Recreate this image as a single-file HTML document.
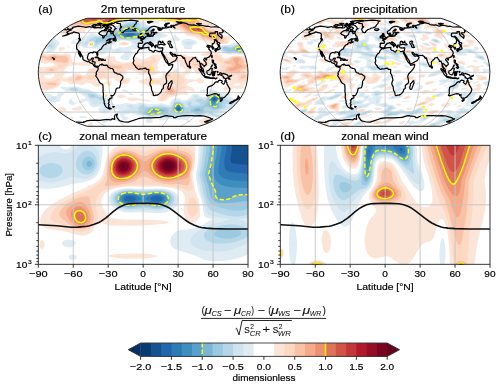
<!DOCTYPE html>
<html><head><meta charset="utf-8"><style>
html,body{margin:0;padding:0;background:#fff;width:500px;height:387px;overflow:hidden}
svg{display:block;will-change:transform}
text{font-family:"Liberation Sans",sans-serif;fill:#000;stroke:#000;stroke-width:0.18px}
.fm text{stroke-width:0.05px;fill:#111}
</style></head><body>
<svg width="500" height="387" viewBox="0 0 500 387">
<rect width="500" height="387" fill="#fff"/>
<clipPath id="cc"><rect x="38.3" y="145.3" width="209.70" height="119.00"/></clipPath>
<g clip-path="url(#cc)">
<path fill="#e0ecf3" d="M37 144 60.6 144 60.4 145 60.5 146 60.9 147 61.7 148 63 148.9 64 149.3 66 149.5 68 149.2 70 148 70.8 147 71.2 146 71.3 145 71.1 144 101.6 144 102.3 146 102.6 148 102.6 153 101.1 165 100.5 168 99.5 171 98.5 173 97.2 175 96 176.3 94.1 178 90.7 180 86 181.6 82 182.5 72 183.9 60 187.2 54 188.3 50 188.7 45 188.7 41 188.4 37 187.7 37 144 M198.4 144 249 144 249 254 246 255.4 242 256.9 237 258.4 232 259.6 227 260.4 222 260.9 217 261.1 212 261 208 260.6 205 260 203 259.4 201 258.6 196.2 256 193.7 255 180.5 251 175.2 249 173.6 248 172.4 247 171.6 246 170.6 244 170.3 243 170.1 241 170.4 239 170.7 238 172.5 235 174.4 233 176 231.8 178 230.8 180.9 230 190 229.2 193 228.6 196 227.6 203.8 224 212.5 219 206.9 218 205 216.7 204.1 215 203.4 212 201.5 200 198.3 191 197.6 186 196.4 181 195.7 174 196.8 169 197.8 162 198.8 150 198.4 144 M121.8 189 125 188.6 129 188.3 133 188.4 143 189 157 188.4 163 188.8 168 189.6 171 190.5 173 191.3 175 192.4 176.8 194 178.1 196 178.7 198 178.8 200 178.5 202 177.8 204 177 205.5 175.9 207 174 208.8 172 210.1 169 211.5 164 212.7 160 213.1 157 213.2 143 212.2 130 212.6 127 212.4 123 211.7 120 210.8 117 209.6 115 208.5 112.9 207 111 205.3 110 204 109 202 108.5 200 108.7 198 109.4 196 110.8 194 111.8 193 113.2 192 116 190.6 119 189.6 121.8 189 M65.6 240 67 239.7 69 239.6 71 239.9 73 240.5 74 241 75.2 242 75.7 243 75.7 244 75.2 245 74.1 246 72 246.9 70 247.3 68 247.3 65 246.6 63.7 246 62.6 245 62 244 61.9 243 62.4 242 63.4 241 65.6 240 M70.2 255 72 254.5 73 254.4 75 254.9 76.4 256 76.9 257 76.7 258 75.8 259 74 259.7 72 259.7 70 259.1 68.9 258 68.6 257 69 256 70.2 255"/>
<path fill="#cfe4ef" d="M81.6 145 84 144.5 87 144.3 90 144.8 92 145.5 94 146.6 96 148.3 97.2 150 98.2 152 99 155 99.3 158 99.3 162 98.8 166 98 168.7 96.9 171 95 173.7 93 175.5 91 176.8 89 177.7 87 178.3 84 178.7 80 178.5 73 177.1 70 177.3 68 177.9 62.9 180 59 181.3 55 182.1 52 182.4 48 182.4 44 181.8 40 180.5 37 179 37 158.7 40 156.6 44 154.6 47 153.5 51 152.5 54 152.1 56 152.1 63 153.3 65 153.4 67 153.2 69 152.7 72 151.2 76 147.8 78 146.4 80 145.5 81.6 145 M200.5 144 249 144 249 218 238.4 219 242 220.3 249 224.2 249 242.3 245 244.4 240 246.6 232 249.5 225.4 251 219 251.7 213 251.6 206 250.8 202.3 250 199 249 195 247.1 192.4 245 191.7 244 190.7 242 190.6 241 190.8 239 191.2 238 192.5 236 194.4 234 196.8 232 199.5 230 202.7 228 207 226 211 224.6 231.4 219 220.5 218 212 216.1 210 215.4 208 214.1 207 213.1 206 211.3 205 208.1 203.4 200 200.4 191 199.7 186 198.2 180 197.5 174 198.4 170 199.3 165 200.9 150 200.5 144 M121.3 190 125 189.4 130 189.1 143 189.9 154 189.3 158 189.2 162 189.5 165 190 168 190.7 170 191.4 172 192.4 174.1 194 174.9 195 175.9 197 176.3 199 176.1 201 175.4 203 174.8 204 174 205 172 206.8 170 208 168 209 166 209.6 163 210.3 160 210.7 156 210.8 143 209.7 130 210.5 127 210.3 124 209.8 122 209.3 119 208.3 117 207.3 115 206 113.8 205 112.1 203 111.5 202 110.9 200 110.9 199 111.2 197 112.3 195 113.1 194 114.3 193 116 191.9 118 191 121.3 190"/>
<path fill="#b3d6e8" d="M203.1 144 249 144 249 214.3 243 215.8 239 216.4 235 216.5 230 216.1 225 215 213 211.3 211 210.3 210 209.6 208.6 208 208 207 207 204.7 203.1 192 202.1 186 200.5 180 199.5 174 200.5 170 201.5 165 203.4 150 203.1 144 M87 151 89 151.1 91 151.7 93 153 94 154 95 155.4 96.2 158 96.7 160 96.9 163 96.8 165 96.2 167 95.3 169 93.9 171 92 172.7 90 173.8 88 174.4 86 174.6 84 174.3 82 173.6 80 172.3 78.7 171 77.3 169 76.4 167 76.1 165 76.1 163 76.4 161 77 159 78 157 79.4 155 81 153.4 83 152.1 85 151.3 87 151 M50 163 54 163.2 57 163.9 59.2 165 60.6 166 61.6 167 62.6 169 62.7 171 61.8 173 60 175 58.5 176 56 177.1 53 177.9 50 178 47 177.7 44.6 177 42 175.6 40.4 174 39.4 172 39.3 170 40 168 40.8 167 43 165.1 45 164.1 47 163.5 50 163 M127.3 190 132 190 143 190.9 146 190.8 154 190.1 158 190 162 190.3 165 190.9 168 191.9 170 192.8 171.6 194 172.6 195 173.3 196 174 198 174.1 199 173.9 201 173 202.8 172.1 204 169.7 206 166 207.8 162 208.8 159 209.1 156 209.1 146 208.1 143 207.9 131 208.9 127 208.8 124 208.3 121 207.4 119 206.6 117 205.4 115.3 204 114 202.4 113.3 201 112.9 199 113 198 113.7 196 114.4 195 115.3 194 117 192.7 119 191.7 121.1 191 124 190.4 127.3 190 M224.2 225 229 224.4 234 224.4 238 225 241.4 226 245.5 228 248 230 249 231.6 249 234.4 248 236 246.9 237 244 238.8 241 240.1 237 241.4 233 242.4 229 243.1 225 243.5 221 243.7 218 243.6 215 243.2 212 242.6 209 241.6 207 240.5 205.2 239 204.5 238 204 237 203.8 236 204.1 234 205.3 232 207.6 230 211 228.3 214.7 227 219 226 224.2 225"/>
<path fill="#9bc9e0" d="M206.1 144 249 144 249 208.3 243 210 240 210.5 236 210.8 233 210.5 230 209.9 217 206.6 214 205.6 212 204.6 211.3 204 209.6 202 208 198.9 207 196 205.8 191 205 186 203.2 180 202 174 204.1 165 206.4 150 206.1 144 M86.6 157 88 156.6 89 156.6 91 157.2 92 157.9 93.1 159 94 160.5 94.5 162 94.6 164 94.5 165 93.7 167 93 168.1 92 169.1 91 169.8 89 170.4 87 170.4 85.9 170 84.3 169 83.5 168 82.9 167 82.3 165 82.2 163 82.4 162 83.1 160 83.8 159 84.8 158 86.6 157 M125.3 191 129 190.7 132 190.8 143 191.9 146 191.8 156 190.8 160 190.9 163 191.4 165.4 192 167.8 193 169.4 194 170.5 195 171.8 197 172.1 198 172.1 200 171.3 202 170.6 203 168.3 205 165 206.6 161 207.5 158 207.8 155 207.7 146 206.6 143 206.5 131 207.6 128 207.6 125 207.2 121 206 119.1 205 117.6 204 115.7 202 115.2 201 114.7 199 115.1 197 115.6 196 117.4 194 118.8 193 121 192 125.3 191 M221.7 229 225 228.4 229 228.1 232 228.2 235 228.6 237 229.2 239 230.1 240.2 231 240.9 232 241.1 233 240.8 234 240 235 238 236.3 236.3 237 234 237.7 230 238.4 225 238.5 221 238.1 218 237.3 215.5 236 214.6 235 214.2 234 214.4 233 215.1 232 216.4 231 218 230.2 221.7 229"/>
<path fill="#7bb6d6" d="M209.5 144 249 144 249 201.1 242 201.6 230 203 226 203.2 223 203.1 219 202.7 216 201.9 214 201 211.8 199 211.2 198 210.5 196 208.4 186 206.5 180 205.1 174 207.2 165 209.8 150 209.5 144 M88.3 161 89 160.8 90.1 161 91 161.6 91.8 163 91.9 164 91.7 165 91 166.1 90 166.7 89 166.8 88 166.6 87.2 166 86.5 165 86.3 164 86.5 163 87 161.9 88.3 161 M124.6 192 128 191.6 131 191.6 143 192.9 146 192.8 155 191.7 158 191.6 161.6 192 165.1 193 167.1 194 168.4 195 169.3 196 169.9 197 170.2 198 170.2 200 169.3 202 168.4 203 167 204.1 164 205.5 160 206.4 155 206.5 146 205.2 143 205 140 205.3 132 206.4 129 206.5 126 206.2 122 205 119 203.3 117.7 202 117 201 116.5 199 116.8 197 117.4 196 118.2 195 119.4 194 121 193.1 124.6 192"/>
<path fill="#59a1ca" d="M213.2 144 249 144 249 194.6 241 194.7 237 195.3 234 196.4 231.1 198 228.7 199 225 199.8 222 199.8 219 199.2 217 198.2 216 197 215.7 196 215.9 193 215.4 191 211 181.5 208.6 174 210.8 165 213.4 150 213.2 144 M124.4 193 128 192.4 131 192.4 135 192.9 140 193.9 143 194.2 146 194 154 192.6 157 192.5 160 192.7 162 193 164 193.7 166.3 195 167.4 196 168.1 197 168.4 198 168.6 199 168.4 200 168 201 167.2 202 166.1 203 164.4 204 163 204.6 160 205.3 157 205.5 154 205.3 146 203.8 143 203.6 140 203.9 132 205.3 129 205.4 127 205.2 124 204.5 121 203.1 119.6 202 118.8 201 118.4 200 118.2 199 118.2 198 118.6 197 119.2 196 120.2 195 121.7 194 124.4 193"/>
<path fill="#3f8ec0" d="M217.2 144 249 144 249 188.1 233 187.4 226 186.4 223 185.6 220 184.2 218 182.8 216 180.5 214.6 178 212.9 174 217.3 150 217.2 144 M124.6 194 128 193.4 132 193.5 135.2 194 141 195.5 143 195.8 146 195.5 151.7 194 154 193.6 157 193.4 159 193.5 161.6 194 164 195 165.4 196 166.2 197 166.6 198 166.7 199 166.5 200 166 201 165.1 202 164 202.7 162 203.6 159 204.3 157 204.4 154 204.2 151 203.6 146 202.2 143 201.9 140 202.3 133 204 130 204.3 128 204.2 125 203.6 123 202.8 121 201.3 120.2 200 119.9 199 120 198 120.4 197 121 196.1 122.4 195 124.6 194"/>
<path fill="#307ab6" d="M221.4 144 249 144 249 181.3 235 180.4 231 180 228 179.5 225 178.6 223 177.7 221 176.3 218.8 174 218.5 171 218.6 168 219.8 159 221.6 150 221.4 144 M125.3 195 128 194.4 130 194.4 134.2 195 137 196 139 197 140.4 198 140.8 199 139.8 200 138.1 201 135.8 202 134 202.5 132 203 130 203.1 128 203 126 202.6 124.4 202 122.9 201 122.1 200 121.8 199 121.9 198 122.4 197 123.4 196 125.3 195 M152.6 195 155 194.6 158 194.5 160 194.8 162 195.4 163 196 164.1 197 164.7 198 164.8 199 164.5 200 163.8 201 163 201.6 161 202.6 159 203.1 156 203.2 154 202.9 150.6 202 148.4 201 146.7 200 145.8 199 146.2 198 147.6 197 149.6 196 152.6 195"/>
<path fill="#2267ac" d="M226.1 144 249 144 249 173.9 239 173.1 230 172 229 171.8 228 171.3 226 169.8 225 168.2 224.6 167 224.3 165 224.2 163 224.5 159 226.2 150 226.1 144 M126.9 196 130 195.7 132.3 196 134.7 197 135.8 198 136 199 135.3 200 133 201.2 130 201.7 127 201.4 125.9 201 125 200.4 124.6 200 124.1 199 124.2 198 124.9 197 126.9 196 M154.6 196 156 195.8 158 195.8 159.3 196 161 196.7 161.5 197 162.3 198 162.5 199 162 200 160.8 201 158 201.8 155 201.6 152.8 201 151.2 200 150.6 199 150.8 198 151.9 197 154.6 196"/>
<path fill="#175290" d="M231.8 144 249 144 249 165.1 238 164 232 163.2 231.8 163 231.1 162 230.7 161 230.2 159 231.9 150 231.8 144 M128.6 199 129 198.3 130 198.2 130.5 199 130 199.2 128.6 199 M156.2 199 157 198.5 157.8 199 157 199.2 156.2 199"/>
<path fill="#fbe5d8" d="M124.1 145 129 144.9 139 146 142 146.1 146 145.7 153.7 144 192.5 144 193 144.5 195.1 147 195.7 150 194.4 166 193.7 170 192.6 174 193 180 195 190.8 196.9 196 198.6 200 199.7 207 200.2 214 200 216.2 198.2 219 197 220.5 194.9 222 193 222.6 191 222.9 189 222.8 187 222.3 186.1 222 185.1 221 185.2 218 183.9 213 183.6 210 183.8 207 184.8 200 184.9 198 184.6 196 183.9 194 183.3 193 182 191.7 180 190.4 177 189.2 173 188.2 167 187.3 161 186.6 155 186.4 143 186.8 134 186.4 129 186.4 125 186.7 120 187.3 116 188.1 112 189.3 109 190.6 106.6 192 105.5 193 103.8 195 102.7 197 101.7 200 101.5 202 101.7 204 102.2 206 103.1 208 107.2 215 108 216.1 109.1 217 111.4 218 116.9 219 124 219.5 146 219.7 159 220.3 165.6 221 168.9 222 168.2 223 163 224.1 151 225.1 142 225.4 122 225.5 112 225.7 110 225.7 108 225.3 103 223.3 101 223.1 100 223.2 98 223.9 97 224.6 95.5 226 94.1 228 92 231.8 90.8 233 89 234.1 87 234.8 83 235.4 80 235.3 76 234.6 62 230.8 51 229.6 48 229.1 44.7 228 43 227 42 226.1 41.1 225 40.3 223 40.2 221 40.6 218 41.8 215 42.9 213 44.4 211 46.2 209 48.4 207 52 204.3 59.1 200 70 194.5 90 185.6 95 183 98.1 181 99.2 180 100.9 178 102.5 175 103.7 171 105.3 163 106 160 107.5 156 109.3 153 112 149.9 115 147.7 117 146.7 120 145.7 124.1 145 M41.6 240 42 239.9 43 240.3 43.6 241 44.1 242 44.5 244 44.4 246 44 247.3 43 248.6 42 249 41 248.6 40 247.3 39.4 245 39.6 243 40 241.6 41 240.2 41.6 240 M117.3 254 130 253.5 143 253.7 148 254 154 254.8 155 255 157.4 256 156.1 257 150.1 258 142 258.5 134 258.6 125 258.5 117.2 258 109.9 257 107.9 256 109.9 255 117.3 254"/>
<path fill="#fdd9c4" d="M160.8 147 165 146.5 169 146.4 179 147.6 186 147.8 188 148.4 190 149.5 191.6 151 193 152.7 194 154.3 194.2 156 193 167 192.4 170 191.3 174 191.6 180 192.9 186 193.2 187 193 189.2 192 190.2 191 190.8 190 191.1 189 191.1 187 190.5 181 188.1 177 187.1 162 185.4 153 184.7 138 184.7 133 184.9 123 185.7 114 187.2 108 188.8 104.7 190 103 190.8 101.2 192 100.1 193 98.7 195 97.6 197 96.5 200 96 202 95.9 204 96.2 207 97.7 214 97.9 218 97.7 220 96.5 222 92 226.8 90 228.8 88 230.1 85 231.3 82 231.8 79 231.7 76 231.1 72 229.6 64 225.3 61 224.2 56 222.8 54.1 222 52.5 221 51.6 220 51 218.8 50.7 217 51 215 51.8 213 53 211 54.6 209 56.7 207 59.1 205 65 201 72 197.2 77 194.9 86.8 191 90 189.5 99 183.5 102.1 181 103.5 179 104.6 176 106.7 164 108.2 159 109.2 157 110.5 155 112 153.3 114 151.5 116 150.3 119 149 122 148.3 125 148.1 130 148.5 134 149.4 141 151.3 143 151.6 145 151.5 148 150.9 156 148.2 160.8 147 M190.6 198 191 197.6 192 197.3 193 197.5 195 199.2 196 200.5 197 202.3 198 205.4 198.2 209 197.9 211 197.1 213 196 214.7 195 215.6 194 216.2 193 216.5 192 216.5 191 216.1 189.7 215 188.3 213 187.9 212 187.5 210 187.5 207 188 204 189 200.8 190 198.7 190.6 198"/>
<path fill="#f9c2a7" d="M164.7 149 168 148.8 172 149.1 185 151.6 187 152.3 188.1 153 190 154.6 191.1 156 192.7 159 192.5 163 191.5 169 190 174 190.3 178 190.2 181 189 184 188.1 185 187 185.4 186 185.4 184 185.1 181 184.3 179 184 169 184.2 166 183.9 162 183.3 159 182.6 156 181.6 147 177.2 145 176.7 144 176.7 143 176.8 141 177.5 133 181.8 131 182.5 128 183.3 123.9 184 108 185.9 106 185.9 105 185.4 104.7 185 106.3 182 106.8 180 107.4 169 108 165 108.7 162 110 159 112 156 114 154 116 152.6 118 151.6 121 150.7 124 150.3 127 150.4 129 150.7 132 151.4 135 152.5 142 155.7 144 156.1 145 156.1 146 155.9 148 155.2 154 152.1 158 150.4 161 149.6 164.7 149 M81.6 197 85 196.4 87 196.5 88.5 197 89.4 198 89.8 199 90.7 205 93.2 213 93.7 216 93.8 219 93.5 221 92.4 223 91 224.7 89 226.4 87 227.6 85 228.5 82 229.1 80 229.1 77 228.6 75 227.9 73 226.9 70.1 225 61.7 218 60.7 217 60 216 59.6 215 59.4 214 59.7 212 60.7 210 63.2 207 66 204.6 69.8 202 73.5 200 78 198.1 81.6 197"/>
<path fill="#f5aa89" d="M164.1 151 169 150.7 172 151 175 151.6 184 154.3 186 155.3 188.2 157 189.7 159 191 162 191.2 163 191.2 166 190.3 170 188.9 174 189.1 175 189 176.1 188 177.2 186.9 178 185 178.9 173 181.3 169 181.7 165 181.4 161 180.5 156 178.5 151.9 176 147 171.9 146 171.2 145 170.8 144 170.9 143 171.4 137.5 176 133 178.9 129 180.6 125 181.7 120 182.3 117 182.3 115 182 113 181.3 112 180.7 111 179.7 110 178.1 109.1 175 108.8 171 109 167 109.9 163 111.1 160 113 157.1 115 155.2 118 153.4 121 152.4 124 152 127 152.2 130 152.8 132 153.5 135.1 155 138.1 157 143 160.8 144 161.3 145 161.4 146 161 147 160.4 152.3 156 156 153.7 160 152 164.1 151 M79.2 202 81 202 82 202.2 83.7 203 85 204.1 87 206.8 89 210.3 90.1 213 90.7 216 90.9 218 90.7 220 90.1 222 89.4 223 88 224.4 86 225.7 84 226.5 82 226.9 79 226.8 77 226.3 75 225.4 72.9 224 70.8 222 68.6 219 67 216 66.3 214 66.3 212 66.5 211 67.4 209 69.1 207 71.5 205 74 203.6 77 202.4 79.2 202"/>
<path fill="#eb9172" d="M162.4 153 165 152.5 168 152.3 170 152.4 173 152.8 176 153.6 179.8 155 183 156.5 185.3 158 187 159.7 187.9 161 188.7 163 189.2 165 189.2 168 188.9 170 188.1 172 187 173.6 185 175.3 182 176.7 175 178.8 172 179.4 169 179.7 165 179.5 161 178.6 157.4 177 154.4 175 151.5 172 149.9 169 149.5 168 149.3 166 149.6 164 149.9 163 151.6 160 154.5 157 158 154.7 160 153.8 162.4 153 M120.8 154 124 153.5 127 153.7 130 154.5 133.1 156 135.9 158 138.5 161 139.6 163 140.2 165 140.2 166 140.2 167 139.6 169 138.7 171 136.3 174 134 176 131 177.8 128 179.1 125 179.9 121 180.3 118 180 116 179.5 114 178.6 113 177.8 111.7 176 110.9 174 110.5 172 110.3 169 110.5 166 111 163.8 112.1 161 113.3 159 115 157.1 117 155.6 119 154.6 120.8 154 M76 207 77 206.7 79 206.4 81 206.8 82 207.2 84 208.6 85 209.6 87 212.5 87.7 214 88.2 216 88.3 218 88.1 220 87.2 222 86.2 223 85 223.8 84 224.3 82 224.8 80 224.9 78 224.4 76 223.5 74.2 222 73.3 221 72.1 219 71.3 217 70.9 215 70.9 213 71.1 212 72 210.1 72.9 209 74.1 208 76 207"/>
<path fill="#de735c" d="M164.7 154 167 153.7 169 153.7 171 153.9 174 154.6 177 155.6 179 156.6 181.5 158 183 159.1 184 160 185.5 162 186 163 186.6 165 186.7 167 186.4 169 185.4 171 184.6 172 182.1 174 178 176 174 177.4 170 178.1 167 178.1 163 177.5 159.1 176 156.2 174 154.3 172 153.6 171 152.6 169 152.1 166 152.3 164 152.6 163 154.3 160 156 158.1 157.4 157 159 156 161 155 164.7 154 M123 155 125 155 128 155.4 131 156.6 133.2 158 135.2 160 136.6 162 137.3 164 137.5 165 137.5 167 136.6 170 135.5 172 133.7 174 131.1 176 128 177.5 125 178.3 122 178.6 119 178.4 117 177.8 115.4 177 114 175.8 113 174.4 112.3 173 111.8 171 111.6 169 111.8 166 112.3 164 113 162 114.2 160 116 158 117.3 157 119 156.1 121 155.3 123 155 M77.2 211 79 210.6 81 210.8 83 212 84 213 84.7 214 85.4 216 85.6 218 85.5 219 85.2 220 84.5 221 83.2 222 82 222.4 81 222.6 79 222.3 78 221.9 76.8 221 75.3 219 74.9 218 74.5 216 74.7 214 75.1 213 75.8 212 77.2 211"/>
<path fill="#d05548" d="M162.4 156 165 155.3 167 155 171 155.2 175 156.4 177 157.3 179 158.5 181 160 182 161 182.7 162 183.7 164 184.1 166 184 167 183.5 169 182.9 170 181.1 172 178.2 174 175 175.5 171 176.6 168 176.8 165 176.5 162 175.7 159 174.1 156.6 172 155.8 171 154.8 169 154.3 167 154.2 165 154.4 164 155.2 162 155.8 161 157.5 159 160 157.1 162.4 156 M120.1 157 122 156.5 125 156.3 127 156.6 129 157.2 131 158.3 133 160 134 161.2 135 163 135.3 164 135.6 166 135.3 168 134.6 170 133.3 172 132 173.4 130 174.9 128 175.9 126 176.6 123 177.1 121 177.1 119 176.7 117 175.9 115.7 175 114.8 174 113.7 172 113.1 170 113 168 113.3 165 113.9 163 115 161 116.8 159 118.1 158 120.1 157"/>
<path fill="#c2383a" d="M163.6 157 167 156.3 169 156.3 171 156.5 173 157 175 157.8 178 159.7 180.2 162 180.8 163 181.5 165 181.5 167 181.3 168 180.2 170 178.2 172 176 173.4 173 174.7 170 175.4 167 175.4 165 175.1 162 174.1 160 173 157.9 171 156.7 169 156.1 167 156.1 165 156.3 164 157.1 162 158.6 160 161 158.2 163.6 157 M121.2 158 123 157.6 125 157.6 127 158 129 158.8 130.8 160 132 161.2 133.1 163 133.7 165 133.8 166 133.5 168 132.8 170 132 171.2 131 172.3 129 173.9 127 174.9 125 175.5 123 175.7 121 175.6 119 175.1 118 174.6 117 174 116 172.9 115 171.2 114.6 170 114.3 168 114.4 166 115.3 163 116.6 161 117.6 160 119 159 121.2 158"/>
<path fill="#b3192c" d="M164.8 158 168 157.5 171 157.8 174.3 159 175.9 160 177.1 161 178.6 163 179.3 165 179.4 166 179 168 178.5 169 176.8 171 175 172.3 173 173.3 171 173.9 168 174.1 166 174 164 173.4 162 172.5 160 171 159 169.7 158.1 168 157.8 166 158.1 164 159 162 160.8 160 163 158.7 164.8 158 M122.9 159 124 158.9 126 159.2 128 159.9 129 160.5 130.6 162 131.3 163 131.7 164 132.1 166 131.8 168 131.5 169 130.2 171 129.1 172 127.7 173 126 173.7 123 174.3 121 174.1 120 173.8 118.4 173 117.3 172 116.1 170 115.8 169 115.7 167 116 165 116.3 164 117 162.7 118 161.5 120 159.9 121 159.5 122.9 159"/>
<path fill="#930e26" d="M166.4 159 169 158.9 172 159.5 174.7 161 176.5 163 177.3 165 177.3 167 176.3 169 175.5 170 174 171.1 172.3 172 171 172.4 169 172.8 167 172.7 165 172.3 163 171.4 161.3 170 160.5 169 160 168 159.5 166 159.8 164 160.3 163 161 162 163 160.3 165 159.3 166.4 159 M121.1 161 123 160.5 124 160.4 126 160.7 127 161.1 128.4 162 129.3 163 129.9 164 130.2 165 130.3 167 129.6 169 128 170.9 126 172.1 124 172.7 123 172.7 121 172.4 120 172 119 171.3 117.9 170 117.3 168 117.2 167 117.5 165 118 163.9 119 162.5 120 161.6 121.1 161"/>
<path fill="#760521" d="M164.9 161 167 160.4 169 160.3 171 160.7 173.3 162 174.3 163 174.9 164 175.3 165 175.3 166 175.2 167 174.7 168 174 169 172 170.4 170.5 171 169 171.3 167 171.2 166 171 164 170.1 163 169.3 162 168 161.6 167 161.5 165 161.8 164 162.4 163 163.3 162 164.9 161 M121 163 122 162.5 124 162.1 126 162.6 127 163.3 128 164.6 128.4 166 128.3 167 128 168 127 169.4 126 170.2 125 170.6 123 170.9 121 170.4 120 169.6 119.1 168 119 167 119.1 166 120 164 121 163"/>
<path fill="#67001f" d="M165.2 163 167 162.2 168 162.1 170 162.3 171 162.8 172.4 164 172.9 165 173 166 172.7 167 172 168.1 171 168.8 170 169.2 168 169.5 165.9 169 164.6 168 163.9 167 163.7 166 164 164.4 165.2 163 M123 165 124.3 165 125 165.6 125.2 166 125.2 167 124 168.1 122.9 168 121.9 167 122 166 123 165"/>
</g>
<path d="M73.25 145.3V264.3 M108.20 145.3V264.3 M143.15 145.3V264.3 M178.10 145.3V264.3 M213.05 145.3V264.3 M38.3 204.80H248.0" stroke="#c4c4c4" stroke-width="0.9" fill="none"/>
<g clip-path="url(#cc)" fill="none" stroke="#ffff00" stroke-width="1.45" stroke-linejoin="round">
<path d="M164.7 154 167 153.7 169 153.7 171 153.9 174 154.6 177 155.6 179 156.6 181.5 158 183 159.1 184 160 185.5 162 186 163 186.6 165 186.7 167 186.4 169 185.4 171 184.6 172 182.1 174 178 176 174 177.4 170 178.1 167 178.1 163 177.5 159.1 176 156.2 174 154.3 172 153.6 171 152.6 169 152.1 166 152.3 164 152.6 163 154.3 160 156 158.1 157.4 157 159 156 161 155 164.7 154 M123 155 125 155 128 155.4 131 156.6 133.2 158 135.2 160 136.6 162 137.3 164 137.5 165 137.5 167 136.6 170 135.5 172 133.7 174 131.1 176 128 177.5 125 178.3 122 178.6 119 178.4 117 177.8 115.4 177 114 175.8 113 174.4 112.3 173 111.8 171 111.6 169 111.8 166 112.3 164 113 162 114.2 160 116 158 117.3 157 119 156.1 121 155.3 123 155 M77.2 211 79 210.6 81 210.8 83 212 84 213 84.7 214 85.4 216 85.6 218 85.5 219 85.2 220 84.5 221 83.2 222 82 222.4 81 222.6 79 222.3 78 221.9 76.8 221 75.3 219 74.9 218 74.5 216 74.7 214 75.1 213 75.8 212 77.2 211"/>
<path d="M213.2 144 213.4 150 210.8 165 208.6 174 211 181.5 215.4 191 215.9 193 215.7 196 216 197 217 198.2 219 199.2 222 199.8 225 199.8 228.7 199 231.1 198 234 196.4 237 195.3 241 194.7 249 194.6 M125 192.9 122 193.9 120.2 195 119.2 196 118.6 197 118.2 198 118.2 199 118.4 200 118.8 201 119.6 202 120.8 203 122.6 204 124 204.5 127 205.2 129 205.4 132 205.3 140 203.9 143 203.6 146 203.8 154 205.3 157 205.5 160 205.3 163 204.6 164.4 204 166.1 203 167.2 202 168 201 168.4 200 168.6 199 168.4 198 168.1 197 167.4 196 166.3 195 164 193.7 162 193 160 192.7 157 192.5 154 192.6 146 194 143 194.2 140 193.9 132 192.5 128 192.4 125 192.9" stroke-dasharray="4.4 2.2"/>
</g>
<path d="M38.3 224.8 56.9 225.8 70.9 227.2 77.9 227.1 87.2 226.2 89.6 225.7 94.2 224.3 98.9 222.5 101.2 221.1 105.9 217.8 108.2 216 112.9 211.9 117.5 208.4 119.8 207 124.5 204.8 129.2 203.8 131.5 203.6 140.8 203.3 147.8 203.4 157.1 203.8 161.8 204.8 166.4 206.5 168.8 207.7 173.4 210.8 182.8 218.1 187.4 221.5 189.8 223 194.4 225.3 199.1 227 201.4 227.5 206.1 228.1 213.1 228.6 227 229 248 229" fill="none" stroke="#111" stroke-width="1.6" stroke-linejoin="round"/>
<rect x="38.3" y="145.3" width="209.70" height="119.00" fill="none" stroke="#222" stroke-width="0.9"/>
<path d="M38.30 264.3v3.4 M73.25 264.3v3.4 M108.20 264.3v3.4 M143.15 264.3v3.4 M178.10 264.3v3.4 M213.05 264.3v3.4 M248.00 264.3v3.4 M38.3 145.30h-3.4 M38.3 204.80h-3.4 M38.3 264.30h-3.4 M38.3 163.21h-2 M38.3 173.69h-2 M38.3 181.12h-2 M38.3 186.89h-2 M38.3 191.60h-2 M38.3 195.58h-2 M38.3 199.03h-2 M38.3 202.08h-2 M38.3 222.71h-2 M38.3 233.19h-2 M38.3 240.62h-2 M38.3 246.39h-2 M38.3 251.10h-2 M38.3 255.08h-2 M38.3 258.53h-2 M38.3 261.58h-2" stroke="#222" stroke-width="0.9" fill="none"/>
<text x="38.30" y="277.30" font-size="9.29" text-anchor="middle" textLength="18.68" lengthAdjust="spacingAndGlyphs">−90</text>
<text x="73.25" y="277.30" font-size="9.29" text-anchor="middle" textLength="18.68" lengthAdjust="spacingAndGlyphs">−60</text>
<text x="108.20" y="277.30" font-size="9.29" text-anchor="middle" textLength="18.68" lengthAdjust="spacingAndGlyphs">−30</text>
<text x="143.15" y="277.30" font-size="9.29" text-anchor="middle" textLength="5.63" lengthAdjust="spacingAndGlyphs">0</text>
<text x="178.10" y="277.30" font-size="9.29" text-anchor="middle" textLength="11.26" lengthAdjust="spacingAndGlyphs">30</text>
<text x="213.05" y="277.30" font-size="9.29" text-anchor="middle" textLength="11.26" lengthAdjust="spacingAndGlyphs">60</text>
<text x="248.00" y="277.30" font-size="9.29" text-anchor="middle" textLength="11.26" lengthAdjust="spacingAndGlyphs">90</text>
<text x="27.30" y="148.60" font-size="9.29" text-anchor="end" textLength="11.26" lengthAdjust="spacingAndGlyphs">10</text>
<text x="27.90" y="145.40" font-size="6.20" textLength="3.75" lengthAdjust="spacingAndGlyphs">1</text>
<text x="27.30" y="208.10" font-size="9.29" text-anchor="end" textLength="11.26" lengthAdjust="spacingAndGlyphs">10</text>
<text x="27.90" y="204.90" font-size="6.20" textLength="3.75" lengthAdjust="spacingAndGlyphs">2</text>
<text x="27.30" y="267.60" font-size="9.29" text-anchor="end" textLength="11.26" lengthAdjust="spacingAndGlyphs">10</text>
<text x="27.90" y="264.40" font-size="6.20" textLength="3.75" lengthAdjust="spacingAndGlyphs">3</text>
<text x="143.15" y="289.50" font-size="9.29" text-anchor="middle" textLength="57.19" lengthAdjust="spacingAndGlyphs">Latitude [°N]</text>
<clipPath id="cd"><rect x="280.3" y="145.3" width="209.70" height="119.00"/></clipPath>
<g clip-path="url(#cd)">
<path fill="#e0ecf3" d="M324.2 144 335.4 144 336.7 153 337.6 157 339.4 162 341.1 165 342.4 167 344 168.9 347 171.6 349 172.8 351 173.7 353 174.2 354 174.3 356 173.9 357 173.3 358 172.2 359 170.5 360 167.6 361.2 161 362.2 149 363.2 144 415.2 144 416.4 147 416.9 149 417.1 151 417.2 158 417.7 161 418.6 164 422.6 175 424.1 181 424.4 184 424.4 186 424.1 188 423.8 189 423 190.3 422.1 191 421 191.2 420 191.1 418 190.2 415 187.8 413 185.7 410 182 403.4 172 398.3 165 395.6 162 393.1 160 390 158.7 386 158.1 382 158.2 379 159 378 159.7 377 160.7 376 162.5 375.5 164 374.8 168 373.6 180 372.9 183 371.9 185 370 187.9 363.4 196 359 203 356.7 208 353 218.2 352 220.4 350.4 223 349 224.8 347 226.2 345 226.7 343 226.3 341 225.1 339 223.1 337 220.3 334 215.1 331.9 211 330 206.4 328.5 202 327.2 197 325.6 188 324.6 177 324.2 168 324 154 324.2 144 M291.5 223 292 222.2 293 222.1 294 223.5 294.5 225 295.1 227 295.9 231 296.6 238 296.9 247 296.5 255 295.5 262 295 264.1 294.2 266 291.7 266 291 264.4 289.8 259 289.1 252 288.8 243 289.2 234 290 227.6 290.9 224 291.5 223 M441.5 239 442 238.1 443 238.1 443.5 239 444 240 444.2 241 445.1 246 445.4 251 445.3 257 445 261 444 266 440.7 266 440.1 263 439.7 260 439.4 254 439.8 247 440.5 242 441 240 441.5 239"/>
<path fill="#cfe4ef" d="M363.9 144 413 144 414.3 147 414.7 149 414.9 152 414.8 158 415.3 162 416.5 166 419.1 173 420.1 177 420.5 181 420.1 183 419 184.2 418 184.3 417 184.1 416 183.5 414 181.9 411 178.5 407.1 173 404.7 170 397.6 162 396 160.5 394 158.9 391 157.5 387 156.7 382 156.7 379 157.2 377.6 158 376.5 159 375.8 160 374.9 162 374 166.1 372.9 177 372.4 180 371.5 183 370 185.9 369 187.2 367 189.2 365 190.8 360.1 194 357.8 196 355.8 198 352.7 202 349 208.2 347 210.6 346 211.3 345 211.7 344 211.9 343 211.7 342 211.3 340 209.9 338 207.7 336 204.8 333 199 331.8 196 330.5 192 329.1 185 328.5 178 328.7 170 329 167 329.7 164 330 163.1 331 161.4 332 161.1 333 161.5 335 163.4 340.8 170 343 172 346 174.2 349 175.8 352 176.9 354 177.2 355 177.2 357 176.5 358 175.7 359.1 174 360 171.9 361 168 361.9 161 362.7 150 363.1 147 363.9 144 M292.8 241 293 240.1 293.4 244 293 247.5 292.5 244 292.8 241"/>
<path fill="#b3d6e8" d="M364.5 144 411 144 412.4 147 413 150 413 153 412.7 159 412.7 162 413.1 166 414.1 171 414.1 173 414 173.2 413 173.4 412 172.8 407.6 169 403 165.5 396.3 159 395 158 393 156.9 390 155.8 386 155.3 381 155.3 379 155.6 378 156 377 156.5 375.6 158 375 159 374 161.5 373.1 166 372.1 175 371.5 179 370.6 182 370 183.3 368.9 185 367 187 365 188.2 360 189.6 358 190.5 356 191.9 349 197.8 347 199.1 345 200 344 200.2 342 199.9 340 198.8 338 196.8 336.2 194 334.8 191 333.9 188 333.3 184 333.4 180 334.1 177 335 175.5 336 174.7 337 174.5 338 174.5 340 175.1 348 178.7 353 180.5 355 180.8 356 180.8 357 180.5 358 179.9 359 178.7 360 176.8 361.3 172 362.5 163 363.3 150 363.7 147 364.5 144"/>
<path fill="#9bc9e0" d="M364.9 145 365.2 144 409.2 144 410.7 147 411.2 149 411.4 151 411 156.3 410.3 160 409.8 162 409 163.6 408 164.4 407 164.6 406 164.5 405 164.2 403 163.1 401 161.6 396 157.2 394 155.9 392 155 388 154.1 383 153.8 379 154 377 154.7 376 155.5 374.8 157 374 158.5 373.2 161 372.4 165 371 175.5 370.2 179 369.5 181 368.4 183 367 184.4 366 185 365 185.3 364 185.3 363 185 361.9 184 361.5 183 361.4 181 362.9 167 363.8 151 364.2 148 364.9 145 M342.2 182 344 182 347 182.8 349.4 184 350.7 185 351.4 186 351.7 187 351.5 188 350.9 189 350.1 190 348 191.5 346 192.3 344 192.3 343 192 341.5 191 340.6 190 339.7 188 339.3 186 339.4 185 339.6 184 340.3 183 341 182.4 342.2 182"/>
<path fill="#7bb6d6" d="M365.6 145 366 144 407.5 144 409.2 147 409.9 150 409.9 153 409.1 157 408 159.7 407 160.9 406 161.4 405 161.5 404 161.4 402 160.5 395 155.1 393 154 391 153.3 387 152.6 382 152.2 379 152.3 377 152.9 376 153.6 375 154.6 374 156.1 373.1 158 372 162 370.3 173 369.4 177 369 178.1 368 180.1 367 181.1 366 181.5 365 181.2 364.3 180 363.8 178 363.7 175 364.3 152 364.8 148 365.6 145"/>
<path fill="#59a1ca" d="M366.5 145 367 144 405.7 144 407.2 146 408.1 148 408.5 151 408.2 154 407.6 156 406.5 158 406 158.5 405.1 159 404 159.2 402 158.6 400 157.3 395 153.5 393 152.5 391 151.8 388 151.1 381 150.2 379 150.2 377 150.7 376 151.4 374.5 153 373.3 155 372.4 157 371.3 161 370 168.4 369 172.9 368 175.4 367 176.4 366 175.9 365.4 174 365 171.7 364.8 168 364.9 152 365.5 148 366.5 145"/>
<path fill="#3f8ec0" d="M367.7 145 368.6 144 372.7 144 374.2 145 375.1 146 375.6 147 375.4 148 373 152.9 371.3 157 370.4 160 369 166.4 368 169.3 367 169.7 366.4 168 366 165.4 365.6 153 366.1 149 367 146.1 367.7 145 M383.6 145 386.2 144 403.5 144 405.5 146 406.6 148 407.1 151 406.6 154 406 155.3 405 156.4 404 156.9 403 156.9 402 156.7 400 155.5 396 152.4 393 150.6 390 149.5 384.6 148 382.7 147 382.5 146 383.6 145"/>
<path fill="#307ab6" d="M395.5 145 398 144.5 400 144.5 402 145.1 403 145.7 404 146.6 404.9 148 405.2 149 405.4 151 405 152.8 404 154.2 403 154.6 402 154.5 401 154.1 399 152.8 394.8 149 393.9 148 393.4 147 393.7 146 395.5 145 M368.8 146 370 145.5 371 145.7 371.4 146 372.2 147 372.5 148 372.6 149 372.2 151 370 157.1 369 159.7 368 161.2 367 159 366.6 155 366.6 152 367.1 149 368 146.8 368.8 146"/>
<path fill="#2267ac" d="M399.2 148 400 147.6 401 147.6 402 148.2 402.5 149 402.7 150 402.3 151 402 151.2 401 151.1 400 150.3 399.1 149 399.2 148 M368.8 150 369 149.6 369.7 150 369.9 151 369 153.3 368.5 152 368.8 150"/>
<path fill="#fbe5d8" d="M292.9 144 316.5 144 317.8 160 318.5 176 318.8 192 318.3 204 317.2 213 316.3 217 315.4 220 314 223 313 224.5 311.5 226 310 226.8 309 226.9 308 226.8 307 226.3 306 225.6 304 223.1 303 221.3 302 219 300 212.7 297.8 204 295.8 195 294.7 189 293.8 183 292.8 171 292.4 157 292.9 144 M340.5 144 362 144 361.2 148 360 158.4 359.3 162 358 165.6 357 167.2 356 168.1 355 168.6 354 168.8 353 168.8 351 168.2 349 167 348 166.2 346.9 165 345.4 163 343.8 160 342.4 156 341.4 151 340.5 144 M420.5 144 491 144 491 156.7 487.6 165 485.8 173 484.6 181 485.6 189 486 196 485.9 203 485.3 209 483.6 218 480.2 230 478 239.9 476 251.8 474.2 266 449.9 266 449.6 255 448.9 245 448.1 237 447 230 445.6 225 444 221.2 443 219.8 442 219.1 441 218.9 440 219.5 439 220.8 438.4 222 437.3 225 434 236.2 433 238.5 432 240 431 240.9 430 241.4 425 242.7 423 243.8 422 244.7 420.8 246 419 248.5 414.6 256 412 259.9 409.1 263 407 264.4 406 264.8 404 265.1 403 265 401 264.5 398 262.9 391 257.7 388 256.4 386 256.2 384 256.4 377 258.2 375 258.3 373 258 371 257.1 369.6 256 368 254.2 366.8 252 366 250 365.2 247 364.7 242 364.9 236 366 229.4 367.3 225 369 221 371 217.9 375.5 213 376.1 212 376.4 211 376.3 210 375.2 208 372 204.1 370 201 369 198.3 368.9 196 369.3 194 370.2 192 374.1 186 375.7 183 376.3 181 376.6 179 377 171 377.4 168 377.9 166 378.4 165 379 164 380 163 381 162.4 383 161.7 385 161.5 387 161.6 389 161.9 391 162.7 392.8 164 393.9 165 395.4 167 397.2 170 401.6 180 403.3 183 408.8 191 414 199.6 416 202 418 203.9 420 205.4 422 206.4 424 207 426 207.2 428 206.8 429 206.3 430 205.6 431.2 204 432.2 201 432.4 198 432.2 194 431.4 188 429.6 180 423.7 161 423 157.6 422.1 149 420.5 144 M325 230 326 229.9 327 230.3 328 231.2 329 232.8 330.2 236 330.9 240 330.9 245 330.1 249 329 251.4 328 252.5 327 252.9 326 252.8 325 252.1 323.6 250 322.8 248 322.3 246 321.7 242 321.7 238 322.3 234 323 232 323.7 231 325 230 M279 249 279 248.5 280 248 281 248 282 248.6 282.4 249 283.4 251 283.6 253 283.4 255 282.4 257 282 257.5 281 258 280 258 279 257.5 279 249 M313.4 261 315 260.6 318 260.5 320 260.7 323 261.4 324.2 262 325.5 263 326 264 326.1 265 325.8 266 308.5 266 308.3 265 308.5 264 309.2 263 311 261.8 313.4 261"/>
<path fill="#fdd9c4" d="M297.4 144 313.4 144 314.8 155 315.6 166 315.9 178 315.5 189 314.6 197 314 200.3 313 203.9 312 206.3 311 208 310 209 309 209.5 308 209.6 307 209.3 306 208.5 304.8 207 303.2 204 301 197.8 299.8 193 298.8 188 297.4 177 296.7 166 296.6 155 297.4 144 M342.1 144 361.4 144 360.4 149 359 159 358 162.3 357 164.1 356 165.2 355 165.8 354 166.1 352 165.9 350.1 165 349 164.1 347 161.8 345.4 159 344 155 342.9 150 342.1 144 M423.4 144 488.3 144 488.1 145 479.3 165 473.6 181 473.6 193 473 205 471.7 218 470 230 468.9 244 467.3 260 467.3 261 468 264 467.9 266 453.6 266 453.5 265 453.5 261 450.5 237 449.6 230 448.2 224 446.9 219 445 213.6 440.5 204 436.8 194 433.3 181 426.9 160 424.9 149 423.4 144 M384.3 164 387 163.9 389 164.4 391 165.5 393 167.6 394 169.1 395.3 172 397.6 180 398.4 182 399.5 184 403.1 189 404.8 192 405.5 194 405.7 196 405.5 198 405.2 199 404.2 201 403 202.3 401 203.6 400 204 397 204.8 391 205.5 386 205.5 381 204.9 379 204.4 377 203.6 375 202.5 373.1 201 372.2 200 371.1 198 370.7 196 370.7 195 371.2 193 372.8 190 376.9 184 378.2 181 378.5 179 378.9 171 379.6 168 380 167 381 165.7 382 164.9 384.3 164 M279.9 249 281 249 282 249.7 282.7 251 282.9 252 282.9 254 282.7 255 282 256.3 281 257 280 257 279 256.3 279 249.7 279.9 249 M313 262 314 261.7 316 261.3 318 261.3 320 261.6 322 262.2 323.3 263 324.2 264 324.4 265 324.1 266 310.1 266 309.8 265 310.1 264 311 263 313 262"/>
<path fill="#f9c2a7" d="M301.9 144 309.5 144 311 150 312 156.5 312.6 163 312.9 170 312.9 177 312.5 183 311.9 187 310.9 191 310 193.2 309 194.5 308 195 307 194.9 306 194.1 305 192.6 304 190.5 303 187.5 302 183.4 300.8 176 300.1 167 300.1 159 300.6 151 301 148 301.9 144 M343.5 144 360.7 144 359.7 149 358.8 155 358 158.5 357 161 356 162.3 355 163.1 354 163.4 353 163.5 351 162.8 349 161.1 347.4 159 346 156 345.1 153 344.2 149 343.5 144 M426.3 144 482.7 144 482.6 145 474.4 165 468.7 181 468.6 188 468.2 195 467.1 209 466.1 217 465 224.1 463.7 230 463 235 462 240.1 461 243.2 460 244.8 459 245.1 458 244.3 457 242.6 456 240.1 455 236.7 453.5 230 452 225.3 444.9 200 441.4 193 438.3 185 434.4 173 432.2 165 430.4 160 427.9 149 426.3 144 M384.3 168 386 167.5 388 167.9 389.7 169 390.5 170 391.2 171 392 173.1 393.2 180 393.9 182 395.2 184 399.4 189 400.6 191 401.3 193 401.4 195 401.1 196 400.1 198 399.1 199 397.9 200 396 201 392 202.4 389 202.9 385 203 382 202.8 379 202.1 377 201.3 374.9 200 373.1 198 372.4 196 372.4 194 372.6 193 373.5 191 375 188.8 379.1 184 380.5 182 380.9 181 381.3 179 381.5 174 382 171 383 169.1 384.3 168 M279.5 250 280 249.6 281 249.6 282 250.6 282.5 252 282.5 254 282.2 255 281 256.4 280 256.4 279 255.4 279 250.6 279.5 250 M315.5 262 317 261.9 319 262 321 262.5 321.9 263 323 264 323.3 265 323 266 311.1 266 310.8 265 311.1 264 312 263.2 314 262.3 315.5 262 M457.4 262 458 261.5 460 261.1 463 261.3 465 262.4 465.6 263 466.2 264 466.4 265 466.1 266 455.7 266 455.4 265 455.6 264 456.2 263 457.4 262"/>
<path fill="#f5aa89" d="M344.7 144 360.1 144 357.5 156 357 157.4 356.2 159 355 160.2 354 160.7 353 160.7 352 160.5 351 160 350 159.1 348.4 157 347.4 155 346.3 152 345.4 148 344.7 144 M429.4 144 478.1 144 478 145 470.6 165 465 181 464.7 187 464.1 193 461.7 208 461 211.3 460 214.3 459 216.2 458 217 457 217 456 216.3 455 215 454 213.2 452 208 449.6 200 445.9 193 442.3 185 439.4 177 435.7 165 433.6 159 430.9 149 429.4 144 M305.8 159 306 158.6 307 159 308 162 308.3 165 308.5 169 308.2 172 308 173.4 307 174.9 306 173.8 305.1 170 304.9 168 305 162 305.8 159 M384.4 183 386 182.4 387 182.4 389 183.1 391 184.4 394 186.8 396 188.7 397 190 397.6 191 398.3 193 398.2 195 397.1 197 396.2 198 395 198.9 392.8 200 390 200.8 387 201.3 383 201.3 380 200.7 378 200 376 198.8 374.5 197 374 195.9 373.8 194 374.4 192 375.6 190 377 188.4 379 186.5 382 184.3 384.4 183 M279.3 251 280 250.2 281 250.2 281.7 251 282.1 252 282.1 254 281.7 255 281 255.8 280 255.8 279 254.4 279 251.6 279.3 251 M460.1 262 461 261.9 463 262.2 464.4 263 465.2 264 465.5 265 465.2 266 456.7 266 456.4 265 456.6 264 457 263.5 458 262.6 459 262.2 460.1 262 M313.4 263 316 262.3 319 262.5 321 263.2 322.1 264 322.5 265 322.1 266 312 266 311.6 265 312 264 313.4 263"/>
<path fill="#eb9172" d="M345.9 144 359.3 144 357 153.4 356 155.8 355 157.1 354 157.7 353 157.8 352 157.6 351.1 157 350 155.9 348.8 154 347.6 151 346.7 148 345.9 144 M432.6 144 474 144 473.8 145 467 165.3 461.3 181 460.6 187 459.4 192 458 194.9 457 195.9 456 196.3 455 196.3 454 195.8 452 194.1 449 189.8 446 184.1 443 176.6 437.4 160 432.8 145 432.6 144 M384 186 386 185.8 389 186.3 392 188 394 189.7 394.9 191 395.4 192 395.7 194 395.5 195 395 195.9 394.1 197 392 198.4 390 199.2 388 199.7 385 199.9 382 199.7 380 199.2 378 198.3 376.4 197 375.8 196 375.4 195 375.4 194 375.9 192 376.5 191 378 189.3 380 187.7 382 186.7 384 186 M279.8 251 280 250.8 281 250.8 281.7 252 281.9 253 281.7 254 281 255.2 280 255.2 279.3 254 279.1 253 279.3 252 279.8 251 M314.7 263 317 262.6 319 262.9 320 263.2 321.3 264 321.7 265 321.2 266 312.8 266 312.4 265 312.8 264 314.7 263 M458.5 263 460 262.4 461 262.4 463 262.8 464.6 264 464.8 265 464.5 266 457.4 266 457.1 265 457.4 264 458.5 263"/>
<path fill="#de735c" d="M347.1 144 358.5 144 357 149.4 356 152 355 153.7 354 154.5 353 154.7 352 154.4 351 153.7 350 152.4 348.4 149 347.1 144 M436.1 144 469.9 144 469.7 145 463.6 165 461 171.8 459 176.4 456 182.2 455 183.5 454 184 453 184 452 183.5 451 182.7 449 180 447 176.1 445 171.2 441 160 436.2 145 436.1 144 M383.6 188 386 187.8 388 188.2 390 189 391.4 190 392.4 191 393 192 393.3 193 393.3 194 392.9 195 392.2 196 391 197 389 197.9 387 198.4 385 198.6 383 198.5 381 198 379 197.1 378 196.2 377.2 195 377.1 194 377.2 193 378 191.4 380 189.5 382 188.5 383.6 188 M279.7 252 280 251.4 281 251.4 281.3 252 281.5 253 281.3 254 281 254.6 280 254.6 279.7 254 279.5 253 279.7 252 M459.6 263 461 262.7 463 263.2 464 264 464.3 265 463.9 266 458 266 457.6 265 458 264 459 263.2 459.6 263 M313.6 264 315 263.3 316 263.1 318 263.1 319 263.3 320.5 264 321 265 320.4 266 313.6 266 313.1 265 313.6 264"/>
<path fill="#d05548" d="M348.4 144 357.6 144 356 148.3 355 150.1 354 151 353 151.3 352 151 351 150.1 350.3 149 349 146.2 348.4 144 M440.1 144 465.4 144 465.3 145 459.3 165 457 169.1 455 171.4 454 171.9 453 172.1 452 171.8 451 171.1 450 170 448 166.7 447 164.6 445 159.1 440.2 145 440.1 144 M382.8 190 384 189.7 386 189.7 387.4 190 389 190.8 390.2 192 390.6 193 390.6 194 390.1 195 389 196 388 196.5 386 197 383 196.9 380.5 196 379.5 195 379.2 194 379.3 193 379.8 192 380.8 191 382.8 190 M279.9 253 280 252.3 281 252.3 281.1 253 281 253.7 280 253.7 279.9 253 M314.5 264 316 263.5 318 263.5 319.6 264 320.3 265 319.6 266 314.5 266 313.8 265 314.5 264 M458.5 264 460 263.2 462 263.2 463.4 264 463.9 265 463.4 266 458.6 266 458.1 265 458.5 264"/>
<path fill="#c2383a" d="M349.9 144 356.3 144 355 146.6 354 147.6 353 147.9 352 147.5 351 146.4 349.9 144 M445.6 144 459.7 144 459.6 145 458 148.9 456 153 455 154.4 454 155.3 453 155.6 452 155.4 451 154.6 450 153.3 447 147.8 445.7 145 445.6 144 M382.7 193 384 192.2 385 192.1 386 192.4 386.8 193 386.7 194 386 194.5 385 194.8 384 194.8 382.7 194 382.7 193 M315.6 264 317 263.8 318 263.9 319 264.4 319.5 265 318.4 266 315.6 266 314.5 265 315.6 264 M459.1 264 460 263.6 461 263.4 462 263.6 462.9 264 463.4 265 462.8 266 459.1 266 458.6 265 459.1 264"/>
<path fill="#b3192c" d="M352.5 144 354.1 144 353 144.3 352.5 144 M459.8 264 461 263.7 462 263.9 463 265 462.2 266 459.8 266 459 265 459.8 264 M315.5 265 316 264.6 317 264.4 318 264.6 318.5 265 318 265.4 317 265.6 316 265.4 315.5 265"/>
<path fill="#930e26" d="M459.6 265 460 264.5 461 264.1 462 264.5 462.4 265 462 265.5 461 265.9 460 265.5 459.6 265"/>
<path fill="#760521" d="M460.3 265 461 264.7 461.6 265 461 265.3 460.3 265"/>
</g>
<path d="M315.25 145.3V264.3 M350.20 145.3V264.3 M385.15 145.3V264.3 M420.10 145.3V264.3 M455.05 145.3V264.3 M280.3 204.80H490.0" stroke="#c4c4c4" stroke-width="0.9" fill="none"/>
<g clip-path="url(#cd)" fill="none" stroke="#ffff00" stroke-width="1.45" stroke-linejoin="round">
<path d="M358.5 144 357 149.4 356 152 355 153.7 354 154.5 353 154.7 352 154.4 351 153.7 349.8 152 349 150.5 348.1 148 347.1 144 M469.9 144 469.7 145 463.6 165 461 171.8 459 176.4 456 182.2 455 183.5 454 184 453 184 452 183.5 451 182.7 449 180 447 176.1 445 171.2 441 160 436.2 145 436.1 144 M383.6 188 386 187.8 388 188.2 390 189 391.4 190 392.4 191 393 192 393.3 193 393.3 194 392.9 195 392.2 196 391 197 389 197.9 387 198.4 385 198.6 383 198.5 381 198 379 197.1 378 196.2 377.2 195 377.1 194 377.2 193 378 191.4 380 189.5 382 188.5 383.6 188 M279.7 252 280 251.4 281 251.4 281.3 252 281.5 253 281.3 254 281 254.6 280 254.6 279.7 254 279.5 253 279.7 252 M313.6 266 313.1 265 313.6 264 315 263.3 317 263 319 263.3 320.5 264 321 265 320.4 266 M458 266 457.6 265 458 264 459 263.2 461 262.7 463 263.2 464 264 464.3 265 463.9 266"/>
<path d="M367 144 365.8 147 365 151 364.8 155 364.8 165 364.9 170 365.2 173 366 175.9 367 176.4 368 175.4 369 172.9 370 168.4 371.3 161 372.4 157 374 153.7 375 152.4 376 151.4 377 150.7 378 150.4 380 150.2 385 150.7 390 151.5 393 152.5 395 153.5 400 157.3 402 158.6 404 159.2 405 159 406 158.5 407.2 157 408 154.9 408.5 152 408.5 150 408.1 148 407.2 146 405.7 144" stroke-dasharray="4.4 2.2"/>
</g>
<path d="M280.3 224.8 298.9 225.8 312.9 227.2 319.9 227.1 329.2 226.2 331.6 225.7 336.2 224.3 340.9 222.5 343.2 221.1 347.9 217.8 350.2 216 354.9 211.9 359.5 208.4 361.9 207 366.5 204.8 371.2 203.8 373.5 203.6 382.8 203.3 389.8 203.4 399.1 203.8 403.8 204.8 408.5 206.5 410.8 207.7 415.4 210.8 424.8 218.1 429.4 221.5 431.8 223 436.4 225.3 441.1 227 443.4 227.5 448.1 228.1 455.1 228.6 469 229 490 229" fill="none" stroke="#111" stroke-width="1.6" stroke-linejoin="round"/>
<rect x="280.3" y="145.3" width="209.70" height="119.00" fill="none" stroke="#222" stroke-width="0.9"/>
<path d="M280.30 264.3v3.4 M315.25 264.3v3.4 M350.20 264.3v3.4 M385.15 264.3v3.4 M420.10 264.3v3.4 M455.05 264.3v3.4 M490.00 264.3v3.4 M280.3 145.30h-3.4 M280.3 204.80h-3.4 M280.3 264.30h-3.4 M280.3 163.21h-2 M280.3 173.69h-2 M280.3 181.12h-2 M280.3 186.89h-2 M280.3 191.60h-2 M280.3 195.58h-2 M280.3 199.03h-2 M280.3 202.08h-2 M280.3 222.71h-2 M280.3 233.19h-2 M280.3 240.62h-2 M280.3 246.39h-2 M280.3 251.10h-2 M280.3 255.08h-2 M280.3 258.53h-2 M280.3 261.58h-2" stroke="#222" stroke-width="0.9" fill="none"/>
<text x="280.30" y="277.30" font-size="9.29" text-anchor="middle" textLength="18.68" lengthAdjust="spacingAndGlyphs">−90</text>
<text x="315.25" y="277.30" font-size="9.29" text-anchor="middle" textLength="18.68" lengthAdjust="spacingAndGlyphs">−60</text>
<text x="350.20" y="277.30" font-size="9.29" text-anchor="middle" textLength="18.68" lengthAdjust="spacingAndGlyphs">−30</text>
<text x="385.15" y="277.30" font-size="9.29" text-anchor="middle" textLength="5.63" lengthAdjust="spacingAndGlyphs">0</text>
<text x="420.10" y="277.30" font-size="9.29" text-anchor="middle" textLength="11.26" lengthAdjust="spacingAndGlyphs">30</text>
<text x="455.05" y="277.30" font-size="9.29" text-anchor="middle" textLength="11.26" lengthAdjust="spacingAndGlyphs">60</text>
<text x="490.00" y="277.30" font-size="9.29" text-anchor="middle" textLength="11.26" lengthAdjust="spacingAndGlyphs">90</text>
<text x="269.30" y="148.60" font-size="9.29" text-anchor="end" textLength="11.26" lengthAdjust="spacingAndGlyphs">10</text>
<text x="269.90" y="145.40" font-size="6.20" textLength="3.75" lengthAdjust="spacingAndGlyphs">1</text>
<text x="269.30" y="208.10" font-size="9.29" text-anchor="end" textLength="11.26" lengthAdjust="spacingAndGlyphs">10</text>
<text x="269.90" y="204.90" font-size="6.20" textLength="3.75" lengthAdjust="spacingAndGlyphs">2</text>
<text x="269.30" y="267.60" font-size="9.29" text-anchor="end" textLength="11.26" lengthAdjust="spacingAndGlyphs">10</text>
<text x="269.90" y="264.40" font-size="6.20" textLength="3.75" lengthAdjust="spacingAndGlyphs">3</text>
<text x="385.15" y="289.50" font-size="9.29" text-anchor="middle" textLength="57.19" lengthAdjust="spacingAndGlyphs">Latitude [°N]</text>
<text x="12.30" y="204.80" font-size="9.29" text-anchor="middle" textLength="63.48" lengthAdjust="spacingAndGlyphs" transform="rotate(-90 12.3 204.80)">Pressure [hPa]</text>
<text x="38.30" y="13.30" font-size="10.82" textLength="14.35" lengthAdjust="spacingAndGlyphs">(a)</text>
<text x="143.15" y="13.30" font-size="10.82" text-anchor="middle" textLength="84.60" lengthAdjust="spacingAndGlyphs">2m temperature</text>
<text x="280.30" y="13.30" font-size="10.82" textLength="14.58" lengthAdjust="spacingAndGlyphs">(b)</text>
<text x="385.05" y="13.30" font-size="10.82" text-anchor="middle" textLength="64.89" lengthAdjust="spacingAndGlyphs">precipitation</text>
<text x="38.30" y="140.40" font-size="10.82" textLength="13.70" lengthAdjust="spacingAndGlyphs">(c)</text>
<text x="143.15" y="140.40" font-size="10.82" text-anchor="middle" textLength="127.91" lengthAdjust="spacingAndGlyphs">zonal mean temperature</text>
<text x="280.30" y="140.40" font-size="10.82" textLength="14.58" lengthAdjust="spacingAndGlyphs">(d)</text>
<text x="385.05" y="140.40" font-size="10.82" text-anchor="middle" textLength="87.52" lengthAdjust="spacingAndGlyphs">zonal mean wind</text>
<rect x="140.60" y="343.0" width="246.60" height="13.40" fill="#0a3b70"/>
<rect x="150.88" y="343.0" width="236.32" height="13.40" fill="#175290"/>
<rect x="161.15" y="343.0" width="226.05" height="13.40" fill="#2267ac"/>
<rect x="171.43" y="343.0" width="215.77" height="13.40" fill="#307ab6"/>
<rect x="181.70" y="343.0" width="205.50" height="13.40" fill="#3f8ec0"/>
<rect x="191.97" y="343.0" width="195.22" height="13.40" fill="#59a1ca"/>
<rect x="202.25" y="343.0" width="184.95" height="13.40" fill="#7bb6d6"/>
<rect x="212.52" y="343.0" width="174.68" height="13.40" fill="#9bc9e0"/>
<rect x="222.80" y="343.0" width="164.40" height="13.40" fill="#b3d6e8"/>
<rect x="233.07" y="343.0" width="154.12" height="13.40" fill="#cfe4ef"/>
<rect x="243.35" y="343.0" width="143.85" height="13.40" fill="#e0ecf3"/>
<rect x="253.62" y="343.0" width="133.57" height="13.40" fill="#ffffff"/>
<rect x="263.90" y="343.0" width="123.30" height="13.40" fill="#ffffff"/>
<rect x="274.18" y="343.0" width="113.02" height="13.40" fill="#fbe5d8"/>
<rect x="284.45" y="343.0" width="102.75" height="13.40" fill="#fdd9c4"/>
<rect x="294.73" y="343.0" width="92.47" height="13.40" fill="#f9c2a7"/>
<rect x="305.00" y="343.0" width="82.20" height="13.40" fill="#f5aa89"/>
<rect x="315.27" y="343.0" width="71.93" height="13.40" fill="#eb9172"/>
<rect x="325.55" y="343.0" width="61.65" height="13.40" fill="#de735c"/>
<rect x="335.82" y="343.0" width="51.38" height="13.40" fill="#d05548"/>
<rect x="346.10" y="343.0" width="41.10" height="13.40" fill="#c2383a"/>
<rect x="356.38" y="343.0" width="30.82" height="13.40" fill="#b3192c"/>
<rect x="366.65" y="343.0" width="20.55" height="13.40" fill="#930e26"/>
<rect x="376.93" y="343.0" width="10.27" height="13.40" fill="#760521"/>
<path d="M140.80 343.0L128.27 349.70L140.80 356.4Z" fill="#053061"/>
<path d="M387.00 343.0L399.53 349.70L387.00 356.4Z" fill="#67001f"/>
<path d="M202.25 343.0V356.4" stroke="#ffff00" stroke-width="1.45" stroke-dasharray="4.4 2.2"/>
<path d="M325.55 343.0V356.4" stroke="#ffff00" stroke-width="1.45"/>
<path d="M140.60 343.0L128.27 349.70L140.60 356.4H387.20L399.53 349.70L387.20 343.0Z" fill="none" stroke="#333" stroke-width="0.9"/>
<text x="140.60" y="369.60" font-size="9.29" text-anchor="middle" textLength="21.49" lengthAdjust="spacingAndGlyphs">−2.0</text>
<text x="171.42" y="369.60" font-size="9.29" text-anchor="middle" textLength="21.49" lengthAdjust="spacingAndGlyphs">−1.5</text>
<text x="202.25" y="369.60" font-size="9.29" text-anchor="middle" textLength="21.49" lengthAdjust="spacingAndGlyphs">−1.0</text>
<text x="233.07" y="369.60" font-size="9.29" text-anchor="middle" textLength="21.49" lengthAdjust="spacingAndGlyphs">−0.5</text>
<text x="263.90" y="369.60" font-size="9.29" text-anchor="middle" textLength="14.07" lengthAdjust="spacingAndGlyphs">0.0</text>
<text x="294.73" y="369.60" font-size="9.29" text-anchor="middle" textLength="14.07" lengthAdjust="spacingAndGlyphs">0.5</text>
<text x="325.55" y="369.60" font-size="9.29" text-anchor="middle" textLength="14.07" lengthAdjust="spacingAndGlyphs">1.0</text>
<text x="356.38" y="369.60" font-size="9.29" text-anchor="middle" textLength="14.07" lengthAdjust="spacingAndGlyphs">1.5</text>
<text x="387.20" y="369.60" font-size="9.29" text-anchor="middle" textLength="14.07" lengthAdjust="spacingAndGlyphs">2.0</text>
<path d="M140.60 356.4v3.4 M171.42 356.4v3.4 M202.25 356.4v3.4 M233.07 356.4v3.4 M263.90 356.4v3.4 M294.73 356.4v3.4 M325.55 356.4v3.4 M356.38 356.4v3.4 M387.20 356.4v3.4" stroke="#222" stroke-width="0.9"/>
<text x="263.90" y="380.80" font-size="9.29" text-anchor="middle" textLength="62.97" lengthAdjust="spacingAndGlyphs">dimensionless</text>
<g class="fm"><text x="201.40" y="314.10" font-size="10.60" textLength="3.40" lengthAdjust="spacingAndGlyphs">(</text>
<text x="204.40" y="313.90" font-size="10.60" font-style="italic" textLength="7.40" lengthAdjust="spacingAndGlyphs">μ</text>
<text x="211.40" y="316.00" font-size="7.40" font-style="italic" textLength="10.40" lengthAdjust="spacingAndGlyphs">CS</text>
<text x="223.80" y="313.80" font-size="10.60" textLength="7.40" lengthAdjust="spacingAndGlyphs">−</text>
<text x="234.10" y="313.90" font-size="10.60" font-style="italic" textLength="7.30" lengthAdjust="spacingAndGlyphs">μ</text>
<text x="241.00" y="316.00" font-size="7.40" font-style="italic" textLength="9.90" lengthAdjust="spacingAndGlyphs">CR</text>
<text x="251.20" y="314.10" font-size="10.60" textLength="2.80" lengthAdjust="spacingAndGlyphs">)</text>
<text x="257.60" y="313.80" font-size="10.60" textLength="7.30" lengthAdjust="spacingAndGlyphs">−</text>
<text x="268.20" y="314.10" font-size="10.60" textLength="3.20" lengthAdjust="spacingAndGlyphs">(</text>
<text x="271.10" y="313.90" font-size="10.60" font-style="italic" textLength="7.70" lengthAdjust="spacingAndGlyphs">μ</text>
<text x="277.90" y="316.00" font-size="7.40" font-style="italic" textLength="12.10" lengthAdjust="spacingAndGlyphs">WS</text>
<text x="293.10" y="313.80" font-size="10.60" textLength="7.80" lengthAdjust="spacingAndGlyphs">−</text>
<text x="302.60" y="313.90" font-size="10.60" font-style="italic" textLength="7.70" lengthAdjust="spacingAndGlyphs">μ</text>
<text x="309.80" y="316.00" font-size="7.40" font-style="italic" textLength="11.50" lengthAdjust="spacingAndGlyphs">WR</text>
<text x="322.50" y="314.10" font-size="10.60" textLength="3.40" lengthAdjust="spacingAndGlyphs">)</text>
<path d="M201 318.4H326.2" stroke="#1a1a1a" stroke-width="0.95"/>
<path d="M235.6 328.9L236.6 328.2L239.0 335.0L242.1 320.5H291.8" fill="none" stroke="#1a1a1a" stroke-width="0.95" stroke-linejoin="miter"/>
<text x="244.30" y="333.30" font-size="11.00" textLength="5.60" lengthAdjust="spacingAndGlyphs">s</text>
<text x="250.30" y="329.00" font-size="7.40" textLength="3.70" lengthAdjust="spacingAndGlyphs">2</text>
<text x="249.70" y="335.60" font-size="7.40" font-style="italic" textLength="10.90" lengthAdjust="spacingAndGlyphs">CR</text>
<text x="262.40" y="333.10" font-size="10.60" textLength="7.50" lengthAdjust="spacingAndGlyphs">+</text>
<text x="272.70" y="333.30" font-size="11.00" textLength="5.60" lengthAdjust="spacingAndGlyphs">s</text>
<text x="278.80" y="329.00" font-size="7.40" textLength="3.70" lengthAdjust="spacingAndGlyphs">2</text>
<text x="277.80" y="335.60" font-size="7.40" font-style="italic" textLength="13.00" lengthAdjust="spacingAndGlyphs">WR</text></g>
<clipPath id="clipa"><path d="M199 126.3 204.1 124.7 209.4 122.6 213.7 120.6 217.6 118.5 222.8 115 227.7 111.4 232.1 107.6 235.4 104.4 238.8 100.5 240.7 97.8 243.1 93.8 244.7 90.4 246 86.4 247.2 81.1 247.7 77 248 72.3 247.7 67.7 247.2 63.6 246 58.3 244.7 54.3 243.1 50.9 240.7 46.9 238.8 44.2 235.4 40.3 232.1 37.1 227.7 33.3 222.8 29.7 217.6 26.2 213.7 24.1 209.4 22.1 204.1 20 199 18.3 87.3 18.3 83.2 19.6 78 21.6 73.6 23.6 69.6 25.7 65.2 28.5 60.2 32.1 56.3 35.2 52.8 38.4 50.3 41 47 44.9 43.5 50.3 42.2 52.9 41.1 55.6 39.3 62.3 38.8 65.7 38.4 69.7 38.3 72.3 38.5 76.4 38.9 79.7 39.5 83.1 40.7 87.8 41.6 90.4 42.8 93.1 44.3 95.8 46 98.5 48.1 101.1 52.8 106.3 58.6 111.4 65.2 116.2 71.6 120.1 75.8 122.1 80.1 123.9 87.3 126.3Z"/></clipPath>
<g clip-path="url(#clipa)">
<path fill="#e0ecf3" d="M127.4 21 133 20.5 136 20.5 141 21 143 21.5 145 21.6 149 21.5 152 21 157.7 21 159.5 22 158.7 23 158 23.4 156 23.6 154 23.4 150 22.5 148 22.4 147 22.6 146.3 23 145.6 24 146.4 25 151 26.1 152.2 27 153 28.3 154 29.5 156 31.2 162 33.5 167.5 35 167.9 36 165.7 37 160.7 38 159.5 39 160.3 40 161 40.5 162 40.8 163.7 41 164.1 42 161 42.9 157 42.7 154.7 43 153.4 44 152.9 45 151.8 46 147.3 48 145.9 49 145 50 144 50.3 142 50.2 138 49.3 135 49 133 49.2 130.7 50 131.4 51 132.5 52 133.1 53 131.5 55 130 57.7 128.4 60 126 60.3 124 60.2 123 59.8 121.3 59 120.3 58 120.4 57 121 56.2 123.8 54 124.4 53 124.5 52 124 51.7 120 52.8 114 53.3 112.1 53 111.5 52 111.3 51 111 50.8 110 51 106.9 53 104.8 54 102 54.6 100 54.5 98.5 54 97 53 96.9 52 99.2 50 98 49 93 48.6 90 48.2 85 48.2 83 47.5 80.1 46 78 44 77 43.5 76 43.5 74 44 73 44 72 43.7 70.6 43 71 42.3 72.3 41 72.9 40 74 39.6 74.7 39 76.7 38 80 37.1 84 36.9 85 36.7 91 33.2 92 33 93 33.2 98 35.2 100 35.5 101 35.3 101.7 35 102.7 34 103.2 33 103 32.1 101.8 31 106 30.8 109 30 111.3 28 113.2 27 115.3 26 120.6 24 122.2 22 124 21.5 127.4 21 M75 40.6 74.2 41 75 41.5 76 41.8 77 41.6 77.8 41 77 40.5 76 40.3 75 40.6 M91 41.8 90 42.2 89.1 43 88.4 44 88.2 45 88.5 46 89 46.7 90 46.9 91 46.9 92 46.5 93.4 45 93.9 44 93.9 43 93.1 42 92 41.6 91 41.8 M120 40.8 116.4 42 115.1 43 114 44.3 111.6 46 111.7 47 112 47.7 113 49 114 48.9 118 47.5 120 47.3 125 47.2 127 46.8 131 45.6 132.2 45 132.4 44 131.7 43 130.3 42 129 41.4 127 40.9 124 40.5 122 40.5 120 40.8 M233.2 23 235.4 23 236 23.4 236.3 24 235 24.8 234 25.1 231.7 25 231 24.3 230.9 24 233.2 23 M159.7 26 161 25.4 164 25.7 165 26.1 165.7 27 165.5 28 164 28.7 163 28.9 161 28.9 160 28.7 159.2 28 159.1 27 159.7 26 M173.9 35 175 34.6 176 34.6 176.4 35 176.5 36 179.6 39 180 39.7 180.5 40 179 40.8 177 41.1 173 40.7 171 40 172.4 38 173.9 35 M43.2 38 44 37.4 45 37.3 51 37.2 54 37.7 55 38.2 57 40.4 59.3 42 60 43 59.7 44 58 45.3 57.3 46 56.6 48 56 48.9 55 50.3 54 51.2 52 52 49 52.5 48 52.4 47.1 52 46.8 50 45 48.2 43.7 45 43.6 44 45.4 42 45.3 41 43.2 38 M185.6 39 187 38.8 189 38.8 194 40.1 196 41 197 42 197.6 43 197 43.5 194 44.9 192 46 191.5 47 192.3 48 192.4 49 189 49.4 185 48.9 183.5 48 183.9 47 183.7 46 182.3 45 181.5 44 181.5 42 181.2 41 182.3 40 185.6 39 M232.5 43 234 42.9 244 43.1 246 43.3 248 43.8 250 43.8 250 51.3 249.4 52 248.5 54 247 54.4 243 54.6 240 54.5 235 53.9 230 54.5 228 54.4 225 53.5 220 51.3 219.4 51 218.5 50 218.1 49 218.1 48 218.3 47 219.2 46 221 45.5 223 45.2 229 44.9 230 44.5 232.5 43 M156.3 46 157 45.7 158 45.5 159 45.7 159.5 46 160.5 47 161 48.6 161.5 49 163 49.4 164 50 163.9 51 161 52 160 52.1 158.7 52 158.7 51 159.3 50 158.7 49 158 48.8 156.5 48 155.8 47 156.3 46 M170.3 47 173 46.9 174.4 47 176.9 48 178.6 49 178.3 50 177 50.2 176 50 175 49.4 173 48.7 169.1 48 170.3 47 M208.4 86 209 85.9 209.4 86 209 86.2 208.4 86 M61.2 87 62 86.6 63 86.4 66 87.2 67 87.3 72 86.5 75 86.5 78 87 83 88.6 88 88.9 90 89.7 91.9 91 93.8 92 97 92.9 100 94.1 103 95 104 95.7 104.7 97 106 97.7 107 97.5 108 97 110 97 112 97.2 114 98 114.6 99 114 99.6 113 100.1 110 101 109.7 102 112 103.3 116 104.4 117 104.5 120 104.2 126 102.9 135 104 136 103.8 137.2 103 138 102.8 140 102.6 143 102.9 149 104.3 152 104 157 103.9 160 103.5 162 103.5 164 103.8 167 104.8 168.4 105 169 104.9 170 104 170.3 103 172 100.2 173.2 99 175 98.5 178 98.3 180 98.7 182 100 183 100.2 185 99.9 188 99 189 98.5 190.8 97 192.2 95 194 94.1 196 93.9 198 93.9 199 94.4 200.2 96 201 96.4 203 97 205 97 206.9 96 208.3 94 209.6 93 210.3 92 209 90.4 208.3 90 209.9 89 212 89 215.5 90 217 91 219.3 92 222 92.5 227.6 93 229 93.5 230 94 230.1 95 230.5 96 232.4 98 234 99.3 237.6 101 236.9 102 236.8 103 237 103.2 238 103.9 239 104 240 104 243 103.3 246 103.3 248 103.6 250 104.7 250 108 249 109.2 248.1 110 244.8 112 241.3 113 236 113.2 233.6 114 233.1 115 234 115.6 236 116.2 241.5 117 243 118 242.5 119 242 119.3 240 119.8 238 119.6 231 117.2 229 116.7 225 116.8 219 117.9 217 118 212 117 205 116.1 199 117.2 195 116.8 194 116.8 190 118 187.9 119 187.9 120 190 121.1 190.7 122 190 122.8 189 122.8 188 122.1 187 120.6 186 120.1 183 119.6 178 119.9 173 118.9 171 118.7 168.1 119 165 119.9 162 120.4 161 120.5 160 120.3 159 119.6 157.8 118 157 117.4 155 117.2 151.4 118 151.5 119 152.8 121 152.9 122 151.4 123 149 123.2 147 123 146 122.5 145.5 122 146.5 119 147.7 118 147 117 144 116.4 139 116.1 137 115.5 133 113.8 131 113.5 123.9 115 124 116 127 117.1 128.5 118 128.3 119 127 119.7 123 120.2 122.5 121 121 121.5 119 121.8 118 121.7 115 120.4 114 120.2 112 120.1 110 120.3 107.9 121 106.6 122 105.8 123 105 123.4 104 123.5 103 123.3 102.5 123 102.4 122 103.7 119 105 118.2 107 117.5 110 117.3 117 119.2 120 119.8 122 119.9 122.7 119 122 118 120.6 117 120.2 116 120.1 115 119.2 114 117.5 113 116.6 112 117.4 111 119.7 110 119 109.3 118 109.2 114 109.4 112 110.2 108 113.1 106 113.8 104 113.7 101 113.1 100 112.5 98.6 110 98.2 109 99 108 100 107.5 102.3 107 101 106.6 100 106.5 97 106.7 94 107.3 93 107.2 90 105.6 89.3 105 89 104 88.9 103 88.6 102 88 101.5 87 101.2 86 101.2 85 101.5 83 102.5 81.3 103 77 103.1 75.9 104 74 104.9 73.2 105 72 104.9 69.3 104 68.8 103 69.1 101 69.3 100 70 99.3 71 99.1 71.5 100 72 100.3 72.5 101 74 102.1 76 102.8 78 102.9 79.8 101 80.2 100 81 99.2 85 98.7 85.8 98 85.5 97 85 96.6 81.1 94 78 93 71 92 68.7 92 65 92.4 63.4 95 61.8 96 60.8 97 60.2 100 59.7 101 59 101.6 58 101.9 55 101.9 49 102.9 48 102.9 47 102.6 46.4 102 45.8 101 45.6 100 45.9 99 46.9 98 47 97 44 97 42 96.8 40.1 96 39.2 95 39.8 94 41 93.5 44 93.3 49 93.8 50 94.2 52 95.6 53 95.9 55 96 56 95.8 57 95.4 57.5 95 57.4 93 58 92.7 60 92.3 64 92.2 64.4 92 65 91 64.4 90 61.8 89 61 88.4 60.8 88 61.2 87 M227 111.8 226.1 112 227 112.7 228 112.8 229 112.3 229.3 112 228 111.7 227 111.8 M238 108.7 237.3 109 238 110 240 110 241.2 109 240 108.7 238 108.7 M121.6 90 123 89.4 124 89.3 126 89.8 129 92.1 131.4 93 133.3 94 133.8 95 133 95.3 132 95.3 130.5 95 126 92.3 122.2 91 121.6 90 M200.3 90 201 89.7 203 89.5 205 89.7 206.2 90 205.4 91 204 92.3 203 92.6 202 92.6 200.8 92 200.3 91 200.3 90 M244.8 92 246.6 92 248.1 93 247 93.4 246 93.4 245 93.1 244.7 93 244.8 92 M140.8 94 142 93.3 143 93.2 143.5 94 143.5 95 142.9 96 142 96.2 140.4 96 139.6 95 140.8 94 M70.7 98 72 97.6 73 97.8 73.3 98 72 98.6 71 98.7 70.7 98 M246.3 98 250 97.2 250 100.8 249 100.5 245.8 99 246.3 98 M44 107 45 106.2 46 106 47 106.3 48 106.9 48.4 108 47 109.6 46 109.6 45.7 109 44.4 108 44 107 M43.2 112 45 111.7 45.3 112 43.6 115 42.3 116 41 116.3 39 116.2 38.3 116 37.2 115 37.9 114 39.2 113 40 112.6 43.2 112 M62.9 114 64 113.8 66 114 67.7 115 67 116 65 116.6 64 116.6 62.2 116 61.6 115 62.9 114 M81.9 116 84 116.1 87.1 117 86.6 118 85 118.2 80 117.8 78.9 117 80 116.4 81.9 116 M78.5 120 79 119.9 80 120.2 82.2 121 82.3 122 81 122.4 80 122.5 79 122.4 78.1 122 77.2 121 78 120.1 78.5 120 M240.5 121 241 120.7 245 121 250 120.8 250 123.2 246 123.3 242 123.8 241 123.6 240.1 123 239.7 122 240 121.3 240.5 121 M49.7 126 51 125.2 53 125 54 125.1 55 125.5 55.6 126 55.4 127 55 127 50.2 127 49.7 126"/>
<path fill="#cfe4ef" d="M131.5 21 135 20.8 138 21 140.6 22 142 23 143 25.1 144 25.6 149 26.5 150.2 27 151.2 28 152.4 30 153 31.4 154 32.5 156 33.4 162.1 35 163 36 161 36.2 157 36.2 156 36.4 154.7 37 153.5 38 153.5 39 154 39.5 154.8 40 155.1 41 153 41.5 152 41.9 151.3 43 151.1 44 150.6 45 149.2 46 148 46.3 147 46.4 146.3 46 145.7 45 145 44.4 143 43.6 141 43.5 140 43.6 138 44.5 137 44.7 136 44.4 132 41.5 130.8 41 129 40.6 125 40.1 122 39.9 119 40.2 117 40.6 115 41.3 114 42 112.1 44 109.4 45 108.3 46 109 46.4 110 48 109.6 49 108 49.9 105.3 51 104.6 52 103.3 53 102 53.2 100.3 53 100.3 52 102.6 51 103.5 50 103.1 49 103.1 48 104 46.9 105.1 46 104.1 45 102 44.6 100 44.7 99.2 45 98 46.4 97 47.1 95 47.5 93 47.3 92.5 47 93.9 45 94.3 44 94.3 43 93.7 42 93 41.5 92 41.3 91 41.4 90 41.8 89 42.5 87.5 45 87 46.6 86 46.8 83.6 46 82.3 45 81.7 44 81.4 43 82.2 42 85.1 41 86 40.5 88 38.2 91 36 92 35.5 94 35.3 99 36.3 100 36.3 101.6 36 103.5 35 106 33.2 109 31.7 112 30.4 117.5 29 116.5 27 117.8 26 120.5 25 122.4 24 124 22.5 125.3 22 129 21.6 131.5 21 M154.6 22 155.9 22 154.6 22 M47.7 39 49 38.6 50 38.5 51 38.6 52.4 39 53 40 52.9 41 53.5 42 55.7 43 56 43.4 56.3 44 55.5 46 55.5 47 55.2 48 54 49.3 53 49.7 52 49.9 51 49.7 47.1 48 46.2 47 45.9 46 45.8 45 46.5 44 48.7 42 48.4 41 47.7 40 47.7 39 M175.8 39 176.1 39 175.8 39 M185.5 42 187 41.6 192 41.3 193 41.5 193.8 42 193.4 43 192.2 44 190 45 188 45.4 187 45.3 186 44.9 184.6 44 184.5 43 185 42.3 185.5 42 M232.5 45 234 44.4 236 44.2 240 44.1 243 44.4 247 46.3 250 46.9 250 48.6 248.9 50 248 50.8 244.7 53 243 53.6 241 53.9 239 53.8 235 53.1 234 53.1 230 53.7 227 53.3 225 52.6 221.7 51 220.4 50 220 49 220.2 48 220.7 47 222.1 46 225 45.6 230 45.8 232.5 45 M131.8 47 135 46.9 136 46.7 137 46.8 137.1 47 131.8 47 M118.6 49 120.5 49 120.7 50 119.8 51 118 51.6 117 51.7 116 51.5 115.4 51 116.3 50 118.6 49 M125.2 56 127 55.3 127.7 56 127 56.4 125.2 57 124.7 57 125 56.7 125.2 56 M68.7 88 73 87.1 75 87.2 77 87.6 78.3 88 81 89.5 83 90.3 88 90.7 92 92.5 96 93.6 100 95.4 103 96.3 105 97.8 106 98 108.5 99 108 99.1 107 100 106.1 101 105.5 102 106.3 103 111 106 111.7 107 111.4 108 107 111.3 105 111.9 104 111.8 103 111.4 102.3 111 102.2 110 105 108.5 105.6 108 106.1 107 105.9 106 105 105 104 104.3 102 103.8 98 104.6 95 104.8 93 104.5 92 104.1 91.4 103 91.6 101 89 99.2 87 96.4 86 95.3 83 93.4 81 92.5 78 91.9 72 91.2 69 90.6 67.8 90 67.2 89 68.7 88 M213 93 214 92.6 215 92.5 219 93.4 220.4 94 223.3 96 225.5 97 229 98.2 230.3 99 232.8 101 233.7 102 235 104.3 236 105.2 237 105.6 247 105.2 248 105.6 248.6 106 248.3 107 247 107.7 246 108 245 108 242 107.2 237 106.7 235 106.9 234 107.1 232.9 108 232.8 109 232 109.3 229 109.4 225 110 217 111.8 216.6 112 216.1 113 217 113.5 219 114.1 224 114.4 225.9 115 223.7 116 222 116.3 219.9 117 218 117.3 216 117.1 213 116.3 206 115.1 204 115.1 201 115.7 199 115.9 195 115.1 193 115 192 115.2 189 116.3 187 116.7 185 116.8 182 116.6 181 116.7 178.3 118 177 118.3 171 117.8 164 118 163 117.5 162.8 117 161.2 116 160 115.8 158 115.8 153 116.6 150 116.7 145 115.6 139 114.7 137 114 134.9 113 132 111.2 131 111.2 129.9 112 129 112.4 127 113 126 113.1 124 113 123 112.7 121.9 112 122.4 111 124.1 110 126 109.5 129 109.3 129.7 109 129 108.7 128.4 108 127.1 107 126.5 106 127.2 105 129 104.5 131 104.5 133 104.9 136 106.3 137 106.2 137.4 106 139.3 104 141 103.6 143.8 104 147 105.8 148 106.1 150 106.1 153 105.6 161 105 163 105.1 167 106.1 169 106.3 170 106.2 171 105.6 173 102.3 174 101.2 175 100.6 176 100.4 178 100.4 183 102 184 102 190 99.7 193.4 98 193.9 97 193.9 96 195 95.3 196 95.2 197 95.6 198 96.5 199 97 203 98 205 98.2 207 97.2 210 94.6 212 93.4 213 93 M42.5 95 44.2 95 43 95.1 42.5 95 M52.8 97 55 97.1 56 97.4 56.8 98 56.5 99 55 100 53 100.7 51 101.1 49.3 101 49 100.9 48.2 100 48.7 99 50 98 51 97.4 52.8 97 M148.1 121 149 120.5 150 120.6 150.4 121 150.1 122 149 122.1 148.7 122 148.1 121"/>
<path fill="#b3d6e8" d="M132.9 22 135 21.8 137 21.9 138 22.3 139 22.9 139.8 24 139.5 26 140 26.7 140.5 27 142 27.2 145 26.9 147 27 148 27.2 149.6 28 150.4 29 150.9 30 151.2 32 151.8 33 152.9 34 153.7 35 153.1 36 150 38.3 146 39.8 139 39.6 133 39.9 127 39.7 120 39.2 117 39.3 113 40.1 112 40.7 111.5 42 111 42.6 110 43.3 108 43.4 103 43.1 100 43.3 98.1 44 96 45.7 95 46 94.7 45 94.8 43 94.4 42 94 41.5 93 40.9 92 40.6 89 41.2 88.6 41 89.2 40 90 39.3 94 37 96 36.8 100 37 102 36.6 111 31.9 113 31.3 119.1 30 120.3 29 120.1 28 119.6 27 120.5 26 126 23.4 132.9 22 M87.5 42 88 41.8 88.1 42 87 43.7 85.9 44 85.1 43 87.5 42 M146.4 43 147 42.6 148 43 147 43.3 146.4 43 M48.4 45 49 44.7 50 44.5 51 44.7 52 45.5 53 47.1 52 47.7 49.5 47 48.2 46 48.4 45 M237.8 45 241 45.1 243 45.6 245.5 47 246.8 48 247 49 246.4 50 243 52.4 241.4 53 240 53.2 238 53 234 52.2 233 52.2 230 52.8 228 52.7 226 52.1 223.8 51 222.3 50 221.7 49 221.8 48 222.4 47 224 46.3 226 46.2 230 47 231 47 232 46.8 235 45.5 237.8 45 M71.8 88 74 87.8 76 88.1 77.9 89 78.3 90 77 90.6 75 90.7 73 90.5 70.9 90 69.9 89 71.8 88 M87.7 94 88 93.4 89 93.3 95 94.3 96.6 95 97.7 96 98 96.6 99 96.9 102 97.4 103.3 98 104.1 99 103.3 100 103 100.1 101 100.2 99 99.6 98 99 97 98.1 96 98 93 98.3 91 98 90 97.6 89 96.8 88.4 96 87.7 94 M213 94 214 93.7 216 93.6 218 94.1 219 94.6 221 96.1 224.5 98 226.2 99 227 99.9 230.7 102 231.8 103 232.3 104 232 104.5 231 104.9 227 104.1 226 104.3 225.1 105 226.1 107 225.7 108 215.1 111 213.4 112 212.8 113 213.4 114 214 114.5 217 115 218.7 116 217 116.2 216 116.1 215.5 116 215 115.5 214 115.2 212.2 115 209 114.1 208.8 114 209 112.8 208.6 112 208 111.8 207 112 205.6 113 204 113.7 201 114.6 199 114.7 194 113.8 190 113.6 186 114.9 182 114.5 179 114.8 178.3 115 177 116.2 176 116.6 175 116.7 172 116.4 169 116.7 167 116.5 163 115.2 161 114.9 158.3 115 152 116 149 115.8 141.3 114 139 113 138.4 112 138.9 111 138.7 110 138.2 109 138.7 108 141 105.4 142 105 143 105.2 145 106.4 147 107.1 149 107.1 155 106.4 161 106.3 170 107.5 171 107.3 172 106.7 173.2 104 174 103 175 102.2 176 101.7 177 101.5 179 101.7 181 102.4 182.1 103 183.3 104 185 106.8 186 107.5 187 107.7 188.3 107 188.6 106 187.4 104 187.2 103 188.1 102 189 101.7 190 101.6 191 101.7 191.4 102 191.1 104 191.3 105 192 105.5 194 105.8 198 105.2 198.8 105 200.1 104 199.6 103 195.5 101 195.6 100 198 98.9 200 98.7 201.7 99 204 100.4 205 100.6 206 100.3 207.4 98 208.5 97 211 94.9 213 94 M187 110.7 186.8 111 187 111.2 187.2 111 187 110.7 M129.6 106 131 105.8 131.9 106 131 107 130 106.4 129.6 106"/>
<path fill="#9bc9e0" d="M129.2 24 133 23.2 135 23.1 136 23.3 137.3 24 137.3 25 137 26 137.4 27 139 28.2 140 28.6 141 28.8 142 28.8 146 28 147 28 148 28.4 148.8 29 149.4 30 149.4 31 149.2 33 149.5 35 148.2 36 141 38.3 130 39.1 127 39.1 124 38.9 116 37.2 114 37.1 110 38 106 39.9 101 40.9 97 42.5 96 42.6 95.4 41 95.7 40 96.2 39 97 38.5 102 37.6 112 32.5 114 31.9 118 31.2 120 30.5 121 30 121.9 29 121.9 27 123 26.1 129.2 24 M236.4 46 239 45.6 241 45.8 242 46.1 243.7 47 244.8 48 245 49 244.3 50 242 51.8 241 52.2 239 52.4 233 51.1 232 51.2 229 51.9 228 51.7 226 51 224.3 50 223.3 49 223.4 48 224 47.4 224.9 47 226 47 230 48.3 231 48.4 232 48.2 235 46.5 236.4 46 M90.8 95 92 94.8 93.7 95 94.7 96 94 96.5 93 96.7 92 96.8 91 96.5 90.4 96 90.8 95 M212.2 95 214 94.4 215 94.3 217 94.6 218 95 222.1 98 222.9 99 221.7 101 221.9 102 222.6 103 221.9 104 221.7 105 222.3 107 220.9 108 219 108.7 217 109.3 214 109.7 213 109.6 212 109.3 210 107.7 209 107.2 207 106.9 205 107.2 203.8 108 203.7 109 204.3 111 203.6 112 202 113 200 113.4 198 113.3 193 112.3 191.9 112 190.8 111 190.8 110 191 109.6 191.6 109 193 108.3 196 107.3 202 106.5 204.7 105 205.7 104 206.2 103 207.9 101 208.2 99 208.6 98 210.6 96 212.2 95 M175.6 103 177 102.5 179 102.5 181 103.4 182 104.3 184.2 108 184.6 109 183.9 112 183 112.9 182 113.2 180 113.5 177 113.4 175 112.6 173.3 111 172.6 110 172.3 109 174.5 104 175.6 103 M148.9 108 154 107.3 156 107.2 165 108 167 108.4 168.4 109 168.5 110 168 113 167.2 114 166 114.3 160 114.2 153 115.3 151 115.4 149 115.3 147 114.8 144.5 114 143 113 143.3 112 144.5 111 145 110 144.6 109 146 108.5 148.9 108"/>
<path fill="#7bb6d6" d="M124.8 27 127 26.4 129 26.2 131 26.1 133 26.4 136 27.6 139 29.7 140 30.2 142 30.2 145 29.6 146 29.5 147 29.8 147.6 31 147.5 32 146.6 34 145.7 35 141 36.8 139 37.3 135 37.7 130 38.5 126 38.5 122.7 38 117 35.8 114 35.5 112 35.8 110 36.3 108.8 37 106 37.8 105.6 37 107.4 36 109 35.6 112 33.7 113.8 33 118 32.2 121 30.9 122.3 30 123.3 29 124 27.8 124.8 27 M235.8 47 238 46.3 240 46.3 241 46.5 242.2 47 243.3 48 243.4 49 242.7 50 241 51.2 240 51.6 239 51.7 237 51.3 234.1 50 233.7 49 234.4 48 235.8 47 M214 95 216 95 217 95.3 218.1 96 220.5 98 220.8 99 220.4 100 218.8 102 218.5 103 218.6 104 219.3 106 219.2 107 218 107.7 217 108.1 215 108.3 213.3 108 208.6 105 208.4 104 209 101.8 209.1 99 209.5 98 210.3 97 211.6 96 213 95.3 214 95 M175.8 104 177 103.3 178 103.2 179 103.3 180.5 104 181.5 105 183.2 108 183.5 109 182.9 111 182.2 112 181 112.6 180 112.7 178 112.7 176 112.1 174.6 111 173.9 110 173.7 109 175 105 175.8 104 M149.5 109 154 108.2 157 108.3 164.4 110 165 110.4 165.5 111 165.2 112 164 112.5 153 114.7 150 114.8 146.7 114 145.6 113 148 111 148.5 110 149.5 109 M195.6 109 198 108.5 200 108.7 200.7 109 201.5 110 201.5 111 200 111.7 199 111.8 196 111.5 194.1 111 193.9 110 195.6 109"/>
<path fill="#59a1ca" d="M127 28 130 27.8 134 28.1 135 28.3 136.3 29 138 31 139 31.6 141 31.8 144 31.5 145 32 144.8 33 144.1 34 142.3 35 139 36.2 135 36.7 130 37.9 127 38 124 37.6 122.4 37 119.1 35 118.3 34 119.3 33 122 31.2 125 28.7 126 28.2 127 28 M237.9 47 240 47 241 47.4 241.9 48 242 49 241 50.1 240 50.6 239 50.8 238 50.8 236 50 235.3 49 235.8 48 237.9 47 M212.6 96 214 95.6 216 95.6 217 96 218 96.7 219.3 98 219.6 99 219.1 100 217.3 102 216.7 103 216.9 105 216.6 106 216 106.5 215 106.7 213 106.1 211 105 210.3 104 210.3 102 209.9 99 210.2 98 211 97.1 212.6 96 M178 104 179 104.1 180.4 105 182.3 108 182.6 109 182.4 110 182 110.8 181 111.7 180.2 112 179 112.1 177 111.8 175.7 111 174.9 110 174.6 109 174.9 108 176 105.2 177 104.3 178 104 M150.9 110 153 109.3 156 109.2 159 110 160.7 111 160.4 112 158 113 153 114.1 151 114.2 149.4 114 148.2 113 149.5 112 150.9 110"/>
<path fill="#3f8ec0" d="M126.8 29 130 28.6 134 29 135.4 30 135.9 31 136.7 32 138.7 33 140.1 34 138.8 35 134 36.2 131 37.1 128 37.5 126 37.3 124.6 37 122.7 36 121.6 35 121.2 34 121.7 33 123.6 31 125 29.8 126.8 29 M237.6 48 239 47.8 240 48 240.4 49 239 49.8 238 49.7 236.9 49 237.6 48 M212 97 213 96.4 214 96.1 215 96 216 96.3 217 96.8 218.3 98 218.5 99 218.1 100 217 101.2 214.8 103 214.5 104 214 104.4 213 104.3 212.6 104 211 101 210.7 100 210.6 99 211 98 212 97 M178 105 179 105.1 180 105.8 181.5 108 181.8 109 181.6 110 181 110.8 180 111.3 178 111.4 176.9 111 175.7 110 175.5 109 176 107.2 177 105.6 178 105 M152.8 111 154 110.5 156 110.7 157 111 157 112 155 112.6 153 112.8 152.3 112 152.8 111"/>
<path fill="#307ab6" d="M126.5 30 128 29.6 130 29.5 133 30 135.9 33 136.6 34 135 35 130 36.6 128 36.8 127 36.7 125 36.1 123.7 35 123.5 34 123.7 33 124.2 32 125 31 126.5 30 M213 97 214 96.7 215 96.7 216.1 97 217.3 98 217.6 99 217.2 100 216 101 215 101.5 214 101.7 213 101.6 212.1 101 211.5 100 211.4 99 211.8 98 213 97 M177.2 107 178 106.3 179 106.3 180 107.1 180.7 108 181 109 180.6 110 180 110.5 179 110.8 178 110.7 176.7 110 176.3 109 176.5 108 177.2 107"/>
<path fill="#2267ac" d="M126.8 31 129 30.4 131 30.7 132 31.2 133.9 33 134 34 132.3 35 130 35.8 128 36 127 35.6 126.1 35 126 34 126 32 126.8 31 M212.8 98 214 97.4 215 97.4 216.3 98 216.6 99 216 100.1 215 100.6 214 100.8 213 100.5 212.5 100 212.2 99 212.8 98 M177.7 108 178 107.7 179 107.6 179.5 108 180 109 179 110 178 109.8 177.4 109 177.7 108"/>
<path fill="#175290" d="M130 33 130 33 M213.5 99 214 98.5 215 98.5 215.3 99 215 99.4 214 99.7 213.5 99"/>
<path fill="#fbe5d8" d="M37 17 39.7 17 38 17.9 37 18.1 37 17 M49 17 59.9 17 59.6 18 60 18.8 61 18.6 62 18 62.3 17 206.5 17 210.9 19 213.1 21 217.4 23 219 24.4 220 24.7 222 24.7 223 25.3 223.5 28 224.6 30 224 30.9 221 30.8 220 31.4 219.8 32 220 33.2 220.6 34 222 35.1 224 35.8 227 36.1 229 35.9 231.5 35 231.8 34 228.3 32 227.8 31 228.8 30 230.2 29 231 28.6 233 28 236 28 238 28.7 239.3 30 239.7 31 239.9 32 239.1 33 237.6 34 237.2 35 237.3 36 237.1 37 236 38.4 235 38.7 232 38.8 230.9 39 230 39.8 228.2 43 227 43.7 225.9 44 224 44.1 218 43.7 214 45 212 45.1 211 44.8 209.7 44 209 42 208 41.5 206 40.9 202 40.6 200 40.1 196 37.7 194.5 37 191 36.4 186.7 36 185.7 34 180 30.7 178 30.4 175 30.6 174 30.4 172.8 29 171 27.9 169.9 27 169.8 26 170 25.8 173 24 173.3 23 172.7 22 171 21.7 166 21.7 163.1 21 157 20.4 143 20.5 138 19.9 133 19.8 120.4 21 119.2 22 118.7 23 117 24 116 24.4 112 25.7 110 26.2 104 26.8 100 28.2 93 29 89 28.4 87 28.6 86.1 29 85.5 30 85.4 31 85 32.1 84 32.3 79 32.4 77 33.1 74 34.6 72 35.1 71 35.1 68 34.3 63 33.9 60 32.4 59 32.2 55 32.4 51 32.3 48 32.5 46.3 31 43 29 42.7 28 43 27.5 44 27.3 46 27.8 48 27.7 50 27.2 53.2 26 54.2 25 52.5 23 53.5 22 55.1 21 56 20 54 19 50.1 18 49 17 M72 27.9 71.6 28 71 29 71.6 30 72 30.3 74 30.6 75 30.5 76.2 30 76.5 29 75 28.1 74 27.9 72 27.9 M213 25.9 212 26.1 210.3 27 210.5 28 212 28.6 213 28.7 215 28.6 216.9 28 217.1 27 216 26.1 213 25.9 M223.7 17 227.8 17 227 17.5 226 17.6 224 17.3 223.7 17 M235.9 18 237 18 238.6 19 238 19.5 237 19.6 235 19 235.9 18 M220.8 19 222 18.8 222.5 19 222 19.2 220.8 19 M226.1 20 228 19.8 228.8 20 228 20.6 227 21 226.1 20 M247.1 23 250 22.9 250 25.9 247 25.4 245.6 25 245 24 246 23.3 247.1 23 M249.6 30 250 29.8 250 32.2 249.4 31 249.6 30 M247.9 38 249 37.7 250 37.8 250 39.4 249 39.4 247.7 39 247.9 38 M121.1 42 123 41.6 126 41.8 127 42.1 128.7 43 129.2 44 127.9 45 126 45.4 123 45.4 119.8 45 118.9 44 119.4 43 121.1 42 M89.9 43 91 42.3 92 42.2 93.2 43 93.3 44 92.7 45 92 45.6 91 46 90 46 89.1 45 89.2 44 89.9 43 M37.8 47 39 46.8 40.4 47 41 47.4 41.4 48 41.2 49 40 49.6 39 49.6 38 49.5 37 49 37 47.5 37.8 47 M60.5 47 62 46.8 63 47 65.2 48 64.7 49 63 50.2 61 50.8 60 50.9 59 50.6 58.5 50 58.7 49 59.3 48 60 47.2 60.5 47 M66.9 47 68 46.4 69 46.4 70.3 47 69 47.6 68 47.8 67 47.3 66.9 47 M207.4 51 208 50.9 212 50.9 214 51.2 216.6 53 220.4 54 221.6 55 221.9 56 222.6 57 224 58 225 58.4 226 58.4 227 58.2 231 56.3 235 55.5 237 55.4 241 55.9 248 57.3 250 57 250 70.5 249 70.5 248 70.8 247.6 71 246.8 72 246.9 73 247.8 74 250 75.2 250 82.9 249 83.5 246 83.7 244.7 84 243.5 85 243.4 86 244.7 88 242 88.7 240 89 234 88.6 233 88.8 231 90.1 229 90.8 227 90.8 225 90.5 223.6 90 222.9 89 223.1 88 224 87 226 85.5 229 84.1 229.4 83 229 81.9 228 81 223.8 80 222.4 79 223 77.9 223.2 77 223 76.8 222 76.3 220 76.2 218.8 77 219.8 78 219.6 79 218 79.2 215.5 79 214 78.2 213 77 210 74.3 207.6 73 206 72.9 198 74.3 196.7 74 195.4 73 195.4 72 195 71 193.7 70 193 69 192 68.7 191.6 69 191 70.7 190.7 73 189 73.7 186 74.5 185.1 75 184.8 76 185.1 77 185.9 78 187 78.6 189 79.1 195 79.7 196 79.5 198 78.4 199 78.1 200 78.2 203 79 204.4 80 204.2 81 203.4 82 202.3 83 201 83.5 200 83.7 199 83.4 198.3 83 197 81.6 196 81 195 81.1 192.4 82 189 82.8 187.1 84 187 85 188.4 86 193.4 88 194.9 91 194 91.5 193 91.6 189 90.2 188 90.1 187 90.3 185.9 91 186.7 92 188 93 188.1 94 187 94.8 186 94.9 183 94.5 182 94.5 177 96 170 96.9 169 97.4 166.7 100 165 101.1 164 101.3 162 101.4 158.9 101 157.2 100 158.3 98 159 95 159 94 160 93 162 92 163 91.1 163.3 90 162.7 89 161.7 88 161.3 87 161.6 86 161 85.3 160.2 85 155 84.4 153 84.5 151.5 85 151 86.1 150 87.1 149 87.3 148 87 147.5 85 147 84.6 146 84.2 142 83.7 140.3 83 139 82.1 138.5 81 139 80.1 140 79.8 142 79.7 143 79.4 146 77.9 149 77.3 151 77.3 153.5 78 155 78.2 158 77.9 161 77.8 162 77.5 162.4 77 162.8 75 162.9 74 162 72.1 161.1 72 165 71.6 170 72.3 172 72.1 173.3 71 174 69.5 174.4 69 175 68.8 176 68.6 177 68.8 177.3 69 177.6 71 178.2 72 179.8 73 181 73.3 183 72.7 185.2 71 185.7 70 185 68.8 183 67.7 180.8 67 180 66.2 179.8 65 179.8 63 179.5 62 179 61.7 178 61.9 176 62.7 175 63 173.9 63 169 62.5 168 62 165 58.7 164 58.3 163 58.1 162 58.2 161 58.5 160.4 59 160 60 158.6 62 157.9 64 157.1 65 158.6 67 158.5 68 157.4 69 157.3 70 160 71.6 161 72 160 72.3 158.9 73 154 75.4 152 75.7 151 75.6 149 74.8 147 74.4 140 74.9 139 74.6 138.3 74 136.7 72 134.1 71 131 70.3 129 70.1 128 70.2 127 70.7 126.7 71 126.6 72 126.8 73 126.5 74 126 74.3 123 75.1 122.4 76 122.7 77 124 77.8 125 78 129 78 130 78.3 130.8 79 129.5 82 129 82.7 128 83.4 126 84.1 123 84.4 122 84.4 120.6 84 120 83.5 118.9 82 116 80.3 115 78.8 114 78.2 113 78 111 78.7 108.8 80 112.1 82 111 83 110.5 85 110 85.5 109 85.8 108 85.6 107.3 85 107 83.8 106 83.4 105 83.8 103.3 85 101 86.2 99 86.7 97 86.9 95 86.5 91 83.6 90 83.3 87 82.9 86 83 85 83.4 84.5 84 83 85 82 85.2 77 84.3 70 84.2 68.8 84 69.2 83 68 82.6 66.8 82 64 81.2 63 81 62 81.2 60.7 82 61.3 83 61.5 84 57 87.4 56 88 51 89.5 46 90.6 44 90.8 42 90.7 38.7 90 38.1 89 40.3 87 40.3 86 39 85.4 37 85.3 37 81.1 38.1 81 39.1 80 38.4 79 37 77.9 37 65.7 38 66.3 40 66.9 45 67.2 52.8 66 54 65.4 54.3 65 53.6 64 52.4 63 51 62.6 49 62.7 46 63.7 45 63.9 44 63.8 41 62.7 40 62.7 37 63.5 37 51.3 38 52.1 39 52.6 42 52.9 46 54.2 48 54.6 54 53.6 56 53.6 59 54.1 61 54.3 63.9 54 66 53.6 68 53.6 69.3 54 70.6 55 71.2 56 71.5 58 71.9 59 72.1 60 72 61 72.6 62 73 62.2 74 62.4 79 62.4 85 61.5 86.2 61 88 58.7 91 57.5 93 57 95 57.1 99 57.8 102 58 104 57.7 107 56.4 108 56.2 113 56.2 114 56.2 115 56.6 115.2 57 115.1 58 115.3 59 116 60.5 117 61 120.2 62 122 62.4 124 62.6 131 62.2 132 62 133 61.5 133.7 61 134 60 134.1 58 135 57.3 136 57.1 137 57.3 138 57.7 140 59 141 59.4 142 59.6 143 59.4 147 58.1 149 57.1 151 55.6 153 54.8 159 54.8 167 54.1 168 54.6 168.2 55 167.8 56 168.4 57 171 57.8 173 57.6 174 57.1 175.5 55 178 54.1 184 54.5 188.5 56 190 56.3 196 56.3 197 56.5 197.6 57 197.6 59 198 60 199.5 61 201 61.5 202 61.3 205 58.9 206 58.4 209 57.8 210.5 57 209 56.5 202 55.7 201 55.4 200.2 55 200.7 54 205 52.2 207.4 51 M212 60 211 60.1 210 60.6 209.6 61 210.3 62 212 62.4 213.4 62 214 61 213 60.3 212 60 M216 64 212 64.7 208 65.9 205.7 67 205.1 68 206 68.8 207 69.1 208 69 212 68.3 217 67.8 218.7 67 218.8 66 218 64.2 217 63.8 216 64 M236 83.8 233.1 85 234 85.5 235 85.8 237 85.8 239 85.4 240.2 85 240.7 84 240 83.4 239 83.2 236 83.8 M54 74 51 74.5 46 75 45 75.3 43.9 76 44.2 77 46 78.2 47 78.6 48 78.7 50 78.6 52 77.9 53.3 77 54.1 76 54.6 75 54.2 74 54 74 M93 63.5 92.2 64 91.6 65 91 65.5 89 65.9 81 65.7 77 65 74 65.4 71 65.6 69 66.1 67 67.3 64.1 70 65 71 68 71.5 69.7 72 70.4 73 66 73.4 65 73.7 64 74.7 63.2 76 62.9 77 64 77.5 65 77.7 67 77.5 68.9 77 71.8 76 72.4 75 72.4 74 74 73.5 76 73.2 79 73.2 80.4 74 83 74.9 84 74.9 85 74.6 86.1 74 87.1 73 87.4 72 87.4 71 87.9 70 89.2 69 91 68.3 99.2 67 100 66.8 101.3 66 100.6 65 97 63.5 95 63.2 93 63.5 M214 71.5 213.2 72 213 73 214 73.5 216 73.6 217 73.3 217.4 73 217.6 72 217 71.5 216 71.1 215 71.2 214 71.5 M100 79.8 96 81 96.6 82 102 82.7 104 82.8 105 82.6 107 81 107.2 80 105 79.5 103 79.3 100 79.8 M82.9 55 84 54.5 85 54.4 86 54.6 87.2 55 87.2 56 86 56.3 84 56 82.9 55 M161.6 65 164 64.7 165 64.7 165.8 65 164 65.7 163 65.7 161.6 65 M135 78 137 77.4 138 77.5 138.6 78 138 78.8 137 79 136 78.7 135 78 M215.7 84 217 83.7 218.1 84 217 85 216 84.7 215.7 84 M249.6 86 250 85.5 250 90.2 249 90 246.6 89 246.2 88 248.4 87 249.6 86 M152.1 91 153 90.8 154 91.2 155.1 92 155.7 93 155.5 95 155 95.5 154 96 153 96 152 95.8 150.4 95 150.3 94 151.1 93 152.1 91 M105.2 95 106 94.3 107 94.6 107.7 96 107 96.7 106 97.1 105 96.5 104.6 96 105.2 95 M119 95 121 94.3 122 94.2 123 94.5 124.2 95 125.6 96 126 96.7 126.4 97 126 97.4 124 97.6 121 98.3 119 98.1 117.4 97 117.3 96 119 95 M237.8 95 239 94.9 239.9 95 239 95.7 237.8 95 M126.7 98 127 97.7 128 97.6 137 97.8 140 98.7 146 99.5 148.4 100 151.5 101 149 101.4 147 101.4 143 101.1 140 100.4 138 100.3 136 100.6 133 101.3 132 101.3 130.6 101 128.7 100 127.5 99 126.7 98 M37 104 37.4 105 37 105.6 37 104 M79.7 106 81 106 82.2 107 82.6 108 82.4 109 81 110.5 80 110.7 77 110.5 74 110.5 73 110.4 72.4 110 71.9 109 72.6 108 77 107.2 79.7 106 M60.1 107 62 106.4 63 106.7 65 107.7 66.2 109 66.9 111 65 111.8 63 112 60.6 112 59 111.4 57.6 110 57.5 109 58.3 108 60.1 107 M58 118 59 118 60 118.3 61.2 119 61.3 120 61 120.7 60 121.3 59 121 57.5 119 58 118 M69.3 118 71 117.4 72 117.3 73 117.6 73.4 118 73.3 119 72 120 71 120.1 70 119.6 69.2 119 69.3 118 M37 119 37 118.2 39 118.9 39.2 119 39.4 120 37 120.6 37 119 M45.7 119 47 119 48 119.2 49.2 120 49.6 121 49 121.7 48.1 122 45 122.2 43.9 122 42.4 121 42.6 120 44 119.4 45.7 119 M202.1 119 204 118.4 206 118.1 208 118.3 210.5 119 212.2 120 212.9 124 212 125.1 206.2 127 195.1 127 197 125.6 199 124.6 201.1 124 201.1 123 199 122.1 198.7 121 199.6 120 202.1 119 M222 120 222 120 M133.8 121 134 120.7 135 120.3 136 120.7 136.3 121 135 121.4 133.8 121 M89.9 122 91 121.4 92.1 122 92.3 123 93 124 93.2 125 92.6 126 91 126.4 89 126.3 87.9 126 87.1 125 88 124.2 89.8 123 89.9 122 M181.9 125 181.9 125 M223.9 125 225 124.8 226.5 125 225 126 224 126.1 223.6 126 223.9 125 M42.9 126 44 126 44.8 127 43 127 42.9 126 M247.8 126 249 125.6 250 125.5 250 126.3 247.8 126"/>
<path fill="#fdd9c4" d="M64.8 18 66.1 17 204.1 17 204.3 18 205 18.8 205.5 19 205 20 201.8 21 201.6 22 201.9 23 203 23.5 204 23.7 211 22.5 213 22.7 214.1 23 214.8 24 214 24.3 210 25.1 208 26 207.4 27 207.8 28 209 29 210 29.4 212 29.8 215 30.1 216 30.4 217 31 218.6 34 219.4 35 221 36.1 226 38.2 226.6 39 226.9 40 227.1 42 226.4 43 225 43.4 223 43.4 219 42.6 217 42.7 214 43.1 213 43 212.4 42 211 41 202.3 39 201 38.3 198 36 197 35.7 193 35.5 190.9 35 189 33.8 184.9 32 182 29.9 181 29.4 176 28.2 173.8 27 173.7 26 174.7 25 174.9 24 174.4 22 173 21.3 171.3 21 165 20.8 156 20 143 20.2 137 19.6 132 19.5 126 20.3 121 20.6 118.9 21 117 23.2 115.3 24 111 25.3 109 25.6 103 25.9 100 26.9 99 27.1 93 26.4 87 26.8 85 27.2 83 28.5 82 28.9 81 29.1 80 28.8 78 27.6 76.1 27 69 26.1 67 26.2 66 27 68.2 29 68.6 30 68.5 31 67.9 32 66 32.4 64 32.2 61 30.4 60 30.1 56 30.8 54 30.8 52 30.4 51 29.8 50.4 29 52 27.9 55 27.2 58 27.2 59.4 27 59.9 25 61 24.4 62 23.5 63.3 20 64.8 18 M234 29 236 29.2 237.3 30 237.5 31 236.9 32 236 32.4 234 32.7 231.8 32 231 31 231.5 30 233 29.2 234 29 M90.2 43 91 42.5 92 42.5 92.9 43 93 44 92 45.4 91 45.7 90 45.6 89.4 45 89.4 44 90.2 43 M121.6 43 123 42.4 125 42.4 127.1 43 127.6 44 126 44.6 125 44.7 123 44.5 121.5 44 121.6 43 M207.7 53 209 52.8 211 52.8 212.1 53 213.1 54 212 54.4 207 54.8 206 54.6 204.9 54 207.7 53 M39.6 55 42 54.4 43 54.4 47 55.5 48 55.6 52 54.6 54 54.4 60 55.1 65 54.8 67 54.9 68 55.3 69 56.3 70.2 59 70.3 60 69.3 63 68.3 64 66 65.5 64 68 62 68.8 59 69 58 69.3 56 71 55 71.5 50 73.2 48 73.3 47.3 73 46.9 72 45 70 45.5 69 48 68 51 67.5 57 67.7 58 66.2 58.1 65 53 61.8 51 61.4 46 61.6 45 61.1 43.9 60 42 59.1 40 58.5 37 58 37 55.6 39.6 55 M214.5 55 215 54.9 217 55 218 55.4 222.3 59 223 59.4 225 59.8 227 59.6 228 59.3 231.6 57 235 56.2 237 56.1 240 56.4 242.4 57 244.1 58 245.1 59 247.7 61 248.4 62 250 62.9 250 69 248 69.3 246.2 70 244.9 71 244.7 72 245.1 73 246 74 248.6 76 248.6 77 247.7 78 246.2 79 243.9 81 242 81.3 239 81.2 237.7 81 237.9 77 238.3 76 238 75 237 74.7 235 74.8 234 75.4 232 77.1 230 77.9 229 78.1 227.9 78 226.8 77 227 75 226.9 74 226 73.7 222 74.2 220.7 74 220.3 73 220.5 72 220.3 71 219.8 70 220.4 69 221.8 68 222.4 66 223.8 65 223.2 64 222 63.2 220 61.5 215.3 59 214.2 58 214.5 55 M152.6 57 154 56.5 155 56.7 155.6 57 155 58 156.9 60 156.6 61 155.8 62 155 62.6 152.3 64 150.7 65 152.2 66 153 66.1 154.6 67 154.8 68 154.2 70 156.2 72 155.5 73 154 73.6 152 73.9 148 73.1 143 73.3 141.7 73 141 72.4 140.7 72 140.5 71 139.9 70 138 69.6 133 69.3 127 68.3 126 68.3 125 68.7 124 69.5 123.7 70 123.8 72 123 72.8 119.2 74 118.5 75 119.2 76 119 77 118 77.1 116.6 76 116.5 75 114.8 73 114.8 72 115.1 71 114.5 70 113 69.6 112 69.6 108 70.3 107 70.3 105 69.9 104.1 69 104.5 67 105 66 107.2 64 108 63.1 109 62.4 115.6 64 118 64.2 121 63.7 125 63.6 129 63.1 134 62.8 135.9 62 137 60.8 137.7 61 138 62 138.7 63 140 63.3 141 63.3 142 63 144 61.6 145 61.1 147 60.7 149 60.7 150 60.6 150.9 60 151.1 59 151.6 58 152.6 57 M182.1 57 183 56.6 185 56.5 189 57.3 194 57.6 194.9 58 195.6 60 196.5 61 197.9 62 199.9 63 201 63.3 203 63.4 206 62.3 207 62.6 207.8 63 208.6 64 207.2 65 203.1 67 202.4 68 202.8 69 203.8 70 204.1 71 202.2 72 200 72 197 69.5 196.6 69 196.3 68 195 67.1 190 66.3 189.2 66 188 64 187 63.6 184 63.2 183.6 63 183.7 62 184.1 61 183.8 60 181.9 58 182.1 57 M92.1 59 95 58.7 97.8 59 101.7 60 102.8 61 102.6 62 101 62.5 100 62.5 96 61.7 91.3 61 90.2 60 92.1 59 M169.7 60 170 59.9 171.1 60 169.7 60 M81.7 64 83 63.7 84.2 64 83 64.2 81.7 64 M37 68 37 67.7 42.7 69 42 70 39 70.8 37 71.7 37 68 M90.1 70 92 69.4 95 69.2 97 69.3 103 70.2 104 70.6 105.4 72 105.9 73 106 74.1 106.9 75 109 75.6 109.5 76 109.2 77 108 77.7 107 78 102 78 96 78.6 91 80.1 90 80.3 89 80.2 88 79.8 86.7 79 86 78.1 85 78.3 82.6 80 81 80.8 80 81.2 78 81.5 74 81.4 69 80.5 67.2 80 67.7 79 73 77.5 74 77 76 75.2 77 74.9 79 75 82.8 76 85 76.9 86 76.9 88 75 89 74.5 90 74.2 94 75.1 96 75.1 97 74.7 97.8 74 98.3 73 98.4 72 98 71.5 97 71.2 95 71.2 91 71.9 90 71.4 89.7 71 90.1 70 M164.8 74 166 73.2 167 73.1 172 73.8 175 73.8 177 74.4 179 75.3 182 76 183 76.9 185.1 81 184.8 82 181.6 84 181.5 85 183.1 86 186.2 87 186.7 88 184 88.6 180 90 179 90.7 178 92 177.8 93 177.8 94 176.8 95 174 95.6 169 95.6 168 95.8 167 96.4 165.1 99 164 99.9 163 100.2 162 100.3 160.6 100 160.4 99 160.8 98 161.9 94 164 92.2 164.7 91 164.9 90 164.7 89 164.1 88 164.4 87 166 86.3 169 85.8 170 85.8 172 86.3 175 87.5 176 87.6 176.7 87 176.2 86 173.9 84 172.4 82 170 79.7 169 78.9 166 77.8 165 77 164.4 76 164.4 75 164.8 74 M58.3 75 59 74.5 60 74.5 60.5 75 59 75.8 58.3 75 M56.8 79 58 78.5 59 78.5 60.7 79 57.5 81 57.9 82 58.7 83 59.2 84 58.5 85 57 86.1 56 86.6 53 87.4 51.9 88 49.2 89 45 89.4 43 89.3 42.1 89 42.5 88 44.5 87 44.3 86 41 84.6 39.1 84 38 83.4 37.6 84 37 84.1 37 82.8 39 82.8 42 81.8 45 82 50 81 54 80.9 55 80.6 56 80 56.8 79 M147 79 148 78.7 150 78.6 151.8 79 155 80.4 159 80.3 160 80.5 161.6 81 161.1 82 160 83.1 158 83.4 156 83.1 155 82.6 154 82.6 153.8 83 153 83.5 152 83.7 151 83.4 150.5 83 150 82.1 149 81.6 146.6 81 146.1 80 147 79 M122.7 80 124 79.7 126 79.7 126.8 80 126.9 81 125.9 82 125 82.3 124 82.6 123 82.5 122 82 121.8 81 122.7 80 M233 82 234 81.7 234.7 82 233 82 M95.8 84 98 83.7 100 83.9 100.2 84 100.5 85 99 85.5 98 85.6 97 85.4 96 85 95.8 84 M107.5 84 108 83.3 109 83 110 83.3 110.4 84 110.1 85 109 85.6 107.8 85 107.5 84 M105.7 95 106 94.8 106.4 95 107 95.4 107.3 96 106 96.9 104.9 96 105.7 95 M203.5 120 205 119.5 206 119.4 207 119.5 208.3 120 209.3 121 210.8 123 210.8 124 208.9 125 207 125.2 205.8 125 205 124 204.8 123 204.2 122 203.2 121 203.5 120"/>
<path fill="#f9c2a7" d="M66.9 18 69 17.3 71 17.3 72.1 18 72.2 19 71.8 20 72 20.5 73 20.9 75 20.5 76.3 20 76.1 19 75.1 17 202.8 17 202.7 19 200 20.6 198.9 21 198.5 22 198.4 24 199.9 25 204 26.2 206.9 29 208.7 30 210 30.4 214.2 31 215 31.3 216 32 218 35.3 219 36.2 222 38 222.9 39 223.4 41 224.3 42 223 42.1 222 41.5 221 41.3 217 41.4 215 41.2 203 37.5 201 36.4 199 34.7 198 34.4 194 34.2 192 33.7 186 31.1 183.3 29 181 27.7 180 27 179.2 26 177 24.3 176.2 23 175.8 22 174.6 21 172 20.8 166 20.6 157 19.8 143 19.9 137 19.3 133 19.2 119 20.6 117.6 21 115.8 23 115 23.4 112 24.4 109 24.9 103 25 99 25.8 98 25.8 93 25.1 88 25.5 85 25.5 83 25.4 79 23.9 78 23.9 76.8 25 76 25.3 74 25.5 70.8 25 68.2 24 66 22.8 65.1 21 65.2 20 65.8 19 66.9 18 M90.6 43 91 42.8 92 42.7 92.5 43 92.8 44 92 45.1 91 45.5 90 45.3 89.7 45 89.7 44 90.6 43 M42 56 43 55.9 44 56 46 56.8 47 56.9 49 56.5 52 55.4 54 55.1 58 55.9 65 55.9 66 56.2 67 56.8 68 57.9 68.5 59 68.5 60 68 61 67 62.2 66 62.8 65 63.1 63.6 63 61 62.1 58 62.3 57 62.1 54 60.8 47.9 60 45 58.4 41.4 57 42 56 M234.6 57 237 56.8 239 57 241.5 58 243.9 61 243.8 62 243.2 63 243.5 64 247 65.5 247.3 66 247.4 67 246.8 68 245 68.8 242 69.4 240.6 70 240.4 71 240.6 72 240 72.6 239 73 233 73 225.4 71 225 70 227 67.1 228 66.5 229 66.2 231.1 66 232.1 65 231 64.6 228 64.2 225.1 63 223.8 62 225 61.2 229 60.6 230 60.1 231.7 58 234.6 57 M145.8 63 147 62.8 147.6 63 147 63.3 146 63.2 145.8 63 M110.6 65 112.1 65 117 66 118 66.1 121 65.9 122 66 122 67 120 68.4 119 68.7 118 68.8 114 68.1 112 67.9 109 68 108 67.8 107.4 67 108 66 109 65.5 110.6 65 M192.9 65 194 64.2 196 64 200 65 199 65.5 198 65.6 195 65.4 192.9 65 M135.3 66 136 65.6 137 65.3 139 65.4 141.5 66 143 67 142 68 139.7 68 136.5 67 135.3 66 M143.5 68 146 67.6 148 67.9 149 68.2 150 68 151 67.1 152 67 153 67.2 153.7 68 153.7 69 152 70.8 146.2 72 144.2 72 143.6 71 144.1 69 144 68.3 143.5 68 M49.7 69 51 68.7 53 68.8 53.5 69 54 70 52 70.9 51 71.1 50 71 48.8 70 49.7 69 M166.2 75 167 74.4 168 74.3 169 74.5 170.2 75 170.3 76 169 76.4 167 76.3 166.5 76 166.2 75 M241.7 75 242 74.5 243 74.3 245 74.9 246.6 76 246.5 77 245 77.9 244 78.3 242 78.7 241 78.5 240.6 78 240.6 77 241.7 75 M76.6 77 78 76.2 79 76.1 80 76.3 81.6 77 81.9 78 81.1 79 79.2 80 78 80.2 76 80 74.9 79 76.6 77 M174.3 80 175 79.7 176.1 80 175 80.3 174.3 80 M150.5 81 151 80.4 152 80.2 153.3 81 153.8 82 153 82.9 152 83.4 151 82.8 150.3 82 150.5 81 M47.9 83 50 82.6 54 82.7 55.4 83 56.9 84 56.2 85 55 85.4 54 85.5 49.1 85 46 84 47.9 83 M107.9 84 109 83.2 110 84 109.8 85 109 85.5 108.2 85 107.9 84 M167.5 88 169 87.5 171 87.7 174 89 175.4 90 175.7 91 175 93.1 174.5 94 173 94.5 171 94.5 168.4 94 167 93.5 166.5 93 166.2 92 166.3 91 167 88.7 167.5 88 M105.2 96 106 95.1 107 96 106 96.7 105.2 96"/>
<path fill="#f5aa89" d="M77.9 17 201.9 17 201.4 19 199 20.3 195.9 21 195 21.8 194.5 22 194.7 23 193.9 24 195.9 25 201 26.3 203 27.1 204 27.7 206.6 30 208 30.8 214.1 32 215 32.7 217 35.6 219.3 38 219.6 39 219 39.5 218 40 216 40.2 214 40 212 39.3 209 37.8 203 36.3 202 35.7 200 34.1 199 33.7 194 33.1 192 32.5 188.7 31 183 27.4 180.8 25 178 23 177.4 22 176.4 21 175 20.8 157 19.6 143 19.6 133 18.8 127 19.7 121 20 118 20.5 116.3 21 114 23 111 24 109 24.3 102 24.3 98 24.9 93 24.2 86 24.6 83 24.1 80.6 23 79.5 22 79.5 20 78.2 18 77.9 17 M186 21 187 21.7 188.3 22 191.6 22 191 21.7 190.7 21 186 21 M91 43 92.1 43 92.5 44 92 44.7 91 45.3 90.2 45 89.9 44 91 43 M50.8 57 53 56.1 54 56.1 56.1 57 56.5 58 55 59 53 59.3 51 59 50.1 58 50.8 57 M61 58 62 57.9 63.1 58 62 58.1 61 58 M234.4 58 236 57.8 238 57.9 238.4 58 239.5 59 239.5 60 237.8 63 242.4 66 242.9 67 237.7 69 235 70.4 233 70.7 231 70.7 229 70.3 228.5 70 228.7 69 229 68.7 230.4 68 233 67.3 234.7 66 235.4 65 235.8 64 234.5 62 233.1 59 234.4 58 M150.5 68 151 67.6 152 67.2 153 67.7 153.3 68 153.4 69 153 69.5 152 69.9 151 69.7 150.3 69 150.5 68 M151.3 81 152 80.6 153 81.3 153.4 82 153 82.5 152 83 151 82.5 150.6 82 151.3 81 M108.2 84 109 83.5 109.7 84 109.5 85 109 85.3 108.5 85 108.2 84 M168.5 90 169 89.6 170 89.2 171 89.3 172.9 90 173.4 91 173 92 172 92.7 171 92.9 170 92.8 168.5 92 168 91 168.5 90 M105.4 96 106 95.4 106.7 96 106 96.5 105.4 96"/>
<path fill="#eb9172" d="M79.6 17 201.1 17 200.9 18 200.4 19 199 19.7 197 20.3 194 20.7 188 20.4 186 20.5 182.2 21 181 21.5 180 21.5 178.7 21 174 20.3 157 19.4 143 19.4 139.1 19 135 18.2 133 18.1 131 18.5 129.6 19 127 19.4 120 19.9 118 20.2 114.8 21 112 22.7 109 23.5 106 23.8 101 23.5 98 24 97 24 93 23.3 87 23.9 85 23.8 83 23.2 81.3 22 81.1 20 79.8 18 79.6 17 M182.7 24 183 23.6 184 23.2 185 23.1 187 23.3 188 23.7 189.5 25 191 25.7 192.8 26 197 26.2 200 26.9 202 27.5 203 28.1 206 30.9 207 31.5 209 32.1 212 32.6 213.2 33 215 34.6 216 35.8 216.8 37 217.2 38 216.6 39 215 39.4 214 39.3 213 39 212 38.3 210 36.6 209 36.3 204 35.6 202.6 35 201 33.7 199.4 33 195 32.5 192.9 32 190.8 31 188 28.8 184.9 27 183.7 26 183 25 182.7 24 M90.3 44 91 43.3 92 43.4 92.3 44 92 44.4 91 45 90.3 44 M151 68 152 67.4 152.9 68 153.1 69 152 69.7 151 69.3 150.7 69 151 68 M150.9 82 152 81 153.1 82 152 82.8 150.9 82 M108.6 84 109 83.7 109.4 84 109 85.1 108.6 84 M105.6 96 106 95.6 106.4 96 106 96.3 105.6 96"/>
<path fill="#de735c" d="M81.1 17 200.3 17 200.2 18 199.6 19 197 19.9 193 20.3 187 20 180 20.7 174 20 167 19.8 158 19.2 142 19.1 137.2 18 135 17.2 133 17.2 131 17.6 128.1 19 125 19.4 120 19.7 117.3 20 112.8 21 110 22.3 107 23 105 23 103 22.6 101.6 22 100.9 21 100 20.5 99 20.5 98 20.8 96 22 92 22.1 88 23 86 23.1 84 22.7 82.8 22 82.4 21 82.4 20 81.2 18 81.1 17 M193.9 27 197 27 199 27.3 201.2 28 202.7 29 204 30.8 205 31.8 208.6 34 208 34.5 207 34.9 205 34.8 203.1 34 202 33.1 201 32.6 195 31.9 193 31.3 191.2 30 190.6 29 190.2 28 191 27.4 193.9 27 M212 36 213 35.2 214 35.4 215 36 215.6 37 215.5 38 215 38.3 214 38.4 213.1 38 212.3 37 212 36 M90.7 44 91 43.7 92 44 91 44.5 90.7 44 M151.4 68 152 67.6 152.6 68 152.8 69 152 69.6 151.1 69 151.4 68 M151.2 82 152 81.2 152.8 82 152 82.6 151.2 82 M108.9 84 109.1 84 109 84.4 108.9 84 M105.8 96 106 95.8 106.2 96 106 96.1 105.8 96"/>
<path fill="#d05548" d="M82.9 17 104.1 17 105 17.8 106 18 107 17.9 108.1 17 129.9 17 128.6 18 126.6 19 119 19.5 112 20.5 110.1 21 107.5 22 106 22.2 104 21.8 103 21 102.5 20 102 19.3 101 19 99 19.2 95 20.7 90 20.8 87.3 22 86 22.1 85 22 83.9 21 83.9 20 83.6 19 82.9 18 82.9 17 M137.9 17 199.6 17 199.4 18 198.7 19 196 19.7 193 19.9 187 19.7 180 20.3 152 18.6 143 18.8 139.6 18 137.9 17 M194 28 197 27.8 198.7 28 200 28.4 201.2 29 201.8 30 201.6 31 200 31.4 198 31.5 196 31.4 194.2 31 192.8 30 192.6 29 193 28.5 194 28 M151.7 68 152 67.9 152.2 68 152.5 69 152 69.4 151.4 69 151.7 68 M151.4 82 152 81.5 152.6 82 152 82.4 151.4 82"/>
<path fill="#c2383a" d="M90.8 18 93.4 17 99.6 17 97 18.5 96.4 19 94 19.7 92 19.4 90.8 19 90.8 18 M109.8 18 110 17 127.6 17 127.1 18 124.7 19 119 19.3 114 19.8 112 19.8 110 19.6 109.2 19 109.8 18 M140.7 17 198.8 17 198.6 18 197.7 19 196 19.4 193 19.6 187 19.4 180 19.9 163 19.1 159 18.4 152.6 18 150 17.5 148 18 143 18.1 142 18 140.7 17 M106.4 20 107.1 20 106.4 20 M195 29 196 28.8 198 28.8 198.8 29 199.6 30 198 30.6 196 30.5 194.7 30 195 29 M151.7 69 152 68.2 152.2 69 152 69.2 151.7 69 M151.7 82 152 81.7 152.3 82 152 82.3 151.7 82"/>
<path fill="#b3192c" d="M111.3 17 125.6 17 125.5 18 124 18.5 114 19.4 111.4 19 111.3 17 M155.9 17 197.9 17 197.7 18 197 18.6 196 19.1 193 19.3 187 19.1 180 19.6 165.7 19 161 18 160 17.4 155.9 17 M151.9 82 152.1 82 151.9 82"/>
<path fill="#930e26" d="M112.5 17 123.8 17 123.6 18 115 19.1 113.5 19 113 18.6 112.6 18 112.5 17 M164.1 17 196.6 17 196.4 18 194 18.9 192 19 187 18.6 184.1 19 179 19.3 169.7 19 164.3 18 164.1 17"/>
<path fill="#760521" d="M113.8 17 121.9 17 121 17.7 120 18 116 18.4 115 18.3 114.3 18 113.8 17 M168.2 17 183.7 17 183.3 18 180 18.8 178 18.9 172 18.6 168.1 18 168.2 17"/>
<path fill="#67001f" d="M115.8 17 119.3 17 117 17.3 115.8 17 M173.1 17 179.2 17 178.5 18 176 18.1 173 18 173.1 17"/>
<path d="M59.4 112 143.2 112 226.9 112 M42.5 92.4 143.2 92.4 243.8 92.4 M38.3 72.3 143.2 72.3 248 72.3 M42.5 52.3 143.2 52.3 243.8 52.3 M59.4 32.7 143.2 32.7 226.9 32.7 M105.9 126.3 100.4 123.5 96.1 120.6 94.1 119 90.6 115.6 87.3 112 84.3 108.3 81.7 104.4 78.4 98.5 76.7 94.4 75.5 90.4 74.6 86.4 73.7 80.4 73.3 72.3 73.7 64.3 74.6 58.3 75.5 54.3 76.7 50.3 78.4 46.2 81.7 40.3 84.3 36.4 87.3 32.7 90.6 29.1 94.1 25.7 96.1 24.1 100.4 21.2 105.9 18.3 M124.5 126.3 121.8 123.5 118.6 119 115.2 112 112.4 104.4 110.8 98.5 109.3 90.4 108.4 80.4 108.2 72.3 108.4 64.3 109.3 54.3 110.8 46.2 112.4 40.3 115.2 32.7 118.6 25.7 121.8 21.2 124.5 18.3 M143.2 126.3 143.2 18.3 M161.8 126.3 164.5 123.5 167.7 119 171.1 112 173.9 104.4 175.5 98.5 177 90.4 177.9 80.4 178.1 72.3 177.9 64.3 177 54.3 175.5 46.2 173.9 40.3 171.1 32.7 167.7 25.7 164.5 21.2 161.8 18.3 M180.4 126.3 185.9 123.5 190.2 120.6 192.2 119 195.7 115.6 199 112 202 108.3 204.6 104.4 207.9 98.5 209.6 94.4 210.8 90.4 211.7 86.4 212.6 80.4 213.1 72.3 212.6 64.3 211.7 58.3 210.8 54.3 209.6 50.3 207.9 46.2 204.6 40.3 202 36.4 199 32.7 195.7 29.1 192.2 25.7 190.2 24.1 185.9 21.2 180.4 18.3" fill="none" stroke="#c2c2c2" stroke-width="0.8"/>
<path d="M51.8 57.6 52.4 57.5 53.1 58.1 54 58.4 54.5 59.3 53.8 59.7 53.8 59.1 53.3 58.2 51.8 57.6 M112.4 106.5 113.6 106.5 114.3 106.7 113.8 107.2 113 107.1 112.4 106.5 M69.3 29.3 72.7 28.6 72.8 28 72.3 27.8 72.7 27.4 78.6 26.1 84.7 27 85.6 27.4 89.6 26.6 90.5 27.1 92 26.9 93.3 27.3 93.9 27.9 96 27.9 98.2 27.4 99.8 28 102.2 27.8 103.1 27.1 104.5 25.8 104.9 26.5 104.8 27.1 105.4 27.5 105.4 28.3 106 28.3 107.4 27.1 108.6 27.1 108.2 28 106.9 29 105.6 28.8 103.8 30.3 102.5 30.6 100.2 31.8 98.7 33.3 99.4 33.5 99.4 34.2 102.4 35.6 103.2 35.7 102.6 36.9 103.1 38.2 103.7 38 104.7 35.9 105.8 35.3 106.7 34.2 106.9 33.3 107.7 31.3 109.8 31.5 110.3 31.9 111 32.1 110.7 33 111.1 33.6 112.1 33.4 113.2 32.5 113.2 33.6 113.9 35.5 115 36.3 115.4 37.4 115.3 38 114.1 38.2 112.9 38.9 109.6 38.9 108.3 39.5 106.4 41 107.4 40.6 108.7 39.8 110.4 39.8 109.8 40.4 109.7 41.5 111.4 41.9 108.7 43.3 108.4 42.7 109.4 42.1 108.7 42.1 106.9 42.9 106.2 43.2 105.7 43.9 105.9 44.4 103.7 45 103.1 46 101.8 47.6 101.7 48.7 99.4 50.1 97.9 51.4 97.6 52.3 97.9 54.5 97.6 55.5 97.2 55.5 96.9 54.8 96.6 53.7 96.7 52.9 96.2 52.2 95.3 52.3 94.8 52 94 51.9 93.1 52.1 93.1 52.8 92.4 52.9 91.6 52.5 90.5 52.5 88.9 53.5 88.3 54.1 87.4 57.6 87.6 58.6 88 59.4 89 60.2 90.8 59.8 91.3 59.1 91.6 58.3 92.6 58 93.5 58 92.1 61.8 93.9 61.7 94.7 62 95.1 62.3 94.7 64.6 94.9 65.3 95.6 66.1 96.4 66.3 97 66 97.9 66.3 98.3 66.7 97.9 67.5 97.7 67 97 66.7 96.5 67.3 94.7 66.7 93.4 65.3 93.5 64.9 92.8 64 92.3 63.5 91.4 63.3 89.9 62.6 89.3 61.8 88.6 61.5 87.6 61.8 83.8 60.1 83 59.3 82.8 58.6 83.1 58 82.8 57.1 80.9 53.9 80.2 51.9 79.3 51.1 79.2 52.3 80.1 53.9 80.8 56.9 80.5 57 78.9 53.9 78.5 53.6 78.9 52.6 78.4 51.9 78.2 50.5 77.9 49.7 76.8 49.2 76.6 48 76.6 45.2 77.4 43.6 78.2 42.6 79.4 40.6 79.4 40 80.2 40.2 80.2 40.6 80.5 39.6 80.4 39.1 79.4 38.4 79.4 36.1 79.2 35.8 79.5 34.9 79.2 33.6 78.6 33.5 78.1 32.8 76.4 32.7 74 31.9 73 32.4 72 33.2 71.4 33 66.7 35.2 62.6 36.2 66.3 34.9 68.9 33.6 67.6 33.5 67.6 32.8 66.9 32.6 67 32.1 68.8 30.9 71.5 30 69.6 29.9 69.6 29.6 69.3 29.3 M98.3 66.7 99.1 66 99.4 65.3 101.8 64.1 102 64.6 101.7 65.1 102.6 64.2 103.4 65.3 106.9 65.2 107.9 66.7 109.4 67.8 110.6 68.4 111.8 68.5 112.6 68.8 113.2 69.5 114 72 114.6 72.5 115.2 72.9 116.4 73 117.2 73.9 118.7 74.2 119.9 74.2 121.9 75.7 122.7 76 122.9 77.4 122.7 78.4 121.4 80.4 120.7 81.1 120.6 84.1 119.8 87.1 119.2 87.8 117.8 88 116.7 88.4 116 89.4 115.6 91.4 114.8 93.4 113.7 95.1 113 95.7 112.1 95.7 111.2 95.3 111 95.5 111.8 96.1 112 96.8 111.9 97.9 111 98.3 109.7 98.3 109.8 99.5 109 99.8 108.4 99.8 109.1 100.8 108.9 101.4 109 102.4 108.4 103.1 108.3 103.7 109.3 104.4 108.6 105.9 108.6 106.7 109.1 107.2 108.1 108.3 106.2 107.3 104.6 104.7 104.7 103.6 104 103.1 104.3 101.8 103.3 97.5 103.5 94.4 103 91.1 103.1 89.1 102.9 85.1 102.1 84.1 100.9 83.4 99.6 82.4 97.3 78 95.9 76.2 95.8 75.4 96.4 74.7 96.6 74 96 73.8 96.6 71.7 97.1 71.3 98 69.8 98.2 68.3 97.9 67.5 98.3 66.7 M109.1 107.4 111.3 108.7 110.6 109 109.4 109.1 108.5 108.6 108.5 107.6 109.1 107.4 M116.2 22.3 116.9 23.1 117.7 23.5 119.6 23.5 120.4 23.8 120.6 26.2 121.7 26.5 120.4 27.1 121.4 27.6 120 28.5 119.8 29.4 120.8 32.1 122.6 32.8 123.5 32.4 123.8 31.5 125.7 29.7 128.3 28.8 129.4 28 131.2 27.8 133 27.1 133.8 26.5 134.5 24.9 135.5 24.1 136.1 23.3 136.4 22.6 136.2 21.9 138.2 21 131.2 20.2 127.7 20.4 122.1 20.8 119.1 21.4 116.2 22.3 M114.2 30.6 113.5 31.5 112.7 31.6 111.2 31 110.2 30 108.6 30.1 108.8 29.4 110.5 29.1 111.5 28.5 111.5 27.9 110.4 27.6 110.3 27.1 109.7 26.8 108 26.8 106.5 26.5 106.3 26.2 108 25.7 109.1 24.9 111.2 24.8 112.4 25.3 113.6 25.9 114 26.5 114.7 26.8 115.2 28.2 116.2 28.6 114.3 29.8 114.2 30.6 M114.4 23.3 112.3 23.5 109 23.3 109.5 22.6 112.1 21.9 110.1 21.4 113.4 20.8 117.3 20.4 120.7 20.4 121.4 20.8 114.3 22.6 114.4 23.3 M111.6 24.4 107.3 24.3 107.3 23.8 109.2 23.2 111.6 23.4 111.6 24.4 M100.4 27.4 96.3 27.6 94.5 27.1 94.1 26.5 95.7 25.4 97.6 25.2 99.6 25.2 100.3 25.4 101 26.2 100.4 27.4 M95.5 26 93.6 26.1 91.9 25.7 94 24.5 96.4 24.5 96.4 25.2 95.5 26 M103.1 26 102.2 25.4 103.5 24.7 104.5 24.9 103.1 26 M106.4 25.4 104.6 25.4 105.6 24.6 107 24.6 106.4 25.4 M102.3 23.8 99.9 24.2 97.6 23.8 99.5 23.3 102.2 23.6 102.3 23.8 M104.7 24.1 103.8 23.8 105 23.2 105.8 23.5 104.7 24.1 M111.5 22.1 109.2 22.3 108.4 21.6 110.7 21.1 111.5 22.1 M107.1 30.4 104.5 30.9 104.4 30 105.4 29.2 106.6 29.1 107 29.8 107.1 30.4 M112.7 40.6 114.7 39.3 115.4 38 116 39.5 116.1 40.6 115.5 41.1 114.4 40.6 112.7 40.6 M80.1 40 79.5 39.6 78.7 38.5 80 39 80.1 40 M140.1 48.2 139.7 47.7 139.1 47.4 138.3 47.6 138.4 46.6 138 46.4 138.4 45.2 138.4 44.2 138.2 43.6 138.9 43.1 142.2 43.3 142.5 42.6 142.5 41.6 142 40.9 140.8 40.4 140.7 40 141.6 39.8 142.4 39.8 142.3 39.3 143.3 39.3 143.9 38.9 144.4 38.3 145 38 145.5 36.9 147.3 36.5 147.4 35.8 147 34.9 147.2 34.5 148.1 34.1 148.2 34.9 147.9 35.9 148.5 36.4 149.5 36.2 150.3 36.5 152.2 35.9 152.8 36.1 153.4 35.7 153.2 34.7 153.4 34.2 154.7 34.4 154.2 33.2 157.1 32.7 156.3 32.4 153.9 32.7 153.1 32.4 152.9 30.9 154.3 29.7 153.9 29.2 153 29.3 151.1 31.2 151.1 32.1 151.7 32.6 152 33.1 151 33.9 151.1 34.9 149.4 35.5 148.7 33.9 148.1 33 146.7 33.9 145.7 33.4 145.4 31.5 147.6 30.3 149.4 28.2 150.7 27.1 153.1 26.4 155 26.4 160.3 28 161 28.8 160 29.1 157.7 28.7 158.5 30 159.7 30.3 161.2 30 161.5 29.1 162.4 28.9 162 27.9 162.8 27.8 164.2 28.1 165.7 27.6 166.6 27.8 168.6 27.4 168.7 26.9 171.6 27.5 171.8 26.8 170.7 26 171 25.3 171.9 25.3 173.1 26.2 174 27.6 175 28.2 173.5 26.2 173.6 25.4 174.9 25.5 175.2 24.9 177.1 24.8 177.3 24.1 178.1 23.8 181.5 23.3 182.3 22.7 187.1 23.7 188.1 24.6 192.3 25.2 194 24.9 197.3 26.2 200 25.4 202.6 25.5 206.5 26.3 208.1 26.2 210.1 26.8 211.6 27 213.4 27 214.3 26.8 216.6 26.9 219.5 27.4 M222.8 29.7 222.3 30 223.5 31.2 222.7 31.6 222.5 32.7 219.4 32.8 219.9 33.9 221.6 35 222.1 35.9 222.2 37.1 221.6 37.2 221.8 38.4 218.5 35.5 217.4 34.2 218 33.9 217.2 32.4 217.5 31.5 215.1 31.7 215.3 33.2 213.7 33 211 33.1 209.8 33.3 209.4 34.9 209.6 36.1 210.9 36.7 212.5 36.9 213.5 37.7 214.9 40.3 214.6 41 214.4 42.6 213.5 43.7 212.6 43.6 212.3 43.9 212.3 44.9 211.9 45.7 213.6 47.6 214 48.6 213.7 48.9 212.6 49.2 212 47.2 211.2 46.9 210.4 45.9 209.8 45.7 209.1 45.9 208.6 46.3 208.4 45.2 207.8 45 207.4 45.7 206.8 46.2 206.8 46.6 208.2 47.4 208.7 47 209.8 47.4 209.2 47.9 208.7 49 210.6 50.9 211.1 51.7 211.4 53.3 210.3 55.7 209.7 56.6 206.2 58.2 206.1 58.8 205.6 58 204.8 58 203.8 59.3 203.8 60 205.9 62.3 206.3 63.6 206.4 64.6 205.1 65.5 204.1 66.5 203.7 65.3 202.8 65 202.5 64.2 201.5 63.8 200.9 63.3 200.6 65 200.9 66 201.8 67.7 202.6 68.2 203.3 69.3 203.4 70.5 203.8 71.4 203.4 71.5 202.5 70.8 201.9 70 201.5 68.7 201.4 67.7 200.3 66.9 200.2 66 200.3 65 199.9 63.3 199 61 198.1 61.6 197.4 61.4 197.4 60.3 195.9 58.3 195.4 57.3 194.7 57.6 192.8 58 192.6 59 191.8 59.4 190.5 61 189.4 61.8 189.5 63.6 189.4 65 188.2 66.9 187.5 66.3 187.1 64.9 185.8 62.3 184.9 59.6 184.7 58.3 184.5 57.8 183.4 58.4 182.5 57.4 183 57.1 182.1 56.6 180.8 55.3 179.7 55.5 178 55.5 175.7 55.1 175.3 54.3 174.7 54.2 173.6 54.5 172.4 53.7 171.4 52.6 170.6 52.3 170 52.4 170.4 53.6 171.7 55.1 172.1 54.9 172.4 55.6 172.4 56.1 174.1 56.1 174.9 55.3 175 54.7 175.2 55.9 176.4 56.5 177.2 57.3 176.1 59.6 174.8 61 173.4 61.5 170.6 63.3 169.2 63.8 168.3 63.8 167.3 60.6 165.4 58 164.7 56.3 162.8 53.6 162.5 52.6 162.4 53.7 161.4 52.3 161.7 53.5 164.1 57.6 164.5 59.6 165.3 60.4 165.8 61.8 168.2 64 168.7 65.3 172.8 64.4 172.7 65.3 172.5 66.7 170.8 69.7 166.7 74 166.1 75.4 165.8 76.7 166.6 80.7 166.6 82.4 165.9 83.6 164.4 84.4 163.5 85.7 163.3 88.4 161.8 89.4 161.4 91.4 159.8 93.4 158.6 94.4 157.2 95.1 155.8 95.1 154.1 95.7 153.3 95.3 153.2 94.1 152.9 92.8 151.8 90.4 151.4 88.4 151.4 87.1 150 84.4 149.9 83.4 150.4 81.4 151.1 80.1 150.1 76 149.6 74.7 148.7 73.4 148.6 72 148.9 69.7 148.1 69.3 146.5 69.5 145.8 68.1 143.7 68.3 142.3 69 140.2 68.9 138.8 69.4 137.9 69 135.6 67 135.3 66 133.6 64.2 133.1 62.5 133.6 61.6 133.9 60.3 133.4 58.3 134.8 55.3 135.7 53.9 136.7 53.4 137.5 52.6 137.7 51.6 138.4 50.3 139.4 49.6 139.9 48.4 141.8 48.8 144.2 47.9 148.7 47.4 149.1 47.7 148.9 48.6 148.9 49.6 149.5 50.1 151.5 50.7 152.1 51.5 153.5 52.1 154.3 51.6 154.3 50.8 155.1 50.3 159.3 51.7 160.4 51.2 162.2 51.4 162.7 49.6 162.9 47.8 162 47.7 161.2 48.2 160 47.7 159.3 48.1 158.4 47.8 157.5 46.6 157.2 45.2 157 45 156 45.1 155.3 45.6 155.6 46.2 156.1 46.8 155.6 47.2 155.4 47.9 155 47.6 154.5 46.6 153.6 45.2 153.5 44.4 150.2 41.8 149.6 42 149.6 42.6 150.3 43.3 150.8 44.1 152.8 45.2 153.1 45.5 152.3 45.3 152 45.9 152.4 46.2 151.8 46.9 151.6 46.8 151.7 45.9 151.2 45.4 149 43.9 148.4 42.9 147.6 42.7 146.8 43.2 145 43.4 144.7 44 144.9 44.4 143.7 44.9 143.2 45.7 143 46.2 143.3 46.4 142.8 47.2 142.1 47.8 140.7 47.8 140.1 48.2 M66.8 27.4 68.7 29.1 66.2 30 64.8 29.4 63.5 29.7 M158.1 44.8 158.3 42.4 158.9 41.3 159.6 41.2 160.5 41.6 160.1 42 160.7 42.6 162.2 42.1 162.8 41.1 163 42.3 162.8 42.5 164 43.3 165.3 44.6 164.5 44.9 163.4 44.9 162.3 44.4 161.2 44.2 160.2 44.4 159.2 44.8 158.1 44.8 M167.8 42.6 167.9 41.9 168.5 41.3 169.7 41 170.6 41.3 170.8 42.1 170 42.6 170 43.4 171.1 44.2 171.7 45.9 172.5 47.4 171.2 47.7 170.3 47.3 169.7 46.6 169.7 45.4 168.2 43.6 167.8 42.6 M140.3 39 143.9 38.2 144 37.3 143.3 37 142.2 35.3 141.7 35.2 142.2 34.2 141.5 34.1 141.7 33.5 140.8 33.5 140.3 34.9 140.7 35.9 141.4 35.9 141.7 36.7 140.9 36.9 141.1 37.4 140.6 37.8 141.4 38.1 140.6 38.4 140.3 39 M140.2 37.7 140.1 36.7 140.5 36.1 139.8 35.6 138.2 36.4 138.5 37.1 138.1 37.8 138.9 38 140.2 37.7 M133.3 30.3 132.6 29.4 133.3 28.9 136.6 28.9 137.1 29.6 136.7 30 135.1 30.6 133.3 30.3 M147.2 22.3 148.9 23.1 151.3 22.3 152.9 21.6 150.3 21.4 147.5 21.7 147.2 22.3 M164.5 26 166 26.5 167 26.4 165.9 25.4 166.5 24.4 169.5 23.2 168.2 23.1 165.9 23.6 164.9 24.4 164.5 26 M179.1 22.6 181.8 22.1 180.5 21.4 177.7 21.2 176.4 21.6 179.1 22.6 M196.5 23.8 198.8 24.4 201.5 23.8 198.7 23.3 196.5 23.6 196.5 23.8 M217.7 44.6 218.4 44.6 219.3 44.2 219.9 43.4 219.3 42.7 217.1 41.9 217.7 43.3 217.1 43.4 217.7 44.6 M218.6 44.7 219.6 45.9 219.6 46.9 220.2 48.4 219.9 49 219.5 49.2 218.5 49.2 218.3 49.9 217.6 49.7 217.5 49.2 215.4 49.6 215.2 49.2 215.8 48.6 217.3 48.4 217.9 47.2 218.5 46.9 218.5 45.9 218 45 218.6 44.7 M214.9 49.7 215.4 49.7 216.2 50.3 216.2 51.3 215.8 51.6 214.7 50.1 214.9 49.7 M216.4 50.1 217.2 50.1 217.4 49.6 216.4 49.4 216.4 50.1 M216.8 41.6 217.4 41.3 214.8 38 212.9 36.2 216.8 41.6 M211.5 56.9 212 57.6 212.3 56.9 212.2 55.6 211.7 55.6 211.5 56.9 M205.4 59.5 206.3 60.1 206.7 59.2 206.4 58.9 205.8 59 205.4 59.5 M189.5 68 190 68.3 190.7 67.5 190.2 66.5 189.5 65.8 189.5 68 M212.2 61.3 212.3 60 213.2 60 213.6 61 213.2 62 213.6 63 214.8 63.6 213.3 63.1 212.8 62.7 212.3 62 212.2 61.3 M214 67.7 215.4 66.7 215.9 65.8 216.6 67.3 216.4 68.1 215.8 68.5 215.2 68 214 67.7 M215.2 64 216 64.6 215.6 65.7 214.7 65.3 214.1 64.6 215.2 64 M211.2 66.8 212.4 65.3 212.1 65 211.1 66.7 211.2 66.8 M206.6 71.3 207.2 73.6 208.1 74.4 208.9 74.5 209.8 74.9 210.7 74.7 211.6 72.3 212.3 71.7 211.9 71 212.1 69.3 212.5 68.8 211.6 68.3 211.1 67.7 210 69 209.5 69.3 208.9 70.2 206.6 71.3 M198.6 68.6 199.9 68.9 201.7 71 203.1 72 203.7 72.7 204 73.4 204.7 74 204.8 75 204.7 76.2 203.9 76.2 202.2 74.4 201.6 73 199.3 70 198.6 68.6 M204.3 76.9 205.1 76.4 207.4 76.9 208.5 77 209.7 77.5 209.5 78.2 205.9 77.6 204.3 76.9 M210 77.8 214 77.9 214.5 78.1 210.5 78.3 210 77.8 M214.8 79.2 215.8 78.4 217 78 215.9 78.8 214.8 79.2 M212.6 76 213.2 76 213.3 74.4 213.6 74 214.4 75.4 214.8 73.7 213.9 73 214.8 73 214.8 72 215.9 71.3 215.4 71.8 213.6 71.7 213 72 213 73 212.5 73 212.7 74.7 212.6 76 M217.4 71.1 218 71.7 217.7 72.7 217.4 72 217.4 71.1 M217.7 74.5 219.1 74.6 218.8 74.9 217.6 74.8 217.7 74.5 M219.4 73.2 220.3 72.7 221.2 73 222 74.4 223.2 73.4 227.2 74.9 228.1 76 229.1 76.4 228.8 77.6 230.1 79.2 228.9 79.2 227.9 77.7 225.8 78.6 225 78.4 223.9 77.8 223.3 78 223.3 76.4 221.7 75.4 220.5 75 219.4 73.2 M229.5 76 231.6 75.2 231.3 76 230.1 76.5 229.5 76 M207.9 87.1 212.4 85.4 214.2 83.7 215.2 82.4 216.5 81.7 217.8 82.3 218.3 81.1 219.9 80.1 220.7 80.4 221.8 80.5 222.3 81.4 221.3 82.4 223.3 84.1 224 84.1 224.8 82.4 225 80.7 225.7 79.5 226.2 80.7 226.2 81.9 226.9 82.4 227 84.1 229.9 89.1 229.5 91.2 228.4 93.1 224.8 97.1 223.4 97.7 222.1 98.5 221.4 97.9 220.4 98.3 219.6 97.8 219.2 97.1 219 95.5 219.2 94.4 217.9 95.7 217.4 94.3 216.5 93.8 214.9 93.6 213.1 94 210.4 95 209 95.3 207.6 95.9 206.5 95.3 207.4 93.8 207.3 89.8 207.9 87.1 M220.5 99.6 221.3 99.9 222.4 99.7 221.6 100.8 220.5 101.5 220.1 101 220.5 99.6 M238.2 95.5 238.7 96.3 238.7 97.1 240 97.6 237.7 99.5 236.4 100.2 236.3 99.9 237.1 99.1 236.8 98.6 237.8 97.8 238.1 96.8 238.2 95.5 M235.6 99.5 236.1 100 233.9 101.6 232.8 102.1 231.7 103 230.5 103.5 229.5 103.1 230.4 102.3 233.3 101 235.6 99.5 M171.7 80.4 172.2 82.9 171.6 84.1 169.8 89.1 168.6 89.4 168.1 88.8 167.8 87.1 168.6 85.4 168.4 83.7 169.6 82.9 171.7 80.4 M94.7 57.7 95.9 57 97.1 56.9 98.1 57.4 99.2 58.3 100.7 58.8 98.8 59 98.6 58.5 97.5 57.8 96.4 57.4 94.7 57.7 M100.5 60 101.7 59 103.1 59.2 103.9 59.9 102.1 60.5 101 60.3 100.5 60 M98.2 60 99.4 60.2 99.1 60.4 98.2 60 M104.6 60 105.5 60 105.4 60.3 104.6 60.3 104.6 60 M76 122.2 84.1 122.5 83.5 121.9 85.3 121.6 86.7 120.9 89.8 120.3 95.4 120.1 99.7 120.3 103.1 119.8 106.9 119.5 111.1 119.8 112.3 118.7 114.7 119.3 114.5 116.8 114.7 115.6 115.6 114.7 117.5 114 117.3 114.7 116.6 115.9 116.9 117.3 119.1 120.3 119.8 120.9 124.4 122 128.2 122.1 138.2 118.7 141.1 118.2 143.2 117.9 151.5 117.9 160.1 117.3 164.9 115.9 167.2 115.6 169.1 116.2 173.3 116.5 173.5 117.6 175.6 117.6 177.6 116.5 182.3 115.9 186.9 115.6 191.3 115.6 195.4 115.9 200.1 115.6 204 116 210.1 117.9 211 118.7 212.8 118.9 211.2 119.8 207.9 120.6 204.6 121.9 205.6 122.1 210.3 122.2" fill="none" stroke="#000" stroke-width="1.2" stroke-linejoin="round"/>
<g fill="none" stroke="#ffff00" stroke-width="1.4" stroke-linejoin="round">
<path d="M200.3 17 200.2 18 199.6 19 197 19.9 193 20.3 187 20 180 20.7 174 20 167 19.8 158 19.2 142 19.1 137.2 18 135 17.2 133 17.2 131 17.6 128.1 19 125 19.4 120 19.7 117.3 20 112.8 21 110 22.3 107 23 105 23 103 22.6 101.6 22 100.9 21 100 20.5 99 20.5 98 20.8 96 22 92 22.1 88 23 86 23.1 84 22.7 82.8 22 82.4 21 82.4 20 81.2 18 81.1 17 M193.9 27 197 27 199 27.3 201.2 28 202.7 29 204 30.8 205 31.8 208.6 34 208 34.5 207 34.9 205 34.8 203.1 34 202 33.1 201 32.6 195 31.9 193 31.3 191.2 30 190.6 29 190.2 28 191 27.4 193.9 27 M212 36 213 35.2 214 35.4 215 36 215.6 37 215.5 38 215 38.3 214 38.4 213.1 38 212.3 37 212 36 M90.7 44 91 43.7 92 44 91 44.5 90.7 44 M151.4 68 152 67.6 152.6 68 152.8 69 152 69.6 151.1 69 151.4 68 M151.2 82 152 81.2 152.8 82 152 82.6 151.2 82 M108.9 84 109.1 84 109 84.4 108.9 84 M105.8 96 106 95.8 106.2 96 106 96.1 105.8 96"/>
<path d="M127 28 126 28.2 125 28.7 122 31.2 119.3 33 118.3 34 119.1 35 122.4 37 124 37.6 127 38 130 37.9 135 36.7 139 36.2 142.3 35 144.1 34 144.8 33 145 32 144 31.5 141 31.8 139 31.6 138 31 136.3 29 135 28.3 134 28.1 130 27.8 127 28 M238 47 237 47.3 235.8 48 235.3 49 236 50 238 50.8 239 50.8 240 50.6 241 50.1 242 49 241.9 48 241 47.4 240 47 238 47 M213 95.8 211.1 97 210.2 98 209.9 99 210.3 102 210.3 104 211 105 213 106.1 215 106.7 216 106.5 216.6 106 216.9 105 216.7 103 217.3 102 219.1 100 219.6 99 219.3 98 218.3 97 216.9 96 216 95.6 215 95.5 213 95.8 M178 104 177 104.3 176 105.2 174.9 108 174.6 109 174.9 110 175.7 111 177 111.8 179 112.1 180.2 112 181 111.7 182 110.8 182.4 110 182.6 109 182.3 108 180.4 105 179 104.1 178 104 M151 109.9 149.5 112 148.2 113 149.4 114 151 114.2 153 114.1 158 113 160.4 112 160.7 111 159 110 156 109.2 153 109.3 151 109.9" stroke-dasharray="4.4 2.2"/>
</g>
</g>
<path d="M199 126.3 204.1 124.7 209.4 122.6 213.7 120.6 217.6 118.5 222.8 115 227.7 111.4 232.1 107.6 235.4 104.4 238.8 100.5 240.7 97.8 243.1 93.8 244.7 90.4 246 86.4 247.2 81.1 247.7 77 248 72.3 247.7 67.7 247.2 63.6 246 58.3 244.7 54.3 243.1 50.9 240.7 46.9 238.8 44.2 235.4 40.3 232.1 37.1 227.7 33.3 222.8 29.7 217.6 26.2 213.7 24.1 209.4 22.1 204.1 20 199 18.3 87.3 18.3 83.2 19.6 78 21.6 73.6 23.6 69.6 25.7 65.2 28.5 60.2 32.1 56.3 35.2 52.8 38.4 50.3 41 47 44.9 43.5 50.3 42.2 52.9 41.1 55.6 39.3 62.3 38.8 65.7 38.4 69.7 38.3 72.3 38.5 76.4 38.9 79.7 39.5 83.1 40.7 87.8 41.6 90.4 42.8 93.1 44.3 95.8 46 98.5 48.1 101.1 52.8 106.3 58.6 111.4 65.2 116.2 71.6 120.1 75.8 122.1 80.1 123.9 87.3 126.3Z" fill="none" stroke="#222" stroke-width="1.0"/>
<clipPath id="clipb"><path d="M440.9 126.3 446 124.7 451.3 122.6 455.6 120.6 459.5 118.5 464.7 115 469.6 111.4 474 107.6 477.3 104.4 480.7 100.5 482.6 97.8 485 93.8 486.6 90.4 487.9 86.4 489.1 81.1 489.6 77 489.9 72.3 489.6 67.7 489.1 63.6 487.9 58.3 486.6 54.3 485 50.9 482.6 46.9 480.7 44.2 477.3 40.3 474 37.1 469.6 33.3 464.7 29.7 459.5 26.2 455.6 24.1 451.3 22.1 446 20 440.9 18.3 329.2 18.3 325.1 19.6 319.9 21.6 315.5 23.6 311.5 25.7 307.1 28.5 302.1 32.1 298.2 35.2 294.7 38.4 292.2 41 288.9 44.9 285.4 50.3 284.1 52.9 283 55.6 281.2 62.3 280.7 65.7 280.3 69.7 280.2 72.3 280.4 76.4 280.8 79.7 281.4 83.1 282.6 87.8 283.5 90.4 284.7 93.1 286.2 95.8 287.9 98.5 290 101.1 294.7 106.3 300.5 111.4 307.1 116.2 313.5 120.1 317.7 122.1 322 123.9 329.2 126.3Z"/></clipPath>
<g clip-path="url(#clipb)">
<path fill="#e0ecf3" d="M439.8 17 444.9 17 446 17.4 449 17.7 450.1 18 450.7 19 448.6 21 446 21.1 445 20.9 443.3 20 439.8 17 M384.2 21 385 20.4 386 20.4 387.5 21 390.4 23 391.6 24 391.9 25 391.4 26 390 26.2 387.9 26 387.3 25 387.3 24 384.7 22 384.2 21 M288.7 22 289 21.7 290 21.8 292.9 23 294.5 24 294 24.2 290 24.3 289 23.8 288.5 23 288.7 22 M349.8 22 351 21.7 352.3 22 353.9 23 354.4 24 354 24.5 353 24.9 351 24.8 350 24 349.8 22 M418.3 23 419 22.8 420.1 23 420.5 24 421 24.1 421.5 25 421.5 26 421.2 27 421.1 28 420.2 30 422 30.8 427 31.2 430 31.6 433 33 432 34.1 430 34.4 423 32.8 422 32.9 420 33.6 418 33.7 417 33.4 416.4 33 414.7 31 413 30.4 408 29.4 407.1 29 406 28.1 404.6 28 407 27.9 414 26.4 415 26 416 25.2 417 24.7 419.8 24 419 23.7 418.3 23 M482.5 23 483 22.8 484.8 23 487.2 24 487 24.3 486 25 484.8 25 484 24.8 482.5 24 482.5 23 M287.8 25 288.3 25 287.8 25 M323.1 25 326 24.9 327 25.1 328 25.7 328.9 27 329.2 28 329.8 29 331.4 30 332 31 330.2 31 328 30.3 327.5 30 327 29 325 27.6 323 26.8 319.7 26 323.1 25 M343.3 26 345 25.4 347 25.2 348 25.7 349 26.6 349.9 28 349.9 29 350.6 30 353 30.4 354 30.6 354.6 31 355.1 33 354.6 34 353.4 35 354.1 36 350 38 348 38.2 345.8 38 345.6 37 348.1 35 347.2 34 345.4 33 344.5 32 345 31.4 345.6 31 348 30 347.7 29 345 28.2 343.1 27 343.3 26 M372.6 26 374 25.7 377 25.7 378.6 26 380 26.7 382 27.2 385 27.4 386 27.5 387 27.9 391 30 390.6 31 388.1 32 388.8 33 391 33.7 395 33.8 398 34.5 399 35 399.6 36 400.8 37 401.5 38 401 38.6 400 39 399 38.7 397.5 38 395 36.3 392 35.1 385 35 382 34.7 381 35.2 380.3 36 380.2 37 383.3 41 384 41.8 385 42.5 387 43 389 43 390 42.8 391.3 42 392 41.8 394 41.9 396.1 43 397.3 44 399 44.5 400 44.6 403 44.2 410 44.5 412 44.3 414 43.8 416 44.6 417.9 46 418.8 47 418 47.5 417 47.8 412 48 411 49.1 410 49.1 407.9 49 404 48.2 400 46.3 399 46.2 392 46.6 389 46.4 387 45.5 385 43.8 384 43.4 381 42.5 378 42.1 377 41.8 376 41.1 374.9 40 374.4 38 373.8 37 372 36 370 35.6 368.6 36 368.6 37 369.4 38 369 40 368.5 41 367.7 42 367.4 43 368 43.5 369 44 371 44.3 373.6 44 374 43.8 375 44 376.3 45 378 45.7 385 47.6 391 49.8 392 50.1 394 49.9 396 50.3 405 53.2 408 53.8 415 54.4 416 54.4 417 54.1 417.6 53 417 52.4 414.1 51 415 50.7 416 50.8 416.9 51 418 51.9 423 53.8 425.2 55 425.3 56 420 57.5 418 57.4 416 57 415.3 58 417.5 59 417.9 60 417 60.7 416 60.7 413 60 411.6 59 411 58 411.3 57 408 55.7 403 54.8 401 55.1 400.1 56 401.4 58 401 58.4 399.6 59 399.8 60 403 61 404 61.5 405.5 62 405.8 63 405 63.7 403 62.7 396.4 61 393 59.4 390 58.6 386 59.7 384 59.9 380 59.3 374 57.5 372 57.3 371 57.5 369.1 58 369.8 59 376 61.4 377.8 62 377 62.5 373 62.6 371.4 63 370.5 64 371.3 65 373 65.5 375 65.8 379.9 65 382 64.4 384 64.3 386 64.4 387.5 65 387.5 66 387.1 67 387.6 68 390.4 69 391.6 70 388 71.5 387.4 72 386.8 73 386 73.5 384 73.9 382 74 381 73.8 380 73 379.8 72 379 71.1 375 71.5 373 71.3 369 69.5 368 69 367 68 365 67.5 364.3 68 363.7 69 364.4 71 364 71.4 363 71.7 360 71.8 358 72.3 356.3 73 355 73.1 353.3 73 350.5 72 352 71.3 357 70.9 358 70.5 358.6 70 359.6 69 360 67.9 361 67.1 362 66.9 364 66.9 365 66.5 365.3 66 366.6 65 366.8 64 366.4 63 366.8 62 366.8 61 365 58.9 364 58.6 360 58.3 358.7 58 357.7 57 360 56.4 360.7 56 361.1 55 359.8 54 357 53 355 52.8 354 53.2 352.7 54 352.3 56 350 57 348 57.3 346 57.1 341 55.6 336 55 334 54.1 333.6 53 334.3 52 335 51.7 339.1 51 340 50 340.3 49 342 48 343 47.8 346 47.7 350 48.4 352 48.5 353 48.4 354 48.1 354.3 46 353 44 351.5 41 352 40.7 353 40.6 359 40.8 360 40.6 362 39.7 364 39 364.9 38 363.8 36 364.6 35 366.7 34 369 33.4 373 33.4 375 32.8 377 32.9 380 33.5 381 33.1 381 32 379.8 31 379.4 30 381 29 380.7 28 380 27.7 377 27.9 373 27.6 372.3 27 372.6 26 M374 47.8 373 48.3 372.5 49 372.5 50 372.9 51 371.8 52 372.6 53 375 53.5 377.4 55 381 56.2 382 56.3 384 56.1 384.4 56 385 55.4 386 55.4 390 56.4 392 56.2 392.4 56 390.7 55 389 54.5 388 54 386 53.5 383 52 382 51 381.4 50 380 48.9 376 47.7 374 47.8 M363 50.5 362.4 51 364.9 52 368 52.2 369.7 52 367 51.6 366.3 51 365 50.6 364 50.4 363 50.5 M302.3 27 304 26.8 305.4 27 305 27.5 304 27.5 302.3 27 M462.4 27 463 26.2 464 26 465 26.2 467 26.5 468.2 27 468.7 28 467 28.7 465 29.1 464 29.1 463 28.3 462.4 27 M279 28 279 27.4 281 28 281.1 29 279 29.1 279 28 M305.5 28 306 27.5 307 27.5 308 27.6 309.8 28 309 28.6 308 28.6 305.5 28 M355.9 28 357 27.4 361 27.8 361.9 28 363 29 362 29.4 359 29.7 357 30.3 356 30.4 355.4 30 356.9 29 355.9 28 M442.7 28 443.1 28 442.7 28 M490 28 492 27.5 492 29.2 490.4 30 490 30.6 488.5 30 488.2 29 490 28 M490.8 31 491.1 31 490.8 31 M474.7 32 476 31.6 478 31.6 479.5 32 480 32.6 481.2 33 476 33.1 475 33.4 474 34.2 473 34.4 470.5 34 469.2 33 470 32.4 471 32.1 474 32.2 474.7 32 M446.1 33 448 32.2 450 32.1 451 32.4 454 34.2 455 34.6 460 36 461.5 37 460.7 38 461.1 39 461.9 40 461 40.8 460 40.7 453.9 39 452.2 38 452.4 37 449.8 36 446 35 445 34 446.1 33 M295.7 34 297 33.3 298 33.1 298.8 34 299 34.8 298.6 36 298 36.2 297.2 36 295.6 35 295.7 34 M403.6 34 404.4 34 405 34.5 406 34.6 414 34.6 415 34.9 417 36 417.6 37 415 37.9 411 37.5 407 36.7 405 35.4 404 35 403.6 34 M316.1 35 317 34.1 318.6 35 318 35.4 317 35.3 316.1 35 M336.8 37 338 36.9 339 37 343 38 343.6 39 342 39.6 341 39.7 340 39.5 338.7 39 337.1 38 336.8 37 M317.3 39 321 38.1 322 38.2 323.6 39 323 39.8 319 39.7 318.6 40 318.4 41 317 41.6 313.1 42 313 44 312 44.8 311 44.9 309 44.6 306.9 44 306.9 43 306.5 42 307 41.8 311.1 41 310.7 40 311 39.6 312 39.1 317.3 39 M431.9 39 432 38.8 433 38.1 434 38.2 436 38.7 438.8 40 439.9 41 440.7 42 440 43 439 43.5 438 43.4 436 42.9 431.2 41 430.7 40 431.9 39 M279 40 279 39.6 284 40.4 285.2 41 287 42.7 287.7 43 285.9 44 283.2 45 282.4 46 282.3 47 282.7 48 284.4 49 284.5 50 284 50.5 283 50.4 279 48.7 279 40 M291.3 40 293 39.5 295 39.7 296.1 40 296 41 294 41.3 292.5 41 291.3 40 M446.9 40 447 39.8 448 39.7 448.6 40 448 40.4 446.9 40 M325.9 41 326 40.8 327 40.7 328 40.9 330.7 42 330 42.8 329 42.8 327 42.1 325.9 41 M407.9 41 409 40.7 410 40.7 410.9 41 412.2 42 412 42.6 409.5 42 407.9 41 M448.8 41 449 40.6 450.1 41 450 41.2 448.8 41 M450.5 42 451 41.8 451.6 42 451 42.3 450.5 42 M461.1 42 462 41.4 464 42 465.6 43 465 43.3 461 43 461.1 42 M421.1 43 422 42.6 426 42.8 428 43.5 428.8 44 430.2 45 431.1 46 429 46.3 426 45.7 422.1 44 421.1 43 M451.8 43 452 42.5 453.5 43 454.1 44 453.6 44 451.8 43 M489.8 43 492 42.7 492 44.4 488.3 44 489.8 43 M291 44 292 43.6 293 43.7 293.6 44 293 44.3 292 44.3 291 44 M474.8 47 477 46.8 478 47 478.6 48 478.7 49 478.2 50 476 50.4 475.6 51 475.9 52 477.2 53 479.2 54 480.6 55 482 55.5 484.5 57 485.2 58 486 60 485 60.9 480 59.6 474 57 474.4 56 475.8 55 474.5 54 470 52.7 465 51.7 463.6 52 464.7 53 466 53.6 467.4 55 467 55.4 466 55.7 462 55.5 459 55.7 458 55.6 456.2 55 455.3 54 455 52 454.5 51 454.4 50 455 49.5 457 49 462 48.9 465 48.4 468 48.6 474 49.6 474.5 49 473.4 48 474 47.3 474.8 47 M328.5 48 330 47.8 331 47.9 335.3 49 335 49.3 334 49.5 330 49 329 48.2 328.5 48 M440.7 49 441 48.9 442 49 441.3 50 441 50 440.8 50 440.7 49 M411.7 50 412 49.6 413.5 50 413 50.2 411.7 50 M431.9 51 434 50.9 438 51.1 438.7 52 436 53.2 435 53.4 434 53.4 433 52.9 431.7 52 431.9 51 M279 52 279 51.9 281 51.9 283 51.6 284 51.8 286.2 53 286.7 54 285.7 55 287 56.2 293 57.7 296.2 58 297 58.5 298 58.4 300 58.6 303 59.4 304 59.9 305 60.6 305.8 62 305.3 63 305 63.2 303 63.7 299 63.1 295 63.1 294.8 63 296.1 62 296.4 61 297 60 296 59 294 59.6 293 59.7 291 59.4 289.6 59 289 58.6 288 58.2 286.7 58 285 57.3 283 57 282 56.6 279 55.2 279 52 M319.9 54 324.1 55 325.4 56 325 56.5 324 56.9 321 56.9 318 57.2 317 57.5 316 58.2 314 58.8 313 58.7 310 57.4 307 57.2 304 56.6 302.4 56 301.3 55 302 54.6 303 54.3 305 54.2 308.2 55 309 55.5 311 55.9 315 55.2 318 55.4 319 55.1 319.9 54 M488.5 54 490 53.7 492 53.8 492 56.8 491 56.6 489.8 56 488.7 55 488.5 54 M437.9 59 439 58.9 441.6 60 445.4 61 447.1 62 447.3 63 446 63.3 443.5 63 441.4 62 439.9 61 437.9 59 M280.8 61 281.1 61 281 61.2 280.8 61 M314.9 61 315 60.8 316.4 61 314.9 61 M341.9 61 342.1 61 342 61.2 341.9 61 M353.3 61 355 60.2 357 60.1 359 60.6 360.9 62 359 63 358 63.4 357 63.4 355.2 63 352.9 62 353.3 61 M419.7 62 421 61.7 423 61.6 427 61.9 430 61.9 432.1 63 432 63.4 429 63.3 428.5 64 430.9 65 431.2 66 429 66.6 426 66.9 423 66.4 420.1 65 419.4 64 419.3 63 419.7 62 M483 62 485 61.1 486 61.2 486.8 62 492 64.3 492 67.2 490 67.2 488 66.6 487 66.1 484 63.5 483.2 63 483 62 M341.9 63 342 62.8 342.2 63 342 63.2 341.9 63 M342.5 64 343 63.5 343.4 64 343 64.2 342.5 64 M404.6 65 405 64.4 406 64.4 409 66.5 410.7 67 410 68.2 409 68.5 406.4 68 405 67 404.1 66 404.6 65 M457.8 65 459 64.9 462.3 66 464 67 464.9 68 464.7 69 465 69.4 468 70.1 469.4 71 469.3 72 469 72.2 468 72.5 465 72.8 464 73.1 463 75.3 462 76 459.2 77 459.1 78 459.4 79 460 79.1 461 79.1 464 77.6 465.8 77 469 76.7 470.7 77 472 77.7 472.3 78 472 79 463 80.5 462 81.2 461.3 82 460.1 84 459.3 86 457.9 88 457 88.7 450.5 91 448 91.5 446 92.3 445.1 93 444.6 94 443.8 95 441 96.4 440 96.7 435 97 434 97 433 96.6 432.4 96 434 95 441 92.7 444 92.3 445 91.9 447 90.4 448.1 89 447 88.3 445 88.2 443.9 88 446 87.7 447 87.4 447.2 87 450.6 85 451.1 84 450.7 82 450 81.7 449 81.9 447 82.6 443.7 84 442 84.5 441 85.1 439 85.3 438.3 85 439.5 84 441.4 83 439.2 82 438.8 81 439.4 80 443.7 79 449 78.4 451 77.8 454 77.5 456 76.9 459 76.5 459.2 76 458.9 75 458 74.6 457 74.5 454 74.5 453.1 74 453.5 73 456 71 456.8 70 455.9 69 453.8 68 453.8 67 457.3 66 457.8 65 M462 69.8 461.6 70 462 70.4 463 70.6 464.7 70 464 69.5 462 69.8 M300.9 66 303 65.5 308 65.9 312 65.4 313 65.4 315 65.9 316.9 67 317.5 68 315.7 69 314 69.4 311 69.2 309 68.4 307 68 305 68.7 302 69.2 300 68.5 299 67.8 298.5 67 300.9 66 M333.5 66 335 65.8 336 66 337.3 67 337 67.3 336 67.7 334 68 333 68.4 332 69.6 331.4 70 329 70.3 328.4 71 328 71.2 327 71.4 325.3 71 325.6 70 326 69.4 327.8 68 330 67.1 331 67.1 332 66.9 333.5 66 M279 67 279 66.6 280 66.7 281.3 67 282 67.4 284 67.7 286 67.4 287 67 290 67 289.8 68 288 69 287.1 70 286 70.4 283.9 70 283 69.4 280 68.4 279 67.7 279 67 M481.9 69 484 68.6 485 68.7 487 69.1 490.2 70 489.6 71 487 71.7 485.2 73 484 73.5 482 73.8 481 73.5 480.5 73 482.5 72 483.4 71 481.9 69 M398.6 70 400 69.9 401.1 70 401.2 71 399.7 73 398 73.5 396 73.8 395 73.4 393.8 72 393.9 71 395 70.5 398.6 70 M417.7 70 418 69.2 419 69.2 420 69.4 421.6 70 421.5 71 421 71.2 420 71.1 419 70.8 417.7 70 M438.5 70 440 69.9 441 70.1 443.8 73 443 73.6 439 74.4 438.2 75 437 75.6 433 76.6 430 77 429 76.8 428 76.4 427.7 76 428 75 430 73.8 433 72.5 436 70.7 438.5 70 M404.8 74 406 73.7 408 73.9 408.4 74 408.7 75 407 75.2 406 75.1 404.8 74 M389.5 75 392 74.6 394 74.7 395.1 76 394.4 77 391.1 78 390 78.6 389.5 79 390 80 389.4 81 388 81.6 383 81.5 382 81.4 381.3 81 382 80 384 78.4 385 77.9 387.2 76 389.5 75 M490.6 77 492 76.3 492 78.3 491 78.3 490 78 490.6 77 M434 79 436 78.9 436.5 79 436 79.3 434 79 M279 80 279.2 80 279 81 279 80 M355.4 80 356 79.5 357 79.2 358.1 80 356.2 81 354.8 81 355.4 80 M431.8 80 432 79.8 432.5 80 431.8 80 M321.3 81 325 80.3 326.2 81 325.7 82 323.8 83 322 83.6 320.2 85 318.2 86 317 86.2 312.8 86 313.9 85 320.2 83 320.9 82 321.3 81 M399.1 81 401.1 81 402 81.3 403.1 82 402.6 84 399.8 87 400 87.3 401 87.8 402 87.9 405 87.7 406 87.5 408 86.7 410 86.4 412 85.8 413.1 86 411.8 87 410 87.6 409.6 88 408 88.4 406 88.5 405.2 89 403 89.6 400.2 91 399 91.4 396.8 92 391 93.1 388 94 387 94.1 385 93.7 384 93.8 381.2 95 379.9 96 382 96.3 383 96.6 383.2 97 380.8 99 380.9 100 380.6 101 379.6 103 380 103.5 381 103.6 384 102.9 386 102.8 387 103.2 389 104.5 390 104.8 392 104.7 393.3 105 394 106 395 106.9 397.2 108 392.8 110 391.7 111 392 111.3 393 111.5 394 111.6 396 111.3 400 109.5 401 109.3 402 109.4 403 109.6 405 110.8 406 111.2 408 111.3 411 111 414.3 110 419.6 107 421 106.7 422.5 106 424 106 424.2 106 424.6 107 425 109 424.5 110 422.4 111 423 111.8 425.4 112 425.2 113 425 113.2 423 114.3 422 114.6 413 115.5 409 116.4 407 116.1 406 115.6 404 114.2 403 113.9 402 113.9 398 115.4 396 116 391 116.4 386.5 117 386 117.4 385 119 384 119.6 383 120 381 119.9 379 119 377.7 118 378.5 117 380 116.8 383 117.3 384.9 117 384 116.5 383.5 116 383.9 115 383.4 114 381.1 113 380.1 112 381 111 385 109.2 386.2 108 386 107.7 385 107.2 382 106.9 380 106.3 377 106.2 375.6 106 375.5 105 375 104.7 374 104.3 372 104 371 104.4 369 105.7 368.5 106 368 107 365 107.8 360 108.5 358 109.3 356.7 110 355.4 111 355.1 112 357 112.7 359 112.7 361 112.5 364 111.7 369 109.7 370 109.6 371 109.7 372 110 372.9 111 371.5 112 367.8 114 364 115.5 358 116.3 355.5 117 353.1 118 350 120 349 120.2 346 119.6 345 119.6 343 119.8 341 120.3 339.9 121 339.2 122 339.4 123 338.5 124 338 124.3 336 125.2 334 125.7 332 126 330 125.7 329.7 125 331 124.4 332.8 123 332.1 122 330.1 121 328.9 120 329.9 119 332 118 333 117.8 334 117.8 336 118.7 337 118.8 339 118.6 344.2 116 345.8 115 345 114.8 339 114.9 337 114.7 335.3 114 336 113 342.2 111 343 110.4 344 110.3 347 110.6 349 110.2 351 109.5 354.7 108 357.4 106 357.6 105 356 104.9 352 106.2 348 107.2 345.9 108 344 109.3 343 109.4 342 108.8 341.5 108 341.7 107 342.2 106 343 105.4 344 105.1 347 104.5 348.6 104 351 101.8 354 100.5 360 100.5 363 100 363.5 99 363.3 98 363 97.5 362 97.2 358 97.7 356 98.4 355 98.5 354.3 98 356 97.3 357.8 96 358.8 94 360 92.7 362 92.3 364 92.5 365.2 93 365.3 95 366 95.2 370 95.3 370.8 96 370.2 97 370.4 98 371 98.1 373 97 372.3 96 371 95 371.9 94 371.8 93 373 91.8 375 90.9 378 90.2 379 90.5 380 92 385 92.4 389.9 91 393 90.4 396.2 89 396.6 88 395 86.8 394.5 86 395.1 84 397 81.8 398 81.3 399.1 81 M366 100.6 363 103 362.5 104 364 104.3 365 104.1 367.7 103 369.2 102 368.8 101 368 100.6 367 100.4 366 100.6 M488.5 81 490 81 492 81.5 492 83 488 85.5 486 86.1 485 85 483.6 84 483 82.6 482.3 82 486 81.3 488.5 81 M301.6 82 303 81.8 304 82 305 83 304 83.2 301.1 83 301.6 82 M361 82 362 82 361.6 83 362.8 84 362 84.9 360.3 86 361 87 362 87.9 362.9 88 361 88.2 359 89 357 89.2 356 89 356 88 356.8 87 359.5 84 359.5 83 361 82 M419 82 419.2 83 418 84.9 416 85.4 414 85.6 413.4 85 414.4 84 416 83.1 419 82 M475.8 82 477 81.7 478 81.6 479.4 82 477.7 83 476 83.4 474.8 84 474 84.2 472.7 84 473.4 83 475.8 82 M299.8 83 300 82.9 300.9 83 299.8 83 M382.4 84 385 83.5 387 83.5 388.2 84 388.2 85 386.1 86 382 88.3 381 88.6 380 88.6 378 87.8 377 87.6 374 89.1 373 89.4 371.9 89 373 87.6 374 87 377 85.8 378.5 85 382.4 84 M418.8 86 419 85.6 420 85.1 421 85 422 85.4 423 86 423.4 87 421.9 89 420.6 90 417 91.1 414 91.1 413 90.9 412.5 90 415 89.4 417.6 88 418.5 87 418.8 86 M365 87 368 86.3 369 86.6 369.1 87 367 87.8 366 88 365.8 88 365 87 M341 88 342.1 88 341 88 M462.4 88 465 87.5 466 87.5 467.5 88 466.1 89 462 90.2 461.4 90 461.1 89 462.4 88 M290.9 89 291.1 89 291.6 90 290.2 91 288 91.6 286 92.4 285.1 93 282 93.4 281 93.3 280.4 93 281.9 92 287 90.4 288 89.8 290.9 89 M343 90 345 89.3 346 89.4 346.8 90 346 90.7 344 90.9 343 90 M334.9 92 338 91.8 340 91.8 343 92.8 343.2 93 343.1 94 340.8 96 337.3 98 337 98.4 335 98.8 333 99.7 326 100.6 325.2 101 324.9 102 326 103.8 326.5 104 323 104.9 318 104.7 315 105.2 313.7 105 314.1 104 315 103 314.9 102 316 101 317 100.6 319.4 99 321 97 322 96.5 324 96.2 325 96.2 328 96.8 331.4 96 333.7 95 335.1 94 335 93.6 334.3 93 334.9 92 M354.9 92 355.9 93 355 93.3 354 93.2 353.7 93 354 92.5 354.9 92 M457.5 92 458.6 92 458 92.1 457.5 92 M462.6 92 464 91.8 466 92 467 92.4 469 93.9 470 93.6 473 92.3 475 91.9 476.8 92 477.6 93 476 94.6 474.1 96 473.5 97 474.3 100 474 101 472.9 102 470.1 103 469 103.7 467.9 104 470 104.5 472 104.2 479 101.7 481.6 101 485 99.3 487 99.1 490 99.6 491.3 100 492 100.6 492 106.5 487 107.9 484 108.3 480.5 109 481.3 110 479 110.5 476 112.3 474.1 114 474 115 477.3 116 476.9 117 475 117.8 473 118 471 117.7 469 117.7 465 118.1 459 119.7 453 120 450 121.2 444.6 123 442 125 439 126 436 126.5 434.3 127 427.2 127 428.1 126 428.4 125 429 124 433 122.8 437.4 121 438.4 120 438.3 119 438.8 118 439.8 117 445 114.7 446.2 114 447.1 113 447 111.7 446 111.4 440 112.7 439.3 112 442 110.5 444 109.8 446 109.9 447 110.4 448 110.3 450 109.7 451 109.7 452.9 112 453.5 113 455 113.2 456.2 113 455.8 112 456.2 111 457 110.6 459 109 460.9 108 464 106.8 465 106.9 464.6 108 465 108.3 466 108.7 469 108.5 470.3 108 470.7 107 470 106.1 469 105.7 468.1 106 465.8 106 466 105 465.6 104 463.7 103 465 102.5 467.2 101 467.4 99 467 98.3 464 97.7 462 96.9 460.8 96 461.1 95 461.5 93 462 92.2 462.6 92 M475 109 474.7 109 473.9 110 476 110.2 477.5 110 475 109 M481 103.7 480 104.1 478.8 105 478.6 106 480 106.4 482 106.3 485.7 105 483 103.7 482 103.6 481 103.7 M463 113.9 462 114.6 460.8 115 461 115.2 462 115.3 465 115.2 466 115 466.3 114 465 113.5 463 113.9 M484.6 92 492 91 492 94.1 489 94.5 486 94.1 484 94.2 483.1 94 482.9 93 484.6 92 M452.2 93 454 92.6 455 92.5 456 92.6 456.5 93 455 94.2 453 95.1 452 95.2 450 95 449.4 94 452.2 93 M316.9 94 319 93.7 320 93.7 320.9 94 320 95.2 317.5 96 314 96.5 312.9 96 314.2 95 316.9 94 M400.4 94 401.8 94 402.5 95 403 95.2 403.7 96 402.7 97 402 97.3 396 98.9 393 98.7 388 99.4 387.2 99 388.2 98 392.3 96 396 95 399 94.5 400.4 94 M284.8 96 287 95.8 288.1 96 287.7 97 287.7 98 288.9 99 289.3 100 288 100.8 286.5 102 287 102.4 288 102.8 289 102.9 294.1 103 293 103.6 292.9 104 284 107 281 109 279 109.7 279 107.7 281 107 282.3 106 281 105.3 279 104.9 279 98.5 283 96.6 284.8 96 M304.9 100 306 99.7 306.5 100 306 100.2 304.9 100 M342.3 100 345 99.8 347 100 346 101 343 101.9 341 101.9 337.7 101 338 100.5 339 100.3 341 100.3 342.3 100 M402.1 101 405 100.7 406 100.8 406.7 101 407 101.4 410 101.6 410.3 102 407 102.3 406 101.7 402.4 102 402.1 101 M455.1 101 456.5 101 456 101.1 455.1 101 M454.1 104 455 103.4 456 103.2 457 103.3 457.5 104 456 104.9 455 105.2 454 105 454.1 104 M318.6 108 320 107.5 321 107.4 322 107.4 325 108 326 108.6 326.2 109 325.4 110 325.4 111 326 111.9 327.8 112 330 111.3 332 111.3 333.1 112 332.9 113 331.5 114 330 114.6 324 116.4 323.1 117 322.2 118 320.7 119 314 121.1 313 121.3 312.1 121 312.2 120 318.7 115 319 114.4 319.4 114 317.6 113 318.1 112 319 111 318 110 317.5 109 318.6 108 M435.7 108 437 107.9 438 108 436 108.2 435.7 108 M301.9 109 303 108.7 306 108.5 307 108.6 308.2 109 308.1 110 305 112.4 303 113.1 299.6 114 297.7 115 298 115.8 301.4 116 303 116.3 304.3 117 304.5 118 305 118.5 307.1 119 307 120 305.2 122 301 124.4 296 126.2 294.8 127 291.4 127 290 126.8 285.5 127 285 126.8 283.6 125 284 122.9 284.6 122 286 121.9 287.4 122 292 123.7 292.5 124 293 124.5 294 125 295 124.8 296.4 124 298 123.3 301.8 121 302 120.5 302.6 120 302 119.8 298 119.8 295 118.6 293 117.6 291 117.4 286 117.6 279 119.7 279 112 281 111.9 283 112.3 284 112.3 288 111.6 291 110.4 292 110.5 292.9 111 293 111.3 294 111.9 296 111.8 299 111 301.9 109 M293 126 293 126 M290 113 291.4 113 291 112.7 290 113 M483.9 111 488 110.7 490.1 111 490.1 112 489.1 113 488.8 115 488.4 116 489 116.4 490.5 117 491.3 118 489.9 119 487.2 120 484 120.4 483 120.8 478 123.3 476 123.6 475 123.5 474.1 123 474.8 122 477 120.2 482.4 118 481.4 117 481.4 116 483 115.3 484 114.6 485.7 114 484.6 113 482.9 112 483.9 111 M438 113 439 113 438 113 M435.4 114 436 113.7 437 113.7 437.2 114 434.1 116 430 117.5 427 119.6 422.6 122 420 123 415 123.7 411 125.3 409.5 127 400.4 127 401 126.3 401.5 126 404 125.5 408.5 125 408.9 124 406.8 123 406.8 122 408.3 121 410 120.6 412 120.6 415 121.6 417 121.4 418.2 121 419.3 120 419.9 118 422 115.7 423 115.3 425 115.3 429 116 430 116 433 115.3 435 114.5 435.4 114 M369.5 117 371 116.5 372 116.5 373.3 117 372 117.7 371 118 369.8 118 369.5 117 M361.1 120 362 119.6 363 119.6 363.1 120 363 121 363.4 122 363.1 123 363.5 124 363 124.5 361 124.9 355 125.1 353.8 125 353 124.1 354 123.4 359.6 121 361.1 120 M394.4 121 396 120.8 396.5 121 395 121.3 394.4 121 M279 122 279 121.7 279.8 122 279 122.8 279 122 M456.6 122 459 121.7 462 121.6 464 121.7 465.3 122 464 122.5 463.6 123 460 124.5 457 124.9 456 124.8 455 124.4 454.7 124 454.9 123 456 122.2 456.6 122 M319.2 124 321 123.2 322 123.4 322.2 124 321 124.3 320 124.3 319.2 124 M380.1 125 382 124.8 383.9 125 383.8 126 382.9 127 365.3 127 367 126.3 370 125.6 375 126 377 125.7 380.1 125 M305.6 126 308 125.7 308.5 126 307.9 127 302.7 127 305.6 126 M449.3 127 450.7 127 449.3 127 M476.1 127 479 126.6 481 127 476.1 127"/>
<path fill="#cfe4ef" d="M444.8 19 446.3 19 446 19.4 444.8 19 M322.7 26 325 25.7 326 25.7 326.9 26 328.1 27 328 27.2 327 27.6 325.2 27 324 26.3 322.7 26 M416.6 26 418 25.5 419 25.5 419.6 26 419.8 28 419 28.9 417 30 416 30.3 409.7 29 409.7 28 415 26.7 416.6 26 M344.9 27 346 26.6 347 26.7 347.6 27 348 28 347 28.2 346.2 28 344.9 27 M383.2 29 384 28.2 385 28 387 28.6 389 29.8 389.8 30 386 31.5 384 31.4 383.1 31 382.9 30 383.2 29 M348.1 31 350 30.7 352 31.1 353.5 32 353.9 33 353 33.7 352 33.9 349 33.7 347.3 33 346.1 32 348.1 31 M417.2 31 418 30.8 419 31 420.6 32 419 32.9 418 32.7 417.2 32 417.2 31 M423.7 32 426 31.7 428 31.7 429.6 32 431.5 33 431 33.4 430 33.7 428 33.6 425.9 33 425 32.3 423.7 32 M447.7 33 449 32.8 450 32.9 452 33.8 453 34.6 454 35 455 35.3 457 35.5 458.7 36 460 37 459.4 38 459.9 39 459 39.8 455.3 39 455.2 38 454.6 37 454 36.5 452 35.7 448.5 35 447 34.4 446.4 34 447.7 33 M470.7 33 472 32.8 473 33 472 33.5 470.7 33 M370 35 371 34.9 372 35 370 35 M393.9 35 395 34.8 397 35 397.8 36 397 36.3 395 35.2 393.9 35 M374.7 36 375 35.8 376 35.8 378 36.3 381 39 381.5 40 381.3 41 381 41.2 380 41.2 378 40.8 377 40.3 375.8 39 374.7 36 M408.5 36 409 35.2 412 35 414 35.2 415.7 36 415.5 37 414 37.3 412 37.2 408.5 36 M433.5 39 435 39 437.8 40 439 41 439.3 42 439 42.3 438 42.7 437 42.6 435 42.1 432.3 41 431.7 40 433 39.1 433.5 39 M312.5 40 314.7 40 314 40.5 312.5 40 M363.5 40 365 39.7 366 39.7 366.5 40 366.9 41 365.3 43 366.7 44 368 44.6 373 46 370.9 48 371.3 50 371 50.7 370 51.1 367 50.5 365.7 50 364.2 49 364.3 48 364 47.9 363 47.8 362.4 48 361.8 49 361 49.4 357.7 50 360 50.8 360.2 51 363 52.2 373 53.7 375 54.3 377 55.3 380 56.3 385 57 387 57.5 387.9 58 386.5 59 385 59.3 383 59.4 381 59.1 373 56.9 368 56.7 365 56.3 364 56 363.4 55 362 54.5 360 53.4 355 51.4 353 50.9 351 51 348.4 53 348.5 54 349.8 55 349.2 56 349 56.1 347 56.3 344 56.1 342 55.3 339 54.9 335.6 54 335.3 53 337 52.4 340 51.9 341 51.3 341.3 51 342 49 344 48.3 346 48.3 350.5 49 352 49.5 356 49.3 356.5 49 356 48.6 355.7 48 355.3 47 355.3 46 354.6 45 354.5 44 355.1 43 354 42.6 353.4 42 354 41.5 355 41.3 357 41.5 361 41.2 363.5 40 M359 43.8 358 44 359.6 44 359 43.8 M279 41 279 40.3 280 40.6 283 40.8 283.6 41 284.3 42 284.6 43 283.9 44 281.6 45 281 46 280.2 48 280 48.1 279 48.1 279 41 M314.7 41 315 40.6 316.1 41 314.7 41 M308.9 43 310 42.5 311 42.6 311.6 43 311 43.5 310 43.5 308.9 43 M386.9 44 388 43.7 392 43.4 393 43.5 394 44.1 394.9 45 393 45.8 390 45.7 388 45.1 386.9 44 M423.7 44 424 43.6 425 43.4 426 43.4 427.9 44 429.3 45 429 45.4 428 45.6 427 45.5 425.3 45 423.7 44 M405.3 45 408 44.9 411 45.2 414 45 415 45.2 416.8 46 417.8 47 417 47.3 412 47.4 409 48.1 407 48.2 406.3 48 404.2 47 403.4 46 404 45.5 405.3 45 M377 47 378 46.6 379 46.7 380.3 47 381 47.5 383.9 48 387 49.1 391.2 51 396 51.1 398 51.6 400 52.4 402.8 53 403 53.3 404 53.7 407.6 54 408 54.4 409 54.6 411 54.5 414.6 55 417.9 56 413 56.5 412 56.4 409 55.4 406.4 55 405 54.4 401 54.1 400 54.5 399.4 55 398.9 56 399.5 57 399.5 58 396 58.4 395 58.2 394.6 58 395 57.6 395.3 57 394.7 56 392.9 55 385.1 52 383.6 51 382.8 50 381 48.5 377 47 M455.7 50 458 49.6 460 49.6 463 49.9 466 49.2 467 49.1 469 49.4 471.7 50 473.7 51 474.3 52 475.2 53 474 53.3 473 53 472 52.7 468.7 52 464 50.4 463 50.3 462 51.5 461.8 52 462.3 54 459 54.3 458 54.1 457 53.2 455.6 51 455.7 50 M279 53 279 52.6 282.1 53 282.3 54 283.1 55 283 55.2 282 55.5 279 54.4 279 53 M420 54 421.5 54 423.1 55 422 55.4 420 55.4 419.3 55 420 54 M304.3 55 306 55 305 55.4 304.3 55 M490 55 491 54.5 492 54.5 492 56 490 55 M477 56 478 55.5 479 55.5 481 55.8 483.6 57 484.4 58 484.5 59 484 59.4 482 59.5 479 58.5 477.8 58 476.3 57 477 56 M413.8 59 414.6 59 413.8 59 M367.7 60 369 59.8 373.1 61 373 61.2 372 62 370 61.9 369 61.6 367.7 60 M299 61 300 60.3 301 60.1 302 60.2 303 60.5 303.9 61 304.8 62 304 62.7 303 62.9 302 62.8 300 62.4 299.1 62 299 61 M355.1 61 356 60.8 358 60.9 358.3 61 359.1 62 358 62.5 357 62.7 356 62.6 354.4 62 355.1 61 M400.6 61 401.1 61 400.6 61 M420.9 63 422 62.7 423 62.7 426 63.4 428.9 65 429.3 66 426 66.3 423 65.7 421.6 65 420.6 64 420.9 63 M485.7 63 487 63 492 64.7 492 66.7 490 66.7 487.9 66 485.8 64 485.7 63 M367.1 66 368 65.5 369 65.2 373 66.1 375 66.3 382 65.3 384 65.3 385.8 66 385.3 68 387.8 69 389 70 388 70.3 387 71 386 72.1 385 72.8 384 73.1 382.3 73 382 72.9 381.3 72 382 71 381.5 70 379 69.9 375 70.6 373 70.3 372 70 370 68.9 367.5 67 367.1 66 M310.4 67 312 66.4 313 66.3 314 66.5 314.9 67 314.4 68 313 68.3 311.5 68 310.4 67 M459.3 67 460 66.7 461 66.7 462.1 67 463.4 68 463 68.3 462 68.4 458 68.7 456.5 68 459 67.2 459.3 67 M486.9 70 487.1 70 486.9 70 M437.3 71 439 70.7 440 70.9 440.5 72 440 72.3 438 72.6 437 72.6 436 72.1 437.3 71 M458 71 459 70.7 460 71.2 460.9 72 460.2 73 459 73.6 456 73.8 455 73.2 455 72.9 458 71 M465.9 71 467 70.8 467.9 71 467 71.7 466 71.2 465.9 71 M395.5 72 397 71.3 398 71.2 398.5 72 398 72.4 397 72.7 396 72.4 395.5 72 M431.2 74 435 73.2 436 73.4 436.5 74 436.4 75 432 76.2 431 76.2 429.4 76 429.4 75 431.2 74 M389.2 76 391 75.6 392 75.6 393.1 76 391.8 77 391 77.2 389 77.4 388.2 77 389.2 76 M466.3 78 469 77.7 469.9 78 469 78.7 465 79.2 464.3 79 466 78.4 466.3 78 M385.9 79 386.1 79 387.1 80 386 80.3 385 80.3 383.9 80 385.9 79 M443.7 80 445 79.9 448 80 447.8 81 446 81.5 445 81.7 444 81.6 442.2 81 443.7 80 M454.2 80 455 79.7 456 79.8 459 80.7 459.9 81 460.1 82 458.4 86 457 87.6 456 88.3 454.4 89 452 89.2 451 88.8 449.4 87 452.2 85 453.2 84 452.8 83 453 82 454.2 80 M399 82 400.5 82 401 82.3 401.4 83 401.3 84 400.6 85 399 86.2 398 86.6 397 86.6 396 86.3 395.6 86 396.4 84 397.3 83 398 82.4 399 82 M486.3 82 488 81.8 490 81.8 490.7 82 490.8 83 489 84.1 488 84.4 487 84.5 486 84.3 485.4 84 484.7 83 486.3 82 M315.7 85 317 84.6 318 84.6 318.7 85 317 85.6 315.7 85 M380.9 85 383 84.5 384 84.5 385 84.5 386.7 85 386 85.1 384.8 86 383 86.9 382 87.2 381 87.3 379.9 87 379.2 86 380.9 85 M465.7 88 466 88 465.7 88 M398.4 89 400 88.8 401.1 89 400.5 90 398 91 396 91.5 395 91.6 392 92.4 390 92.4 389.2 92 392 91.1 395 90.4 398.4 89 M374.5 92 376 91.5 377 91.5 379 92.4 382 93 381.5 94 379.3 95 378 95.8 377.1 96 377 96.3 376.4 96 375 95.9 373.7 95 373.6 94 373.8 93 374.5 92 M489.9 92 492 91.9 492 93.2 491 93.6 490 93.7 486.5 93 489.9 92 M463 93 464 92.7 465 92.7 466.1 93 466.3 94 465.9 95 467 95.5 468 95.4 469 95 473 93 475 92.7 475.7 93 475.4 94 475 94.3 472 96.4 470.4 97 472 98 472.7 99 472.8 100 472.7 101 472 101.4 470 102 469 101.3 468.7 100 468.8 99 469.5 98 469 97.5 466.4 97 465 96.1 463 95.6 462.6 95 462.5 94 463 93 M337.3 94 338 93.7 340 93.7 340.9 94 341 95 340.1 96 339 96.6 332 99.3 328 99.7 327 99.5 326.4 99 327.5 98 333 96.1 337.3 94 M360.5 94 362 93.2 363 93 363.6 94 363 95.4 362.3 96 361 96.2 360 96.2 359.8 96 360 95 360.5 94 M438.4 94 442 93.5 442.7 94 441.7 95 439 96.1 435 96.4 434 96.3 433.5 96 435.3 95 438.4 94 M316.3 95 318 94.6 318.7 95 318 95.2 317 95.2 316.3 95 M366.8 96 368.2 96 368.5 97 367 98.3 366 98.5 365 98.3 364.8 98 364.8 97 366.8 96 M393.5 96 397 95.6 399 96.1 401 96.1 401.4 97 398 97.2 393 98.3 390 98.4 389.3 98 390 97.7 391 96.9 393.5 96 M283.6 97 285 96.7 286 97 286.3 98 287.3 100 284.8 102 285.3 103 287 103.5 290.4 104 289 104.4 288.2 105 286 105.7 285 105.8 284 105.7 282 104.7 279 104.4 279 99 281 98 283.6 97 M322.6 97 324.4 97 325.2 98 323.8 99 321.2 100 319.4 101 323 102 323.8 103 323 104 316.6 104 316.5 103 317 102.1 318.4 101 318.9 100 320 99.6 321.3 98 322.6 97 M375.9 98 376 97.6 377 97.3 378 97.5 379.3 98 378 98.9 375.9 98 M376.3 100 378 99.1 379 100 379 101 378.6 102 378 103 377 103.4 376 103.3 375.4 103 376.6 101 376.3 100 M342.2 101 343 100.7 344 100.7 344.5 101 343 101.2 342.2 101 M355.3 101 361 101.1 362 101.3 362.6 102 361 103.4 360 103.7 355 104.5 350.9 106 347 106.6 344 107.7 343 107.3 342.9 107 343.8 106 347 105.4 349 104.7 350.4 104 351.9 102 355.3 101 M485.2 101 486 100.6 488 100.2 490 100.5 492 101.8 492 103.3 489 103.7 486 103.9 483.7 103 483 102.2 482 102 481 103 479 103.6 476.6 106 475 106.8 473 107.1 472 106.4 471.8 106 472 105 474 104.4 476.9 103 479 102.5 480 101.9 483 101.9 485.2 101 M367.1 104 369 103.5 369.8 104 366.6 106 365.6 107 363 107.4 358 108.6 356 109.7 352.6 112 355 113 359 113.2 363 112.6 367 111 369 110.5 370 110.5 370.9 111 370.2 112 366.9 114 364.3 115 363 115.3 360 115.5 357 116.1 354.2 117 350 118.6 348 118.8 345 118.9 343 118.8 342 118 343 117.6 344 116.9 346.1 116 347.7 115 347 114.2 341 114.4 336.9 114 337.8 113 340.6 112 343 111.6 347 111.5 350 110.5 350.9 110 355 108.5 359 105.8 360 105.4 364 105.2 366 104.7 367.1 104 M383.3 104 385 103.8 386 103.9 387 104.5 388 105.4 392 105.5 392.8 106 393.5 107 395.2 108 391.6 110 390.2 111 389.7 112 390 112.1 392 112.2 395 112.1 401 110.4 402 110.5 403 111 404 111.9 410 111.7 413 111.1 418 108.8 421 107.8 422 107.7 422.9 108 423.4 109 422.4 110 420.4 111 418.9 112 418.7 113 418 113.6 417.3 114 416 114.3 412 114.7 409 115.3 408 115.3 406.8 115 405 113.5 404 113.1 402 113 401 113.3 398 114.9 396 115.5 391 115.8 388 116.2 387 116.2 386 115.9 385.1 115 385.4 114 382.8 113 381.9 112 383.1 111 386 109.6 386.6 109 387.2 108 387 106.8 386 106.5 384 106.5 382 106.2 380.3 105 383.3 104 M491.9 105 492 105.1 491.9 105 M488.2 106 489.3 106 489 106.2 488.2 106 M484.5 107 485 106.7 486.8 107 484.5 107 M279 109 279 108.7 279.4 109 279 109.1 279 109 M460.9 109 462 108.8 464 109.3 467 109.8 467.6 110 468 110.4 471 110.3 472 110.5 473.7 111 474.8 112 474.1 113 472.4 114 472 114.5 471 114.9 470 114.9 469 114.5 468.7 114 467.3 113 466.6 112 466 111.7 465 111.8 463 112.6 460 114.2 459 115 459.1 116 461 116.3 467 116 470 115.2 470.8 116 469 116.7 464 117.5 462 118.3 459 119.1 457 119.3 452 119 451 119.4 450.7 120 449 121 447 121.6 444.2 122 441 123 440 124 439 124.6 435.8 126 433 127 428.4 127 429.7 125 431.2 124 439 121.3 441.5 120 442.1 119 441 118.6 440.3 118 441.5 117 443 116.4 448 113.7 449 113.4 450 113.4 451 113.9 451.5 115 450 115.7 445.8 117 444.2 118 445 118.1 447 117.9 451 118.8 452 118.8 452.4 118 453.3 117 453.3 116 454 115.3 458 113.6 458.9 113 459.9 112 459.1 111 459.5 110 460.9 109 M301.6 110 303 109.3 306 109 307 109.3 307.3 110 306 111.1 304 112.3 298 113.9 293 116.3 286 117.1 282 118.1 280 118.2 279 118 279 115.2 281 114.6 284 113.3 285 113 286.2 113 286.6 114 287 114.2 288 114.5 290 114.4 292 113.9 295 112.8 297 112.4 299 111.6 300 111.2 301.6 110 M443.3 111 444.2 111 443.3 111 M485.1 112 486 111.7 488 112 487 112.3 486 112.3 485.1 112 M326.3 113 330 112.2 331 112.4 331.3 113 330.1 114 329 114.4 327 115 323 115.7 322 116.5 320.8 118 320 118.5 317 119.7 315 120 314.9 119 317 117 319 115.8 320.9 115 323 113.8 326.3 113 M485.7 115 486.3 115 486.5 116 486 116.3 485 116.5 484 116.4 483.5 116 485.7 115 M297.7 117 299 116.7 301 116.7 302.1 117 302.4 118 301.2 119 300 119.2 298.1 119 296.1 118 297.7 117 M422 117 423 116.4 425 116 426 116.2 428.8 117 428 118 426.6 119 425 119.9 423 120.5 422 120.5 421.1 119 421.1 118 422 117 M485.6 118 488 117.5 489 117.6 490.1 118 488.5 119 487 119.4 486 119.5 484.1 119 485.6 118 M331.6 120 333 119.5 338.3 120 337 121.2 336 121.6 335 121.7 333 121.4 332 121 331.6 120 M479.5 120 482 119.7 482.4 120 479 122.3 478 122.6 477 122.7 476.3 122 477.3 121 479.5 120 M301.4 122 303 121.4 303.9 122 301 123.8 300 124.1 298.6 124 299 123.8 299.6 123 301.4 122 M358.9 122 361 121.4 362.1 122 361.8 123 361 124 360 124.3 359 124.5 356 124.4 355 124.4 354.4 124 356.3 123 358.9 122 M408.1 122 409 121.8 410.1 122 409 122.2 408.1 122 M335.9 123 337.3 123 336.8 124 334.3 125 332.9 125 332.8 124 333 123.8 335.9 123 M456.3 123 458 122.5 459 122.4 461 122.6 462.1 123 461 123.2 459.5 124 458 124.3 456.4 124 456.3 123 M285.3 124 286 123.3 287 123.1 288 123.3 290.7 124 291.4 125 290 126 289 126.3 287 126.4 286 126.2 284.8 125 285.3 124 M378.3 126 380 125.6 381 125.6 382.2 126 380.8 127 378.7 127 378.3 126 M304.6 127 306.2 127 304.6 127 M367.7 127 369 126.6 371 126.3 372 126.5 373.1 127 367.7 127 M402.6 127 404 126.5 405 126.4 407 126.7 407.4 127 402.6 127"/>
<path fill="#b3d6e8" d="M412.6 28 416 27.4 417 27.4 417.8 28 416 28.7 414 29 413 28.5 412.6 28 M348.8 32 350 31.7 351 31.7 352 32 352.2 33 351 33.2 350 33 348.8 32 M427.3 33 428 32.3 429.5 33 428 33.2 427.3 33 M411.1 36 413 35.6 414.4 36 414 36.3 413 36.6 411.1 36 M455.9 36 457.1 36 457 36.3 455.9 36 M376.8 38 377 37.8 378 37.8 380 39 379 40 377.1 39 376.8 38 M432.9 40 434 39.6 436 39.8 437 40.1 438 40.9 438 41.4 437.6 42 436 42 433.5 41 432.9 40 M359.9 42 360.1 42 359.9 42 M360.6 43 361 42.7 362 42.8 368.4 46 368.7 48 369.5 49 369.9 50 369 50.3 367.4 50 366.5 49 366.4 48 365 47.2 363 46.7 362 46.7 361.2 47 360 47.9 359 48.3 357.7 48 356.7 47 356.1 45 357 44.8 360 45 361 44.8 362 44 360.6 43 M426.5 45 427 44.4 428 45 427 45.1 426.5 45 M406.3 46 408 45.6 410 45.8 413 45.7 415 46 414 46.5 411 46.6 408 46.9 407 46.7 406.3 46 M343.9 49 345 48.9 346.1 49 347.4 50 346 51 345.6 52 345 52.5 344 52.5 343.6 52 343.7 51 343.4 50 343.9 49 M384.8 50 385 49.8 386 49.8 387 50 388.6 51 389 51.5 390 51.8 397 52 398.4 53 398.6 54 397.6 55 397 55.4 396 55.5 395 55.2 391.8 54 389 52.3 387.4 52 385.5 51 384.8 50 M468.6 50 470 50.3 471.7 51 471 51.6 470 51.6 468.1 51 468.6 50 M457 51 458 50.5 459 50.5 460 51 460 52 459 52.4 458 52.1 457 51 M358.7 52 359 51.8 360 52 358.7 52 M361.2 53 362 52.8 363 52.8 364.3 53 365 53.4 366 53.6 369 53.7 373 54.4 379 56.5 383 57.3 385.4 58 384 58.8 382 58.9 381 58.7 378.2 58 374 56.5 370.5 56 367 55.2 365 54.5 363 54.1 362 53.3 361.2 53 M343.5 55 344 54.2 345 54.7 345.1 55 344 55.1 343.5 55 M410.6 55 411.6 55 410.6 55 M477.8 57 479 56.3 481 56.4 482.7 57 483.7 58 483 58.9 482 58.8 479.2 58 477.8 57 M421.9 64 423 63.5 425 63.7 425.9 64 427.4 65 427 65.3 426 65.6 424 65.5 422.8 65 421.9 64 M487.9 65 488 64.2 490 64.6 491.2 65 492 65.6 492 66.1 491 66.2 489.3 66 487.9 65 M369.8 67 371 66.6 375 66.8 378 66.6 381 66.2 382 66.2 383.3 67 382.8 68 382 68.3 379 68.5 376 69.4 375 69.5 374 69.5 372 68.9 370.5 68 369.8 67 M431.7 75 433.1 75 431.7 75 M456.9 82 458 83 457.6 85 457.3 86 457 86.3 456 87.2 455 87.7 454 87.9 453 87.7 451.9 87 452.3 86 455 84 456 82.7 456.9 82 M397.9 85 399 84.5 399 85 397.9 85 M382.4 86 383 85.8 383.1 86 382.4 86 M375 94 376 93.3 377 93.1 379 93.4 380.1 94 377 95.1 376 95.2 375.5 95 375 94 M337.6 95 339 94.8 339.4 95 339.2 96 334 97.7 331.6 99 330 99.2 328.7 99 329.3 98 334 96.5 337.6 95 M436.7 95 438 94.7 439.3 95 438 95.6 437 95.4 436.7 95 M391.8 97 393 96.7 394 96.7 394.8 97 393 97.6 392 97.4 391.8 97 M282.5 98 284 97.8 284.7 98 285.5 99 285.5 100 282.9 102 282.6 103 282 103.5 279 103.8 279 99.5 282.5 98 M354.9 102 356 101.8 360 101.8 360.8 102 359.4 103 356 103.3 354.1 103 354.9 102 M486 102 488 101.2 489 101.4 489.9 102 489.2 103 488 103.2 486.1 103 486 102 M383.5 105 385 104.7 386 105 385 105.8 384 105.6 383.5 105 M358.8 107 360 106.5 361 106.4 361.8 107 360 107.3 359 107.2 358.8 107 M388.7 107 390 106.2 391 106.2 393 107.7 393.8 108 393 108.3 392.1 109 389 110.7 387.9 112 387 112.6 385 112.5 383.9 112 385.1 111 387.5 110 388.2 109 388.7 107 M419.8 109 421.2 109 420.7 110 418.8 111 416.5 113 416 113.3 412 114 410 114.1 408.9 114 406.6 113 407 112.8 410 112.6 413 111.8 417 110 419.8 109 M302.9 110 304 109.7 305 109.7 306.1 110 305.2 111 303.2 112 302 112.1 300.3 112 301 111.8 301.7 111 302.9 110 M352.2 110 353 109.7 354 109.8 354.3 110 353 110.6 352.2 110 M365.9 112 367 111.8 368 111.8 368.4 112 366.1 114 362.9 115 359 115.2 357 115.6 350 117.8 348 118 345.7 118 345.8 117 347 116.6 349.8 115 351 114 352 113.7 360 113.8 363 113.2 365.9 112 M468.8 112 470 111.5 471 111.4 472 111.5 473.3 112 472.5 113 471 113.4 470 113.4 469.1 113 468.8 112 M339.7 113 341 112.6 345 112.5 346.7 113 345 113.4 343 113.3 341 113.7 339.7 113 M388.1 113 389 112.7 396 112.5 399 112 399.9 113 398.7 114 395.5 115 393 115 388 115.6 387 115.5 386.1 115 387 113.6 388.1 113 M326 114 328 113.4 328.8 114 327 114.2 326 114 M282.3 116 283 115.7 284 115.8 284.5 116 283 116.4 282.3 116 M318.9 117 319.5 117 319 117.9 318.9 117 M423.4 117 424 116.8 425.8 117 425.9 118 425 118.7 423.8 119 422.9 118 423.4 117 M455.8 117 457 116.9 459 117.2 461 116.9 462.2 117 461.1 118 458 118.5 457 118.5 455.2 118 455.8 117 M299.5 118 300 117.7 300.3 118 300 118.1 299.5 118 M317.3 118 318 117.7 319 118 318 118.2 317.3 118 M444.9 119 447 118.7 448.6 119 449.1 120 447 121 446 121.2 443 121.3 442.1 121 443 120 444 119.3 444.9 119 M357.8 123 359 122.7 360 122.7 360.3 123 359 123.9 358 124 357.8 123 M436.9 123 437.5 123 437 123.1 436.9 123 M432.6 124 435 123.7 436 123.7 436.4 124 435.6 125 434.3 126 431 126.9 430.2 126 430.9 125 432.6 124 M286.4 125 287 124.4 288 124.1 289 124.3 289.9 125 289 125.6 288 125.7 287 125.5 286.4 125"/>
<path fill="#9bc9e0" d="M435 41 436 40.7 437.1 41 436 41.2 435 41 M358.3 46 359.3 46 359 46.2 358.3 46 M394.4 54 395 53.1 396.4 54 396 54.1 394.4 54 M376.7 57 377 56.7 378 56.7 379.5 57 379 57.3 378 57.3 376.7 57 M479.8 57 481 57 482.4 58 482 58.1 480.9 58 479.8 57 M379.8 58 380 57.7 381 57.6 382 57.6 383.5 58 382 58.4 379.8 58 M424.1 65 425 64.5 425.7 65 425 65.1 424.1 65 M374.7 68 375.5 68 374.7 68 M330.9 98 331.3 98 330.9 98 M281.2 99 283 98.7 284 99 284 100 282 101.5 280 102.6 279 103 279 100.1 281.2 99 M414.9 112 415.2 112 415 112.1 414.9 112 M388 114 389 113.5 391 113.3 393 113.6 395 113.5 396 113.6 396.6 114 395 114.3 393 114.2 389.9 115 387.6 115 388 114 M351.8 115 353 114.6 355 114.4 357 114.7 357.4 115 356 115.2 354.5 116 352 116.5 350.7 117 349.2 117 350 116 351.8 115 M444.5 120 445 119.7 446 119.7 446.9 120 445 120.4 444.5 120 M432.8 125 433.3 125 433 125.3 432.8 125"/>
<path fill="#7bb6d6" d="M280.4 100 281 99.8 282 99.7 282.5 100 281 101 280 101.2 279.3 101 280 100.7 280.4 100 M389.7 114 391.3 114 390 114.1 389.7 114"/>
<path fill="#fbe5d8" d="M279 17 284.8 17 285 18 284.7 20 286 23 283.1 25 284 26.1 288 27.5 290 27.8 291 27.7 292 27.3 293.1 26 295 25.9 295.6 26 297 26.7 297.4 27 298 28 301 28.8 304 29.2 306.8 30 308 31.1 309 30.4 312 30.2 315 30.5 317 31.3 319 31.4 321.1 31 324 30.1 327 31.2 332 32.3 333 32.4 333.8 32 334.7 31 334.2 30 332 28.9 331.1 28 330.7 27 331 26.5 332 26.2 335 26.2 335.9 26 335 25.5 334.6 25 332.6 24 330 22.3 324.5 22 324.3 23 323.4 24 322 24.2 315 24.4 312 24.2 310.9 26 310 26.6 309 26.7 300 25.5 298 24.7 296 23 293.1 21 294 20.2 295 20.2 297 20.6 299 21.3 302.5 22 304 22.1 305 22 304.1 21 302 20.5 299 19.2 296.6 17 306.6 17 306.2 18 306.1 19 306.9 21 308.1 22 311 23.5 312 23.9 314 23.5 314.4 23 313.8 22 312.6 21 311.9 20 314 18.8 314.5 18 313.9 17 333 17 332.1 18 332.1 19 333 19.7 335 20.4 338 20.6 339 20.5 341 19.7 343 19.6 344.1 20 344 20.2 342.5 21 344.8 22 344.7 23 343 23.4 342 24 339.8 26 340.4 27 342.2 28 343.3 29 340.5 30 341 31 342 31.9 343.8 34 344 35 342.7 36 341 36.3 339.6 36 336.4 35 336 34.6 335 35.1 334.2 37 334 38.4 333.7 39 332 39.9 331 40 328 39.3 324.9 38 323.3 37 321 34.7 319 33.2 316 32.8 312 32.8 311.1 33 311.6 34 316.7 37 313 37.8 309 37.7 308 37.9 307.9 38 308 39 307.9 40 307 40.2 305.1 40 304 39.5 301.6 38 301.3 37 301.4 36 302 35.1 304 34 303 33 302 32.7 299 30.8 296 29.8 292 29.3 291.3 29 291 28.7 290 28.4 287 28.5 285 28.3 284.1 28 283 27.1 282 26.7 279 26.1 279 17 M342.5 17 345.9 17 346.7 18 346 18.5 345 18.3 342.5 17 M351.2 17 388.8 17 391 17.5 392 17.4 392.7 17 405.2 17 408 18.1 409.1 18 408.4 17 426 17.1 429 18 430.7 19 429 20 428 21 429.3 23 428.9 24 431 24.3 432 24.2 433 23.7 433.8 23 435.6 22 437 21.7 439 21.8 446 22.8 448.8 23 449 24.1 448.3 25 447 25.6 446.7 26 448 27 451 28.4 454 29.3 458 30 463.9 32 465 32.8 466.2 34 468.7 35 469.8 36 468.2 37 467 37.3 465 37.1 462 35.7 459 34.6 456.5 34 455.4 33 455.1 32 454 30.9 451.3 30 449 28.5 447.1 28 446 27.5 443.2 27 439 25.4 437 25.3 436 25.5 435.4 26 436 27.5 436.4 28 438 28.5 444 29.7 444.9 30 446.6 31 445.3 32 441.8 34 442.4 35 443 35.3 447.4 37 447 37.2 444 37.3 443 37.5 442.2 38 442 38.5 441.4 39 443.3 40 443 40.7 441.3 40 440.7 39 435.3 37 433.5 36 434 35 434.9 34 434.8 33 431.8 31 435.2 29 435 28.8 434 28.4 430 27.8 428 27.7 426.4 28 427.1 29 427 29.8 425 29.6 424 29.2 423.8 29 424 28.1 424.9 27 424.6 26 425 25 426 24 420 22 417 21.2 415 20.8 414 21 414 22 415.5 23 415 23.9 412 25.7 410 26 408 25.7 407 25 406.9 24 405.8 23 402.9 22 401 21 400.3 20 398.2 18 398 17.2 396 17.6 394.7 18 396.9 20 398 20.5 399.8 22 399.4 23 399 23.4 398 23.8 397 23.9 394 23.6 393 23.1 391 22 388 19.5 384 18.2 383 18.1 382 18.2 381.5 19 381.6 20 381.4 21 381 21.5 380 21.7 377 20.9 375.1 21 375.1 22 376 22.6 377.4 23 376.6 24 376 24.1 374 24.1 372 23.6 370 22.2 369 21 367.8 20 367 19.8 366 19.7 364.4 20 363.5 21 364.7 22 368.4 24 369.1 25 368.7 26 366.7 27 366.4 28 366 28.1 364 27.4 358.4 26 357.7 25 357.6 24 358.1 23 356.7 22 355 21.7 351.1 20 350.4 19 351 18.8 352.2 18 351.2 17 M451.7 17 459.1 17 463 18.4 467 18.7 468 19.1 470 19.4 471 20.1 472.2 20 472 19.6 470.9 19 469 18.5 467.9 17 470.3 17 471 17.5 472.7 18 473 18.8 474 18.9 478 18.3 483 18.5 484.7 17 486 17 488.9 18 489.9 19 488.7 20 491 20.6 491.1 20 492 19.8 492 23.7 489 23.2 484 21.6 482 21.5 481 21.7 480.5 22 480.2 23 480 24.4 479 24.9 476.4 24 474 23.6 473 24 472.5 25 470 25.3 467 25.2 464 24.3 462.1 23 462.4 22 462.4 21 461 20.4 459 20 456 20.2 455 20.1 452.5 18 451.7 17 M378.6 23 380 22.4 382 22.4 383 22.7 385 24 384.5 25 384 25.3 383 25.5 382 25.5 380.3 25 378 24 378.6 23 M452.5 27 453 26.6 457 26.5 458 26.6 459.4 27 459 27.9 458 28.1 457 28.1 455 27.4 452.5 27 M321.9 28 323.1 28 323.8 29 323 29.5 322.3 29 321.9 28 M389.3 28 390 27.5 392 27.4 395 27.5 396 27.8 396.3 28 397 30 401 31.8 402 31.9 404 31.4 405 31.4 412.6 32 412 33 409 33.9 408 33.8 404.4 33 403 32.3 402 32.1 401 32.1 399 33.1 395 32.7 394 32.4 393.5 32 394.9 31 393.8 30 389.3 28 M471.9 28 473 27.7 478 28.3 483 28.3 485 30 488.8 32 491.5 34 491.7 35 490.6 36 491.5 37 492 37.3 492 39.7 487 38.9 486.1 39 485 39.5 484.5 39 483 38.2 481 37.6 476 37.6 475 37 474.8 36 475.9 35 478 34.2 483 33.6 483.8 33 482 31.8 474 29.4 471.9 28 M282.2 30 285 29.7 287 30.3 288 31 288.8 32 287.8 34 288 34.2 289.6 35 292 35.3 294 35.9 296.2 37 296.9 38 287 39.1 284 38.8 280.3 38 280.8 37 280.5 36 280 35.4 279 34.8 279 30.1 282.2 30 M427.1 30 428 29.8 428.7 30 427.1 30 M361.5 32 362 31.5 363 31 364 31.1 365.9 32 363 33.2 361.1 35 360.9 36 360 36.4 359 36.4 356.6 35 358 32.8 361.5 32 M422.8 34 424.7 34 427.8 35 427.5 36 428.1 37 429.5 38 429 38.8 425.6 40 425.1 41 424 41.1 422.4 41 419.3 39 420 38.6 422 38 423 37.3 423.1 37 422.7 36 421.8 35 422.8 34 M383 37 384 36.4 385 36.3 388 36.4 390 36.3 392 36.5 394 37.2 397.7 40 397 41 395 41 390 40.6 389 40.8 388 41.3 387 41.4 385.9 41 383.6 39 383 38 383 37 M353.7 39 355 38.2 356 38.1 358 38.4 358.9 39 357 39.6 356 39.7 355 39.6 353.7 39 M464.6 40 465 39.2 469 39.4 473.5 40 475.7 41 475 41.3 474.2 42 473.5 43 473.2 44 473.6 45 473 45.3 471 45.7 470.6 46 470 47.2 469 47.5 468 47.5 462 47.2 459 47.4 457.1 47 459 45 460 44.5 461 44.3 468 44.6 468.9 44 468.3 43 467 41.7 464.6 40 M338 41 342 41.3 346 40.6 348 40.8 350.1 42 350.7 44 351.4 45 351.6 46 351 46.6 350 47 347 46.6 343 46.5 342 46.6 338 47.6 333.7 47 331.6 46 332.5 45 334.9 44 334.9 43 335.4 42 337 41.2 338 41 M453.8 41 454 40.8 455 40.7 456.9 41 456 41.6 453.8 41 M298.2 42 300 41.6 302.2 42 303.2 43 303.6 46 304.2 48 305.2 49 308.7 51 310.7 53 310 53.5 309 53.7 302 53.2 300 53.3 299 53.5 297 54.3 294 54.7 293.1 54 290 53 287.9 52 287 51 288 50 289 49.5 290 49.4 292 49.5 295 50.6 296 50.8 297 50.7 298 50.1 299.1 48 297.9 45 296.9 44 296.6 43 298.2 42 M428.8 42 431 42 433 42.5 436.6 44 437.7 45 437.5 46 437 46.4 435.4 47 436 47.3 436.5 48 436.3 49 435 49.4 432 49.7 428 50.5 427 50.5 426 50 424 49.8 423.1 51 422 51.2 420 50.9 417 50 415.5 49 417 48.7 422 48.8 422.5 48 420 46.2 419.2 45 420 44.7 422 44.9 425 46.5 428 47.3 430 47.3 433 46.9 433.5 46 430.2 44 429.2 43 429 42.2 428.8 42 M379.1 44 381 43.9 383 44.5 384.1 45 384 46 382.5 46 379 45 379.1 44 M444 44 445 43.4 446 43.3 447 43.5 448 44 447.6 45 448.1 46 452.1 48 451.7 50 451 50.8 450 50.8 449 50.4 447.1 49 445.2 47 444.1 45 444 44 M480 44 481 43.7 484.1 45 484.2 46 483 46.9 482 46.7 481.3 46 479.8 45 480 44 M284.9 46 286 45.3 287 45.1 288 45.1 291.4 46 292 47 291 47.5 290 47.6 288 47.4 286 46.9 284.9 46 M488.1 46 489 45.9 492 45.9 492 48.8 491 47.9 488.6 47 488.1 46 M482.1 48 483 47.1 484.6 48 484.6 49 484 49.4 483 49.2 482.1 48 M321.1 49 322 48.5 324 48.6 326 49 329.8 50 331.1 51 331 53 330 54.6 329.5 55 328 55 322 53.4 319 53 317 52.5 316 52 315.2 51 316 50.8 320 50.7 321.3 50 321.1 49 M279 50 279.2 50 279 50.4 279 50 M404.6 50 406 49.7 407 49.7 410 50.3 413.6 52 414.2 53 413 53.3 411 53.5 409 53.3 406 52.7 404 52 402.8 51 404.6 50 M490.5 50 492 49.3 492 52.9 487.4 52 487 51.7 486.5 52 485 52.4 484 52.4 483.3 52 483.3 51 484 50.7 486 51 490.5 50 M425.1 52 427 51.6 428 51.8 430 52.9 431.4 54 431 54.8 430.5 55 429 55.1 428 54.8 425.7 54 424.6 53 425.1 52 M442.3 53 443 52.5 444 52.2 445 52.2 447.5 53 447 53.1 444.9 54 446.1 55 447 55.5 448 55.5 448.7 55 449.2 54 449 53.5 448.3 53 450 52.7 451 53.1 453.8 55 459.7 58 457 58.7 453 58.6 452 58.4 448 56.7 447 56.7 445 57.2 442 57.3 439 56.9 436.8 56 436.8 55 437.8 54 442.3 53 M483.9 55 484 54.5 485 54.1 486 54.8 486.9 56 486 56.1 485 55.4 483.9 55 M294.7 56 295 56 294.7 56 M402 56 403 55.8 405 55.8 407 56.3 408 56.8 409 57.7 410 59.5 411 60.7 412 61.4 414.6 62 416.1 63 414 64.4 413 64.9 412 65.1 410.8 65 409.9 64 410 63 409.9 62 404.1 60 403.2 59 403 58 402.3 57 402 56 M279 57 287 58.8 288 59.2 292.1 61 292.2 62 291 62.5 288 62.5 281 59.8 279 59.2 279 57 M337.7 57 339 56.5 341 56.6 342.8 57 346 58.5 350 58.7 351.5 59 351.8 60 350.7 61 351.1 62 354.9 64 355.3 65 354 65.5 352 65.8 350 65.6 347 64 346.1 63 345.8 61 344.6 60 339 58 337.7 57 M428.2 57 429 56.8 430 56.9 432 57.7 433 59 432.9 60 432 60.3 430 60.5 427 60.4 425.1 60 424 59 425 58.4 428.2 57 M486.9 57 487 56.2 490 58 490.9 59 491.1 60 490 60 487.7 59 487 58 486.9 57 M319 59 321 58.5 323 58.5 325 58.9 328 59.9 329 59.9 330 59.6 331 58.9 332 58.4 333 58.3 335 58.6 337 59.3 338.9 61 338.7 62 337.8 63 338.4 64 338 64.6 336 64.1 332 62 330 61.4 329 61.6 328 62.4 327 62.8 325 62.8 323 62.3 321 61.4 318.6 60 319 59 M376.7 60 377 59.9 377.7 60 376.7 60 M474.4 60 475 59.8 476.1 60 477.8 61 478.5 62 478 62.5 477 62.4 475 62 472.9 61 474.4 60 M362.5 61 363 60.4 363.4 61 362.5 61 M381 61 381 61 M388.5 61 390 60.3 392 60.5 393.2 61 394 61.6 400.1 63 401.4 64 401 64.5 400 65 397 65.4 396.8 65 393 62.3 391.3 62 388.5 61 M457.6 61 459 60.5 460 60.6 461 60.8 464.2 62 465.1 63 465.2 64 465.1 65 464 65.2 463 65 460 64 458 63 457.2 62 457.6 61 M467.5 61 468 60.8 469.4 61 469 61.2 468 61.3 467.5 61 M435.8 63 436 62.7 437 62.3 438 62.4 439.8 63 442 64.3 446.4 65 447.8 66 446.8 67 448.3 68 448.9 69 448.9 70 449.7 71 449.9 72 449 72.6 448 72.6 445 70.5 443 68.7 440.6 68 440 67 440.9 66 438 64.9 437 64.2 435.8 63 M308.8 64 309 63.6 309.8 64 308.8 64 M319 64 319.2 64 319 64 M361.4 64 362 63.8 363.3 64 363 64.2 362 64.4 361.4 64 M286.1 65 287 64.8 290.4 65 290 65.1 286.1 65 M293.4 65 295 64.8 296 65 295.8 66 295 67 294 67.1 292.2 66 293.4 65 M470.8 65 473 65.1 476 65.9 479 66 481 65.8 482 65.5 483 65.5 484.1 66 483.9 67 479 67.3 478.3 68 479.7 71 478 71.5 474 71.9 473 71 473.7 69 473.4 68 471 67.6 468 67.9 467.1 67 467.3 66 469 65.7 470.8 65 M341 67 342 66.6 343 66.8 343.5 67 344.8 68 344.6 69 345.4 70 346.5 71 345.4 72 345.2 73 348 74.5 348.4 75 348 76 349 76.8 353 78.2 353.8 79 353.1 80 351 81.9 350 82.8 344 83.1 339 83.7 338 83.3 338.6 81 338 80.1 337 79.9 336 79.9 332.5 81 331 81.3 330 81.2 329.6 81 330.2 80 330 79.6 329.3 79 328 78.9 326 79 319 80.3 317.2 81 316.9 82 316.4 83 309.2 85 307.7 86 308 86.6 308.4 87 309 87.2 314 87.3 316.4 88 314 89.6 312.5 90 313 90.3 314 90.3 315.3 90 316 89.6 318.7 89 320.1 88 320 87 320.8 86 323 84.8 325 84.2 326 84.1 327 84.2 328 84.6 328.5 85 327 87.9 325.9 89 325 89.4 320.8 92 318 92.6 314 93 313 93.3 311.7 94 310.9 95 309.6 96 306 98 303.6 98 303.7 97 305 96 308.3 94 308.7 93 308.5 92 305 92.3 301.8 93 299 94 298.6 94 298.9 93 298 92.6 297 92.3 294 92.4 293 92.2 292.7 92 294.3 89 294.3 88 294.6 87 295.7 86 299 84.6 301 84.4 305 84.2 306.1 84 308 83 307.9 82 307.1 81 307.1 80 308.4 79 308 78.9 306 78.9 303 79.5 301 80.4 297 82.5 292 84.7 289 86.3 285 87.7 284 87 284.5 85 281.7 83 281.9 82 283.2 81 283.1 80 281 79 279 78.7 279 71.3 280.9 72 281.4 74 283 74.6 284 74.6 285 74.5 286 74 286.2 73 287 72.4 290.5 71 292 69.9 293 69.5 294 69.5 295 69.8 296 70.6 299.7 72 298.9 73 298 73.1 295.7 74 294.5 76 293 76.9 292.2 78 293.3 79 295 79.3 296 79.3 297.6 79 300.8 78 302.2 77 301.2 76 300.5 75 301.1 74 302 73.3 305 72.5 307 72.6 311 73.3 313 74.2 314 74.4 316 74.4 317.3 74 317.5 73 317.1 72 318 71.2 320 70.2 321 70.2 321.7 71 323.4 72 328 72.9 330 72.8 332 71.6 335 71.1 337 71.3 339 72.1 340 72.3 342 72.1 342.4 72 341.9 71 340.9 70 341.3 69 341.4 68 341 67 M335 76.6 334.2 77 332.8 78 333 78.6 335 78.4 335.9 78 336.5 77 336 76.5 335 76.6 M389.9 67 391 66.4 394 66.4 396 66.1 397 66.7 397.2 67 396 67.9 395 68 391 67.7 389.9 67 M491.3 69 492 68.1 492 69.2 491.3 69 M360.8 73 363 73.4 364.9 74 365.8 75 368.1 76 369 77.1 370 77.5 373 77 372 76.3 371.9 76 372 75 373 73.8 374 73.2 374.8 73 376 73 377 73.4 378 74.8 379 75.3 382.6 76 381.9 77 380.6 78 379.5 80 376 83 374 83.5 367 84.6 366.5 84 366.1 83 365.7 81 361.1 80 359.7 78 359.5 77 359 76.7 356 76.4 354.3 76 354 75 355.5 74 360.8 73 M413.7 74 415 73.4 415.9 74 415 74.3 414 74.4 413.7 74 M467.6 74 468.5 74 468.2 75 466.6 75 467.6 74 M420.7 75 422 74.5 425 74.2 425.9 75 425 76.8 424 77.3 420 77.7 419 77.6 418.1 77 418.8 76 420.7 75 M476.6 75 481 75 482 75.4 486 76.4 486.7 77 487 77.5 487.2 78 487.2 79 486 80 483 80.6 481 80.6 477 80.1 476.8 80 477.4 79 478.3 78 476.4 77 475.8 76 476 75.3 476.6 75 M411.1 76 412 75.9 413 76.1 414 77.5 414.9 78 415.7 79 416 79.9 416.7 81 415.1 82 414 82.1 413.7 82 413.4 81 413 80.7 412 80.4 408 80.1 405 80.2 404 80 402.7 79 405 77.6 407 76.7 411.1 76 M393.9 79 395 78.7 396.6 79 395 79.3 393.9 79 M467.6 81 470 80.8 473.6 81 472.7 82 468.7 84 471 85.5 472 85.8 473 85.9 475 85.5 475.4 85 476 84.8 477.1 84 478 83.7 480 83.7 480.6 84 480.6 85 481.2 86 481.2 87 480.7 88 480.6 89 479.6 90 478 90.4 473 90.9 471 91.3 467 91 465.9 90 469 89.5 473 89.3 476 88.1 477.3 87 477 86.7 476 86.3 473 86.2 471 86.9 470 86.9 467 86.4 464 86.3 463 86.5 462.2 87 461.7 87 461.9 86 463.5 85 462.9 84 463 83 463.9 82 465 81.5 467.6 81 M425.7 82 427 81.6 433 81.2 434 81.3 435 82 433.8 83 433 83.3 429 84.5 426 84.9 425 84.2 424.5 83 425.7 82 M349.4 84 350 83.3 351 83.1 354 83.5 355.2 84 355.3 85 354.4 86 353.5 88 352 89.1 351 89.2 350 89 348.8 88 349 86 348.4 85 349.4 84 M404.2 85 405 84.7 406 84.5 406.7 85 405 86.1 404 86.3 403.2 86 404.2 85 M444.3 85 446 84.7 447 84.8 447.3 85 445.9 86 445 86.2 443.1 86 444 85.4 444.3 85 M491.5 85 492 84.6 492 89.4 490 89.9 487 90.3 484 90.3 482.5 90 483.8 89 488.7 87 490.4 86 491.5 85 M334 86 336 85.3 337 85.3 338 85.6 338.7 86 337.6 87 335 87.8 333 87.9 332.3 87 334 86 M388.5 86 391 85.2 392 85.4 392.4 86 392.2 87 393.1 88 393 89 392 89.4 389.5 90 384 90.8 383.1 90 385 89.4 385.6 89 386.5 88 386.6 87 388.5 86 M281.9 89 283 88.4 284 88.2 285 88.4 285.4 89 284.2 90 283 90.2 281.5 90 281.9 89 M332 89 333 88.4 335 89.3 335.5 90 334 90.8 332 91.4 329 92.6 327 93.7 326 94 325 94 324.6 93 325.5 92 327 91.5 330 90 331 89.3 332 89 M433.6 89 435 88.4 436 88.5 437 89 436.4 90 435 91.3 434 91.4 432 91.4 431 91.6 430.8 92 427 93.3 424 94.1 422.6 94 421.6 93 419.9 92 422 91.2 424.3 90 426 89.7 428 90 430 90.7 431 90.7 432 90.4 433.6 89 M361.8 90 364 89.8 367 89.1 368 89.1 368.8 90 368 91 367 91.3 364.5 91 364 90.6 361.8 90 M454 91 454.4 91 454 91 M416.2 93 417 92.7 418 92.7 419.2 93 417 93.5 416.2 93 M434.9 93 436 92.7 436.3 93 434.9 93 M345.6 94 347 93.5 349 93.3 349.9 94 348 95.5 347.1 96 346.9 97 349.5 98 346 98.3 343 98.9 341 98.7 339.8 98 342.3 96 345.6 94 M390.9 94 392 93.7 396 93.3 396.4 94 395 94.2 394 94.6 393.4 95 389 96.2 388.3 96 389 95 390.9 94 M279 95 279 94.3 283.2 95 282 96 279 97.3 279 95 M296.4 95 298 94.1 298.1 95 298 95.1 297 95.4 296.4 95 M406.8 96 408 95.5 409 95.6 410.1 96 410.7 97 409.7 98 406.8 99 405 99.2 400.8 99 402 98.9 403 98.5 403.2 98 406.8 96 M418.8 96 420 95.7 420.8 96 420.1 97 418.8 98 418 98.3 417 98.2 416.5 98 416.8 97 418.8 96 M486.4 96 492 95.3 492 98.5 490 97.8 486.2 97 486.4 96 M350.4 97 351.2 97 351 97.1 350.4 97 M426.7 97 428 96.5 429 96.6 429.2 97 430 97.4 435.1 98 435 99 430 101.3 428.8 102 427.9 103 425 104.4 418 106.4 416 106.8 415 106.8 414.1 106 416 104.5 419.4 103 420 102.6 422.5 102 424 101.3 425.1 101 426.1 100 424.4 99 425.2 98 426.7 97 M312.7 98 315 97.4 318 97.1 318.6 98 317.8 99 316 100 313.6 101 312 102 311.7 104 309.3 105 308.3 106 308 107 307 107.2 302 107 301 107.1 299.2 108 299 109 298.1 110 297 110.3 296 110.2 294 109 293 108.8 291 109.1 287 110.7 286 110.8 285 110.8 283.7 110 284.3 109 286 107.7 287.4 107 293 105.4 294 105 295 104.5 298 102.3 298.7 102 299 101.7 300 101.4 302 102.3 303 102.4 304 102.3 307 101.1 311 98.8 312.7 98 M384.8 98 385.3 98 385 98.1 384.8 98 M445.4 98 446 97.5 447 97.4 447.2 98 445.4 98 M359.8 99 360.1 99 359.8 99 M453.9 99 455 98.7 455.5 99 455 99.1 453.9 99 M477.1 99 478 98.3 479 99.4 479.2 100 478 100.2 477.6 100 477.1 99 M291.8 100 293 99.4 294 99.4 294.3 100 294.1 101 293 101.3 291 101.7 290.1 101 291 100.6 291.8 100 M462.9 101 462.9 101 M335 103 337 102.6 339 102.7 340.2 103 340.8 104 339.3 105 339.4 106 339.8 107 339.3 109 339.6 110 338.7 111 337 111.4 336 111.4 334 110 330 109.3 329.3 109 329 107.8 325.9 106 327 105.5 332 104.1 333 103.6 335 103 M343.2 103 345 102.8 346.3 103 344 103.4 343.2 103 M448.2 103 450.5 103 450.5 104 449.1 106 448 106.7 447 107.2 445 107.5 444 107.3 441.2 106 440.7 105 443 103.7 448.2 103 M396.7 104 397 103.8 398 103.6 400 103.8 400.9 104 401.1 105 399 106 398 106.2 397 106 396.1 105 396.7 104 M409.4 104 410 103.9 410.4 104 410 104.1 409.4 104 M428.8 104 430 103.5 432 103.3 434 103.6 434.8 104 433.9 105 433 105.4 431 105.9 429 106.1 428.7 106 428 105 428.8 104 M459.4 105 461 104.8 461.6 105 461.8 106 460.3 107 458 107.5 457 107.5 456.5 107 457.5 106 459.4 105 M314 107 316 106.4 317 106.6 317.2 107 314.5 110 315.1 112 314 113.3 313 113.9 311 114.4 307 114.4 304.9 114 306 113.6 306.4 113 311 108.4 314 107 M350.2 108 352 107.9 352.2 108 350.2 108 M374.4 108 377 107.5 381 107.8 382.3 108 382.8 109 379 110.1 377 110.1 374.6 109 374.4 108 M408 108 411.3 108 412 108.2 412.5 109 411 110.1 409 110.2 407.3 110 406.2 109 407 108.3 408 108 M491.9 108 492 109.4 490 109.6 489 109.5 488.3 109 491.9 108 M361.2 109 365 108.7 366.5 109 365.8 110 362 111.4 359 111.6 358 111.3 357.6 111 358.7 110 361.2 109 M436.1 110 439.7 110 439 110.4 438.7 111 437.1 112 432 114.3 429 114.9 428 114.7 427 114 430 111 431 110.4 433 110.1 436.1 110 M442.7 113 444 112.9 444.4 113 444.1 114 441.5 115 440 115.2 439.2 115 439.7 114 442.7 113 M370 114 374 113.6 375 113.8 378.1 114 377 114.4 375 114.2 372 114.2 371 114.7 370.9 115 369 115.7 366.5 117 361 118.2 358.3 119 357 119.7 356 120 355 119.6 354.9 119 356 118.4 356.2 118 358 117.2 362 116.6 364 116.5 364.6 116 369 114.6 370 114 M311.4 116 312 115.6 313 115.3 314 115.5 314.3 116 313 117.1 312 117.4 311 117 311.4 116 M329.2 116 331 115.8 333.1 116 331 116.3 330.3 117 328 117.6 327.4 117 329.2 116 M400.2 116 402 115.8 402.6 116 403.3 117 400.3 118 397 118.2 395.5 119 393 119.9 389 122.2 386 123.2 377 124.6 375 124.6 372.9 124 373.1 123 373.6 122 373 121.6 367 121.2 366.6 121 366.5 120 368 119.7 374 119.8 381 121.5 383 121.6 384 121.4 385 120.9 388 118.9 390 117.8 392 117.4 395 117.3 397 117.6 398 117.3 398.1 117 400.2 116 M326.7 118 327 117.8 327.3 118 326.7 118 M432.7 118 434.1 118 433.2 119 431.9 119 432.7 118 M284.7 119 288 118.6 289.2 119 288.4 120 284 121 283 120.9 282.3 120 284.7 119 M411.7 119 412 118.9 412.6 119 411.7 119 M323.3 120 325 119.7 325 120 324 120.6 323.7 121 319 122.5 317 123.5 316.3 124 316.6 125 319 125.7 320 125.8 321 125.6 323 124.6 325.8 122 327 121.7 329 122.1 330.3 123 329.3 124 327 125.3 324 126.3 320 126.4 319.2 127 310.2 127 310.8 126 311 125 310.7 124 312.1 123 317.9 121 322 120.4 323.3 120 M489.7 120 492 119.4 492 126.9 485.4 127 488 125.6 488.7 125 489.4 124 489 123.7 487 123.7 484 124.9 482 125.3 479 125 478.9 124 482 122.3 484 121.5 488 120.7 489.7 120 M290.9 121 292 120.4 293 120.3 294 120.5 297 121.6 297.4 122 296 122.4 292 122 290.9 121 M352.8 121 354 120.7 354.4 121 353 121.5 352.9 122 352 122.4 351.5 123 349.9 124 349.1 126 345 126.6 343.5 127 336.6 127 340.1 125 343 122.1 344 121.7 347 122 352 121.3 352.8 121 M402.5 121 404 120.7 405.2 121 404.7 122 403 123.7 402 124.2 401 124.3 400 124.3 399.2 124 398.8 123 399.7 122 402.5 121 M305.9 123 307 122.8 308 123 307.6 124 305.5 125 303 125.4 302.4 125 303 124.7 303.8 124 305.9 123 M448.8 123 451 122.6 451.7 123 451.6 124 450.8 125 444 126.6 443.5 127 440.2 127 444 125.6 444.7 125 448.8 123 M419.9 124 421 123.8 422.8 124 422 124.3 421.3 125 419 125.5 418 126.1 414.3 127 412.9 127 413.1 126 415.1 125 417 124.5 419 124.4 419.9 124 M468 124 469 123.9 472 124.6 475.4 125 475 126 472.4 127 460.3 127 463 126.1 464 125.4 466 124.5 468 124 M279 125 279 124.8 280 124.9 280.8 126 282.1 127 279 127 279 125 M300.7 126 301 125.9 301.8 126 301 126.1 300.7 126 M354 126 357.2 126 357.7 127 351.3 127 354 126 M455.9 127 457 126.8 459 127 455.9 127"/>
<path fill="#fdd9c4" d="M279 17 283.4 17 283.8 18 283.3 20 283.6 21 285 23 282.8 24 281.9 25 281 25.6 279 25.6 279 17 M298.2 17 305.4 17 304.7 18 304 19.7 303 19.8 300.1 19 298.9 18 298.2 17 M323.6 17 331.2 17 330.6 18 330 18.5 328 18.8 326 18.5 323.6 17 M353.1 17 368.8 17 370 18.6 370.8 19 371.9 20 371.3 21 372 21 373.3 22 373 22.6 372 22.4 371.2 22 371 21 369.8 20 368 19.4 366 19.3 362.6 20 362.2 21 362.9 22 367 24 367.7 25 367 25.6 365 26.2 361.7 26 360.1 25 361.3 23 361 22.6 360 22 356 21.3 353 20 352.5 19 353.3 18 353.1 17 M372 17 383.9 17 381 17.3 380.2 18 380.3 20 380 20.3 379 20.6 375 20 373.5 19 373.3 18 372 17 M400.7 18 402 17.4 403 17.3 409 19.1 410 18.9 410.8 18 410 17 415.5 17 417 17.3 418.9 17 422.5 17 427 18 428.4 19 427.1 20 427.1 21 427.7 22 427.2 23 426 23.2 422 22.4 417 20.6 416 20.4 412 20.2 411 20.4 410.5 21 412 21.7 413 22.5 414.1 23 411.5 25 410 25.2 409.3 25 408.9 23 408 22.4 405 21.9 402.9 21 400.9 19 400.7 18 M453.7 18 454 17.3 454.8 17 456 17 459.9 18 460.8 19 459 19.3 456 19.1 453.7 18 M317.4 19 319 18.8 320 18.9 324.3 20 324 20.3 322 20.6 321.6 21 322 22 322.8 23 322 23.5 320 23.8 317 23.6 316 23.2 313.6 21 313.6 20 317.4 19 M389.4 19 391 18.7 393 18.9 394 19.1 397.4 21 398.3 22 397.7 23 397 23.2 395 23.2 394 22.9 392 22 390.8 21 389.9 20 389.4 19 M476.1 20 478 19.3 479 19.4 481.6 20 479.9 21 479.2 22 478.9 23 478 23.4 476 23.1 473.9 22 473.9 21 476.1 20 M296.1 22 297 21.6 303 22.5 307 22.6 309 23.5 309.7 24 310.1 25 309.5 26 308 26.2 301 25.2 299 24.5 298.1 24 296.1 22 M334.4 22 336 21.5 338 21.5 339.7 22 340.5 23 339.9 24 339 24.6 338 24.9 337 24.9 334.6 24 333.2 23 334.4 22 M486.9 22 487 21.7 488.1 22 486.9 22 M436.3 23 438 22.6 439 22.6 444 23.5 445.2 24 444.4 25 444.2 26 443 26.1 440 24.8 436.5 24 436.3 23 M463.8 23 465 22.4 467 22.5 468.5 23 469.5 24 468 24.5 467 24.5 465.1 24 463.8 23 M380.3 24 381 23.5 382 23.4 383.3 24 383 24.3 382 24.5 381 24.4 380.3 24 M426.6 26 428 25.5 431 25.6 432.8 26 434.2 27 433 27.4 429 27.2 427.9 27 426.6 26 M331.9 27 333 26.8 336 27.4 338 27.5 339.4 28 337 29.4 336 29.5 334 29 332 28 331.9 27 M393.8 29 394.2 29 393.8 29 M476 29 477 28.9 478.9 29 482 29.5 483 29.9 485 31.3 487 32 488.9 33 490.1 34 489 34.7 487 34.9 486.6 34 484 31.7 480.8 31 478.2 30 478 29.5 476 29 M298.6 30 299 29.5 300 29.5 303 29.8 303.9 30 305.2 31 305.6 32 305 32.4 303 32.2 301 31.3 300 30.5 298.6 30 M436 30 438 29.3 440 29.4 443.6 30 444.9 31 443.9 32 440.3 34 440.6 35 441 35.8 441.5 36 439 36.6 438 36.5 436.9 36 436 35.1 436.7 34 433.9 31 436 30 M279.1 31 283 30.4 285 30.4 286.5 31 287.3 32 286.5 33 286 33.3 285 33.4 282 33.2 279 33.6 279.1 31 M310.8 31 313 30.7 314 30.9 315.4 32 313 32.3 312 32.2 311.4 32 310.8 31 M336.3 31 337 30.4 338 30.4 339 30.7 341 32 342.1 34 342 34.4 341 35.1 340 35 335.9 33 335.6 32 336.3 31 M456.4 31 457 30.8 458 30.9 459 31.4 461 32 462.4 33 463.2 34 464 34.6 465 35 464 35.3 462 35 461 34.4 459.6 34 458 33 457.5 32 456.4 31 M321.3 32 323 31.6 325 31.5 328 32 329 32.4 331.5 33 332.1 34 332.8 36 332.8 37 332 37.6 330 38.3 329 38.4 327 38.1 326 37.7 324 36.5 321.4 34 320.8 33 321.3 32 M407.2 33 408 32.9 408.8 33 407.2 33 M306.8 34 307 33.7 308 33.5 309 33.6 312 34.9 313.9 36 313.3 37 312 37.1 310.7 37 307 36.2 306.1 37 305 38.4 303.8 38 303 37 302.9 36 304 35.8 306 36 306.8 34 M282.8 35 285 35 291 36 293 36.4 294.5 37 294 37.4 293 37.8 287 38.4 285 38.3 283 37.6 282.2 37 281.8 36 282 35.3 282.8 35 M478.1 35 481 34.4 486 34.7 487 35.1 488.6 37 488 37.4 486 37.4 484 37.2 478.5 36 478.1 35 M464.8 36 465 35.1 466.8 36 466 36.2 464.8 36 M384.6 38 385 37.6 386 37.3 391 37.1 392 37.2 394 38 395.4 39 395.8 40 394 40.4 390 40 387 40 386 39.6 385.1 39 384.6 38 M426.6 38 427 37.9 427.8 38 426.6 38 M488.9 38 490 37.7 490.7 38 490 38.2 488.9 38 M468.1 41 469 40.5 471 40.5 472.3 41 472.4 42 472 42.5 471 42.9 470 42.8 469 42.2 468.1 41 M343 42 346 41.3 347 41.3 348.8 42 349.2 43 348.1 45 346 45.8 345 46 341 45.7 338 46.1 337.1 46 337.4 45 338 44.1 338 43 339 42.6 343 42 M298.5 43 300 42.7 301.3 43 302 44 302.2 47 302 47.7 301 47.6 298.3 44 298.5 43 M430.5 43 431 42.7 432 42.7 433 42.9 435.5 44 436.5 45 436 45.5 435 45.7 434 45.5 430.9 44 430.5 43 M461.9 45 464 44.8 466 45 468.5 46 468 46.7 467.2 47 465 46.9 461.8 46 461.9 45 M286.4 46 287 45.8 288.7 46 288 46.3 287 46.3 286.4 46 M421 46 422 45.7 422.9 46 422 46.4 421 46 M491.6 47 492 46.9 492 47.2 491.6 47 M430.2 48 432 47.9 433.3 48 431.7 49 428 49.2 426.3 49 427 48.5 429 48.5 430 48.3 430.2 48 M300.5 49 301 48.3 302 48.1 306 50 307.7 51 308.7 52 308.2 53 304.8 53 301 52.6 298.8 52 299.6 50 300.5 49 M323.6 50 325 49.7 326.4 50 328.4 51 328.6 52 327 53 326 53.4 325 53.5 318.4 52 320 51.6 322 51.4 322.9 51 323.6 50 M419.7 50 420.8 50 419.7 50 M288.8 51 290 50.7 291 50.8 296 52.4 296.5 53 295 53.2 291 52.6 289.4 52 288.8 51 M404.4 51 406 50.2 407 50.2 409 50.4 412.7 52 412.6 53 410 53.1 407 52.7 405 52 404.4 51 M490.1 51 492 50.4 492 52.3 491 52 490.1 51 M439.7 54 441 53.9 443 54.2 444 54.7 445.6 56 445 56.3 443 56.7 441 56.6 439 56.2 438.5 56 438 55 439 54.2 439.7 54 M450.1 56 451 55.2 452 55 454 55.7 456.2 57 456 57.6 455 58 454 57.9 451.3 57 450.1 56 M403.2 57 404 56.3 405 56.3 406 56.4 407.5 57 408.4 58 408.8 59 408.7 60 408 60.3 405.9 60 405 59.4 404 58.4 403.2 57 M340.9 58 341 57.8 342 57.6 343.6 58 343 58.5 340.9 58 M429.1 58 430.2 58 431 59 430 59.7 428 59.5 426.2 59 428 58.5 429.1 58 M280.2 59 281 58.2 286 58.9 289 59.9 291.2 61 290.7 62 289 62.2 286 61.4 282 59.6 280.2 59 M320.1 60 321 59.5 322 59.4 324 59.5 325.4 60 325.7 61 324 61.5 323 61.3 322 61 320.1 60 M331.6 60 333 59.3 335 59.3 336.8 60 337.9 61 337.3 62 336 62.6 335 62.4 332 61 331.6 60 M347.7 60 349 60 348 60.1 347.7 60 M347.5 62 348 61.7 349 61.7 353.6 64 353 64.7 352 64.9 350 64.6 348.5 64 347.2 63 347.5 62 M458.6 62 459 61.6 460 61.4 462.6 62 463.8 63 463.5 64 463 64.2 461.7 64 459.5 63 458.6 62 M475.9 70 476 69.8 477 69.6 477.3 70 477 70.2 475.9 70 M290.1 72 293 71.5 295.6 72 295.3 73 293.6 74 292.6 76 290.8 78 291.2 79 293 79.6 294 79.8 297 79.8 299 79.5 300 80 299 80.4 298.5 81 297 82 288 85.5 287 85 287.2 84 285 83.6 283.5 83 283.4 82 284.7 81 285.5 80 283.4 79 279.5 78 279 77.7 279 74.6 280 75.3 281 75.5 287 75.2 287.8 75 288 74 287.8 73 290.1 72 M333.5 72 335 71.8 336.3 72 337.9 73 338 74 336.6 75 334 76.1 331 78 330 78.3 327 78.4 317.1 80 315.4 81 315 82 313.7 83 309 84.1 308.5 84 309 83.8 309.4 83 309 81 311 79.4 312 77.8 312.9 77 312 76.7 311 77.5 309 77.8 306 77.7 303 75.8 302.2 75 303 74 305 73.5 307 73.4 309.4 74 312 75 312.8 76 313 76.9 314 76.2 318 74.8 319 74.2 319.2 74 319.2 73 320 72 321 72 327 73.3 330 73.6 331 73.5 333.5 72 M357.6 74 360 73.9 361.4 74 361 75 359 75.6 357 75.8 356 75.6 355.3 75 357 74.1 357.6 74 M341.9 75 342 74.8 343 74.3 346 74.9 346.3 75 346.1 76 345.6 77 346 77.7 346.4 78 347 78.3 351 78.5 352.5 79 352 80.1 350 81.3 349 81.6 348 81.6 347 81.3 346 80.6 345 80.6 342 82 341 82.2 340.2 82 340 81.8 339.7 80 339 79.5 337 79 337.7 77 338.5 76 339 75.6 341.9 75 M422.5 75 424.2 75 424.3 76 423 76.6 422 76.7 421 76.7 420.4 76 422.5 75 M362 76 363 75.4 364 75.5 365.7 76 366.5 77 365.3 78 364.8 79 364 79.2 363 79.2 362 78.9 360.9 78 361 76.8 362 76 M376 77 377 76.6 378 76.5 379.2 77 378.1 78 378.1 79 377.8 80 374 82 372 82.4 370.7 83 369.4 83 369.5 82 372 81.3 372.8 80 372.9 79 374 78 376 77 M407.9 77 409 76.7 411 76.6 412 77 412.4 78 412 78.7 411 79.1 407 79.5 406 79.4 404.8 79 405.6 78 407.9 77 M482.9 77 484 76.9 485 77 485.9 78 485.5 79 484 79.7 482 80.1 480.8 80 480 79.7 479.2 79 481 77.7 482.9 77 M430.4 82 432 81.8 433.1 82 432 83 430 83.4 428 84.1 426.8 84 427 82.9 428 82.4 430.4 82 M468.8 82 469.3 82 468.8 82 M299.9 85 304 84.7 306 84.7 307 85 306.3 87 307 87.5 308 87.9 311 88.3 311.6 88 313 87.8 313.7 88 313 88.5 312 88.7 311.9 89 308.1 91 305 91.7 302 92.1 296 91.5 295 91.3 294.6 91 296 87 297.3 86 299.9 85 M324.5 85 326 85 326.8 86 326 87 323 89 322.3 90 320 91.3 318 91.8 316 91.7 315.4 91 321.4 89 322 88.6 322.5 88 321.7 87 322.2 86 324.5 85 M491.6 86 492 85.7 492 88.6 487 89.4 485.9 89 488 88.2 491.6 86 M388.4 87 390 87 390.6 88 390 88.8 388.4 87 M476.6 89 478 88.6 478.4 89 478 89.2 477 89.3 476.6 89 M474.7 90 475.5 90 474.7 90 M424.4 91 425 90.8 426.6 91 427.2 92 426 92.3 425 92.4 424.3 92 424.4 91 M312.8 92 314 91.8 314.8 92 312.8 92 M345.5 95 347 94.6 347.2 95 346 95.4 345 97 344 97.7 343 98.1 341.9 98 341.9 97 343 96.1 345 95.4 345.5 95 M279 96 279 95.2 280.1 96 279 96.3 279 96 M406.5 97 408 96.7 409.2 97 407.9 98 407 98.2 405 98.4 404.5 98 406.5 97 M314.3 98 316 97.8 317.4 98 316.8 99 315.2 100 310 102 309 102.8 304 105.4 299 106.7 297 107.7 296 107.9 293 107.8 290 108.6 288 109.4 287 110.1 285.8 110 286.2 109 287.2 108 289.4 107 293 106.3 295 105.3 298 103.2 299 102.8 300 102.7 302 103.3 304 103.3 305 102.9 306.1 102 308 101.2 310 99.9 314.3 98 M428.4 99 429 98.7 431 98.5 432 98.5 433.5 99 431.7 100 428 101.2 427.5 101 428 99.5 428.4 99 M423.9 102 427 101.2 427.4 102 426.8 103 424 104.3 419 105.7 417 106 416 106 416.4 105 418.2 104 421 102.8 423.9 102 M333.3 104 335 103.4 337 103.1 338 103.2 339.2 104 338.4 105 338 106 338.5 107 338.4 108 338 108.8 337 109.8 331 108.7 330.1 108 329 106.4 328.2 106 329 105.8 330.4 105 333.3 104 M430.7 104 432.3 104 432 105 431 105.2 429.8 105 430.7 104 M311.6 109 313 108.4 314 108.5 314.1 109 313.4 110 313.2 111 313.7 112 313 113 312 113.4 311 113.6 309 113.7 308 113.5 307.7 113 308.5 112 311.6 109 M377.5 109 378 108.7 380.2 109 378 109.2 377.5 109 M359.7 110 361 109.5 363 109.3 364 109.4 364.5 110 362 111 361 111.1 359.5 111 359.7 110 M432.2 111 436 110.5 437.4 111 436.1 112 434 112.7 431 114 429 114 429.4 113 430.4 112 432.2 111 M365.9 116 366.4 116 365.9 116 M392 118 393 118.2 393.3 119 387.6 122 387 122.1 385.5 122 386 121.7 386.4 121 389.1 119 391 118.1 392 118 M283.9 120 284.2 120 283.9 120 M488.5 121 491 120.4 491.7 121 491 122 486 123.6 484 124.4 482 124.7 481 124.5 480.4 124 481.5 123 483 122.3 488.5 121 M317 122 317.4 122 317 122 M376.2 122 377 121.7 379 121.8 379.8 122 381 123 379 123.6 375.9 124 375 123 376.2 122 M326.1 123 327 122.6 328 122.7 329 123 328.2 124 326.4 125 325 125.3 324 125.2 323.7 125 325 123.7 326.1 123 M345.3 123 348 122.8 349 122.8 349.7 123 349 123.3 348 124.3 347 124.7 345 125.1 343.5 125 343.6 124 345.3 123 M400.9 123 402 122.8 402.1 123 400.9 123 M313.2 124 314 123.8 314.3 124 314.5 125 317.9 126 317.3 127 311.5 127 312 126 312.9 125 313.2 124 M491.2 124 492 123.3 492 126.1 490 126.4 489 126.1 488.9 126 490 124.7 491.2 124 M466 126 470 125.5 471 125.6 472.6 126 470.5 127 468.4 127 466 126 M339 127 340.1 127 339 127 M354.6 127 355 126.9 355.2 127 354.6 127"/>
<path fill="#f9c2a7" d="M279 17 282.4 17 282.8 18 282 19.2 281 19.5 280 19.3 279 19 279 17 M300.3 17 304 17 303 17.8 302 18.3 300.8 18 300.3 17 M325.8 17 329.1 17 328 17.8 325.8 17 M354 17 367.7 17 368.2 18 368 18.3 367 18.8 361.2 20 360 20.9 358 21.1 356 20.8 354.2 20 353.6 19 354 18 354 17 M374 17 378.6 17 378.7 19 378 19.6 377 19.5 375 18.3 374 17 M412.2 18 413 17.3 415 17.8 417 18.6 419 18.4 420 17.9 421 17.7 425.3 18 426.1 19 425.3 20 426 20.6 426.6 22 426 22.4 425 22.6 423 22.3 418.9 21 418 20.4 416 19.6 415 19.6 413 19.1 412.2 18 M403 19 404 18.6 406 18.8 406.4 19 406.7 20 406 20.2 405 20.3 404 19.9 403 19 M391.7 20 393 19.8 394 20.1 396.2 21 397.1 22 396 22.6 395 22.6 394 22.3 393.2 22 391.9 21 391.7 20 M314.8 21 316 20.3 318 20.4 320 21.3 320.9 22 321.4 23 320 23.4 319 23.4 317.1 23 316 22.4 314.8 21 M279 22 279 21.4 282 21.6 282.7 22 283 23 282 23.4 280.1 25 279 25 279 22 M298 23 299 22.4 306 23.1 308 23.8 308.4 24 309.2 25 308 25.7 303 25.2 301.9 25 299 24 298 23 M363.5 24 364 23.9 365.1 24 365 24.4 364 24.5 363.5 24 M282.6 31 284 30.8 284.9 31 285.8 32 285 32.4 284 32.5 283 32.3 282.1 32 282.6 31 M302.4 31 303 30.8 303.3 31 303 31.1 302.4 31 M436.2 31 438 30.4 440 30.2 442 30.5 443.1 31 442.2 32 439 33 438 33.1 437 32.7 436.1 32 436.2 31 M337.3 32 338 31.7 339 31.9 339.3 32 340 33 339 33.2 338.2 33 337.3 32 M323.5 33 325 32.7 327.4 33 326.6 34 330.1 36 330 36.4 329.6 37 329 37.1 327 37 326 36.6 324.9 36 322.9 34 323.5 33 M480.5 35 483 35 485.6 36 485 36.3 483 36.1 482 35.4 481 35.3 480.5 35 M283.5 36 284 35.8 285.8 36 289 37 288 37.4 287 37.5 285 37.4 283.6 37 283.5 36 M310.5 36 311 35.8 312.2 36 310.5 36 M389.3 39 391 38.6 392 38.5 393.6 39 393 39.3 389.3 39 M341 44 342 43.8 343.4 44 343 44.5 341 44 M431.9 44 432 43.8 433 43.7 434.1 44 434 44.2 433 44.3 431.9 44 M463.9 46 465 45.5 466.7 46 465 46.3 463.9 46 M300.9 50 302 49.5 304 49.8 306.8 51 307.5 52 307 52.3 306 52.6 301.4 52 300.7 51 300.9 50 M405.6 51 407 50.5 408 50.6 409.6 51 411.9 52 411 52.7 407 52.4 405.8 52 405.6 51 M439.1 55 440 54.5 442 54.6 442.9 55 443.5 56 442 56.2 440 56 439.1 55 M404.3 57 405 56.8 406.4 57 407.5 58 407.1 59 406 58.8 405 58.3 404.3 57 M453.9 57 454.1 57 453.9 57 M283.7 60 284 59 286 59.3 288.3 60 289 60.5 290.3 61 290 61.3 289 61.5 288 61.5 286 61 283.7 60 M333.5 60 334 59.8 335.2 60 336.4 61 336 61.3 335 61.4 334 61.2 333.5 61 333.5 60 M289.9 73 291 72.8 291.8 73 291 73.5 289.9 73 M321 74 322 73.2 323 73.2 333.1 75 331.2 77 330 77.5 321 79 318 79.1 315 79.5 314 79.4 313.5 79 313.5 78 314.7 77 317 75.9 320.1 75 321 74 M303.8 75 305 74.5 306 74.5 310.4 76 309.4 77 308 77.2 307 77.1 305.9 76 303.8 75 M356.9 75 357.1 75 356.9 75 M285 76 289 75.7 290 75.7 290.9 76 290.4 77 289 78.9 288.6 79 293 80.5 296 80.6 296.8 81 295.4 82 295 82.1 291 82.3 289 82.7 286 82.8 284.9 82 286 81 288.2 80 288 79.5 287.3 79 285 78.8 282.2 78 281.3 77 283 76.3 285 76 M341 76 343 75.9 343.6 76 344 76.7 343.5 79 343 79.6 342 79.8 341.2 79 340 78.8 338.6 78 338.8 77 339 76.8 340 76.2 341 76 M362.9 77 364.2 77 363 77.2 362.9 77 M406.9 78 409 77.6 410 77.8 410.2 78 408 78.5 407 78.4 406.9 78 M481 79 482 78.7 483 78.8 483.1 79 482 79.2 481 79 M348.7 80 349 79.7 350 79.5 350.5 80 350 80.2 349 80.2 348.7 80 M311.5 81 312 80.8 312.9 81 312.6 82 312 82.3 311.1 82 311.5 81 M299.2 86 302 85.4 304 85.2 305 85.5 305.3 86 303.7 88 305 88.4 309 89 308.2 90 306 91 305 91.2 302 91.4 299 90.9 297 90.9 296 90 296.9 88 297.6 87 299.2 86 M324.5 86 325.2 86 325 86.2 324.5 86 M491.8 87 492 86.9 492 87.2 491.8 87 M490.9 88 491.1 88 490.9 88 M313.4 99 315 98.7 315.6 99 313.4 100 311.9 100 313 99.7 313.4 99 M309.9 101 310.5 101 309.9 101 M421.6 103 423 102.7 425 102.6 425.6 103 423.7 104 421 104.5 420 105 418 105.3 417.5 105 421.6 103 M298.5 104 299 103.9 299.8 104 300.5 105 298.1 106 296.4 106 296.9 105 298.5 104 M334.4 104 336 103.7 337 103.7 337.7 104 337.5 105 336.7 106 336.7 108 336 108.3 334 108.4 332 108.3 331.3 108 330.3 106 331.7 105 334.4 104 M360.9 110 362.3 110 360.9 110 M310.2 112 311 111.6 312.2 112 312 112.3 311 112.6 310.2 112 M486.1 122 487.6 122 487 122.3 486.1 122 M482.5 123 486 122.2 486.2 123 485 123.3 483 124.1 482 124 482.5 123 M325.9 124 326.3 124 325.9 124 M491 125 492 124.9 492 125.1 491 125 M313.4 127 314 126.6 314.7 127 313.4 127"/>
<path fill="#f5aa89" d="M279 17 281.4 17 281.5 18 281 18.4 280 18.4 279 18.2 279 17 M354.6 17 366.9 17 367.2 18 365 18.8 361 19.6 359 20.4 357 20.6 355.2 20 354.4 19 354.6 18 354.6 17 M418.7 20 420 19.4 422 19.2 423 19.2 423.7 20 425.3 21 425.4 22 424 22.2 422.9 22 419.8 21 418.7 20 M316.6 22 317 21.2 318 21.3 319.8 22 319 23 318 22.7 316.6 22 M279 23 279 22 280 22.3 280.8 23 280 23.6 279 24 279 23 M299.7 23 306 23.7 307 24 308 25 307 25.2 303.6 25 300.3 24 299.7 23 M302.5 51 303 50.7 304 50.7 305.6 51 306 52 304.9 52 302.5 51 M406.8 51 408.1 51 410.5 52 409 52.2 407 52.1 406.7 52 406.8 51 M284.7 60 286 59.7 287.2 60 287 60.3 286 60.4 284.7 60 M323.9 75 325 74.5 328 74.6 329.1 75 329.9 76 328.9 77 324 78.1 319 78.1 316 78.5 315 78 316.2 77 318 76.5 319 76.5 321 77 322 76.6 323.9 75 M283.4 77 287 76.5 288.6 77 287.8 78 287 78.2 285 78 283.4 77 M340.1 77 341 76.7 342.3 77 342 77.5 341 78 340.1 77 M287.9 81 290.1 81 289 81.3 288.5 82 286.7 82 287.9 81 M302 86 303.2 86 302.9 87 301 88.2 299 88.6 298.6 88 299.2 87 302 86 M302.4 90 305 89.6 306.1 90 305 90.4 302.4 90 M421.6 104 422 103.8 422.3 104 421.6 104 M333 105 336 104.3 336.5 105 335.4 106 335 106.8 334 107.3 333 107.3 332 106.6 331.5 106 333 105"/>
<path fill="#eb9172" d="M355.2 17 366.3 17 366.1 18 365 18.5 361 19.2 358 20.1 357 20.1 356 19.8 355.1 19 355.2 17 M421.3 21 422 20.4 424.1 21 423 21.3 421.3 21 M302.6 24 304 23.8 305 24 304 24.3 302.6 24 M324.5 76 326 75.3 327 75.3 328.2 76 326.1 77 324 77.2 323.7 77 324.5 76"/>
<path fill="#de735c" d="M355.9 17 365.8 17 365.3 18 364 18.5 360 18.9 357 19.4 356 19 355.9 17"/>
<path fill="#d05548" d="M356.9 17 365.2 17 364.4 18 362 18.3 358 18.1 356.9 17"/>
<path fill="#c2383a" d="M358.7 17 364.7 17 364 17.7 363 18 361 17.8 358.7 17"/>
<path fill="#b3192c" d="M360.5 17 364.1 17 363 17.5 362 17.4 360.5 17"/>
<path d="M301.3 112 385.1 112 468.8 112 M284.4 92.4 385.1 92.4 485.7 92.4 M280.2 72.3 385.1 72.3 489.9 72.3 M284.4 52.3 385.1 52.3 485.7 52.3 M301.3 32.7 385.1 32.7 468.8 32.7 M347.8 126.3 342.3 123.5 338 120.6 336 119 332.5 115.6 329.2 112 326.2 108.3 323.6 104.4 320.3 98.5 318.6 94.4 317.4 90.4 316.5 86.4 315.6 80.4 315.2 72.3 315.6 64.3 316.5 58.3 317.4 54.3 318.6 50.3 320.3 46.2 323.6 40.3 326.2 36.4 329.2 32.7 332.5 29.1 336 25.7 338 24.1 342.3 21.2 347.8 18.3 M366.4 126.3 363.7 123.5 360.5 119 357.1 112 354.3 104.4 352.7 98.5 351.2 90.4 350.3 80.4 350.1 72.3 350.3 64.3 351.2 54.3 352.7 46.2 354.3 40.3 357.1 32.7 360.5 25.7 363.7 21.2 366.4 18.3 M385.1 126.3 385.1 18.3 M403.7 126.3 406.4 123.5 409.6 119 413 112 415.8 104.4 417.4 98.5 418.9 90.4 419.8 80.4 420 72.3 419.8 64.3 418.9 54.3 417.4 46.2 415.8 40.3 413 32.7 409.6 25.7 406.4 21.2 403.7 18.3 M422.3 126.3 427.8 123.5 432.1 120.6 434.1 119 437.6 115.6 440.9 112 443.9 108.3 446.5 104.4 449.8 98.5 451.5 94.4 452.7 90.4 453.6 86.4 454.5 80.4 454.9 72.3 454.5 64.3 453.6 58.3 452.7 54.3 451.5 50.3 449.8 46.2 446.5 40.3 443.9 36.4 440.9 32.7 437.6 29.1 434.1 25.7 432.1 24.1 427.8 21.2 422.3 18.3" fill="none" stroke="#c2c2c2" stroke-width="0.8"/>
<path d="M293.7 57.6 294.3 57.5 295 58.1 295.9 58.4 296.4 59.3 295.7 59.7 295.7 59.1 295.2 58.2 293.7 57.6 M354.3 106.5 355.5 106.5 356.2 106.7 355.7 107.2 354.9 107.1 354.3 106.5 M311.2 29.3 314.6 28.6 314.7 28 314.2 27.8 314.6 27.4 320.5 26.1 326.6 27 327.5 27.4 331.5 26.6 332.4 27.1 333.9 26.9 335.2 27.3 335.8 27.9 337.9 27.9 340.1 27.4 341.7 28 344.1 27.8 345 27.1 346.4 25.8 346.8 26.5 346.7 27.1 347.3 27.5 347.3 28.3 347.9 28.3 349.3 27.1 350.5 27.1 350.1 28 348.8 29 347.5 28.8 345.7 30.3 344.4 30.6 342.1 31.8 340.6 33.3 341.3 33.5 341.3 34.2 344.3 35.6 345.1 35.7 344.5 36.9 345 38.2 345.6 38 346.6 35.9 347.7 35.3 348.6 34.2 348.8 33.3 349.6 31.3 351.7 31.5 352.2 31.9 352.9 32.1 352.6 33 353 33.6 354 33.4 355.1 32.5 355.1 33.6 355.8 35.5 356.9 36.3 357.3 37.4 357.2 38 356 38.2 354.8 38.9 351.5 38.9 350.2 39.5 348.3 41 349.3 40.6 350.6 39.8 352.3 39.8 351.7 40.4 351.6 41.5 353.3 41.9 350.6 43.3 350.3 42.7 351.3 42.1 350.6 42.1 348.8 42.9 348.1 43.2 347.6 43.9 347.8 44.4 345.6 45 345 46 343.7 47.6 343.6 48.7 341.3 50.1 339.8 51.4 339.5 52.3 339.8 54.5 339.5 55.5 339.1 55.5 338.8 54.8 338.5 53.7 338.6 52.9 338.1 52.2 337.2 52.3 336.7 52 335.9 51.9 335 52.1 335 52.8 334.3 52.9 333.5 52.5 332.4 52.5 330.8 53.5 330.2 54.1 329.3 57.6 329.5 58.6 329.9 59.4 330.9 60.2 332.7 59.8 333.2 59.1 333.5 58.3 334.5 58 335.4 58 334 61.8 335.8 61.7 336.6 62 337 62.3 336.6 64.6 336.8 65.3 337.5 66.1 338.3 66.3 338.9 66 339.8 66.3 340.2 66.7 339.8 67.5 339.6 67 338.9 66.7 338.4 67.3 336.6 66.7 335.3 65.3 335.4 64.9 334.7 64 334.2 63.5 333.3 63.3 331.8 62.6 331.2 61.8 330.5 61.5 329.5 61.8 325.7 60.1 324.9 59.3 324.7 58.6 325 58 324.7 57.1 322.8 53.9 322.1 51.9 321.2 51.1 321.1 52.3 322 53.9 322.7 56.9 322.4 57 320.8 53.9 320.4 53.6 320.8 52.6 320.3 51.9 320.1 50.5 319.8 49.7 318.7 49.2 318.5 48 318.5 45.2 319.3 43.6 320.1 42.6 321.3 40.6 321.3 40 322.1 40.2 322.1 40.6 322.4 39.6 322.3 39.1 321.3 38.4 321.3 36.1 321.1 35.8 321.4 34.9 321.1 33.6 320.5 33.5 320 32.8 318.3 32.7 315.9 31.9 314.9 32.4 313.9 33.2 313.3 33 308.6 35.2 304.5 36.2 308.2 34.9 310.8 33.6 309.5 33.5 309.5 32.8 308.8 32.6 308.9 32.1 310.7 30.9 313.4 30 311.5 29.9 311.5 29.6 311.2 29.3 M340.2 66.7 341 66 341.3 65.3 343.7 64.1 343.9 64.6 343.6 65.1 344.5 64.2 345.3 65.3 348.8 65.2 349.8 66.7 351.3 67.8 352.5 68.4 353.7 68.5 354.5 68.8 355.1 69.5 355.9 72 356.5 72.5 357.1 72.9 358.3 73 359.1 73.9 360.6 74.2 361.8 74.2 363.8 75.7 364.6 76 364.8 77.4 364.6 78.4 363.3 80.4 362.6 81.1 362.5 84.1 361.7 87.1 361.1 87.8 359.7 88 358.6 88.4 357.9 89.4 357.5 91.4 356.7 93.4 355.6 95.1 354.9 95.7 354 95.7 353.1 95.3 352.9 95.5 353.7 96.1 353.9 96.8 353.8 97.9 352.9 98.3 351.6 98.3 351.7 99.5 350.9 99.8 350.3 99.8 351 100.8 350.8 101.4 350.9 102.4 350.3 103.1 350.2 103.7 351.2 104.4 350.5 105.9 350.5 106.7 351 107.2 350 108.3 348.1 107.3 346.5 104.7 346.6 103.6 345.9 103.1 346.2 101.8 345.2 97.5 345.4 94.4 344.9 91.1 345 89.1 344.8 85.1 344 84.1 342.8 83.4 341.5 82.4 339.2 78 337.8 76.2 337.7 75.4 338.3 74.7 338.5 74 337.9 73.8 338.5 71.7 339 71.3 339.9 69.8 340.1 68.3 339.8 67.5 340.2 66.7 M351 107.4 353.2 108.7 352.5 109 351.3 109.1 350.4 108.6 350.4 107.6 351 107.4 M358.1 22.3 358.8 23.1 359.6 23.5 361.5 23.5 362.3 23.8 362.5 26.2 363.6 26.5 362.3 27.1 363.3 27.6 361.9 28.5 361.7 29.4 362.7 32.1 364.5 32.8 365.4 32.4 365.7 31.5 367.6 29.7 370.2 28.8 371.3 28 373.1 27.8 374.9 27.1 375.7 26.5 376.4 24.9 377.4 24.1 378 23.3 378.3 22.6 378.1 21.9 380.1 21 373.1 20.2 369.6 20.4 364 20.8 361 21.4 358.1 22.3 M356.1 30.6 355.4 31.5 354.6 31.6 353.1 31 352.1 30 350.5 30.1 350.7 29.4 352.4 29.1 353.4 28.5 353.4 27.9 352.3 27.6 352.2 27.1 351.6 26.8 349.9 26.8 348.4 26.5 348.2 26.2 349.9 25.7 351 24.9 353.1 24.8 354.3 25.3 355.5 25.9 355.9 26.5 356.6 26.8 357.1 28.2 358.1 28.6 356.2 29.8 356.1 30.6 M356.3 23.3 354.2 23.5 350.9 23.3 351.4 22.6 354 21.9 352 21.4 355.3 20.8 359.2 20.4 362.6 20.4 363.3 20.8 356.2 22.6 356.3 23.3 M353.5 24.4 349.2 24.3 349.2 23.8 351.1 23.2 353.5 23.4 353.5 24.4 M342.3 27.4 338.2 27.6 336.4 27.1 336 26.5 337.6 25.4 339.5 25.2 341.5 25.2 342.2 25.4 342.9 26.2 342.3 27.4 M337.4 26 335.5 26.1 333.8 25.7 335.9 24.5 338.3 24.5 338.3 25.2 337.4 26 M345 26 344.1 25.4 345.4 24.7 346.4 24.9 345 26 M348.3 25.4 346.5 25.4 347.5 24.6 348.9 24.6 348.3 25.4 M344.2 23.8 341.8 24.2 339.5 23.8 341.4 23.3 344.1 23.6 344.2 23.8 M346.6 24.1 345.7 23.8 346.9 23.2 347.7 23.5 346.6 24.1 M353.4 22.1 351.1 22.3 350.3 21.6 352.6 21.1 353.4 22.1 M349 30.4 346.4 30.9 346.3 30 347.3 29.2 348.5 29.1 348.9 29.8 349 30.4 M354.6 40.6 356.6 39.3 357.3 38 357.9 39.5 358 40.6 357.4 41.1 356.3 40.6 354.6 40.6 M322 40 321.4 39.6 320.6 38.5 321.9 39 322 40 M382 48.2 381.6 47.7 381 47.4 380.2 47.6 380.3 46.6 379.9 46.4 380.3 45.2 380.3 44.2 380.1 43.6 380.8 43.1 384.1 43.3 384.4 42.6 384.4 41.6 383.9 40.9 382.7 40.4 382.6 40 383.5 39.8 384.3 39.8 384.2 39.3 385.2 39.3 385.8 38.9 386.3 38.3 386.9 38 387.4 36.9 389.2 36.5 389.3 35.8 388.9 34.9 389.1 34.5 390 34.1 390.1 34.9 389.8 35.9 390.4 36.4 391.4 36.2 392.2 36.5 394.1 35.9 394.7 36.1 395.3 35.7 395.1 34.7 395.3 34.2 396.6 34.4 396.1 33.2 399 32.7 398.2 32.4 395.8 32.7 395 32.4 394.8 30.9 396.2 29.7 395.8 29.2 394.9 29.3 393 31.2 393 32.1 393.6 32.6 393.9 33.1 392.9 33.9 393 34.9 391.3 35.5 390.6 33.9 390 33 388.6 33.9 387.6 33.4 387.3 31.5 389.5 30.3 391.3 28.2 392.6 27.1 395 26.4 396.9 26.4 402.2 28 402.9 28.8 401.9 29.1 399.6 28.7 400.4 30 401.6 30.3 403.1 30 403.4 29.1 404.3 28.9 403.9 27.9 404.7 27.8 406.1 28.1 407.6 27.6 408.5 27.8 410.5 27.4 410.6 26.9 413.5 27.5 413.7 26.8 412.6 26 412.9 25.3 413.8 25.3 415 26.2 415.9 27.6 416.9 28.2 415.4 26.2 415.5 25.4 416.8 25.5 417.1 24.9 419 24.8 419.2 24.1 420 23.8 423.4 23.3 424.2 22.7 429 23.7 430 24.6 434.2 25.2 435.9 24.9 439.2 26.2 441.9 25.4 444.5 25.5 448.4 26.3 450 26.2 452 26.8 453.5 27 455.3 27 456.2 26.8 458.5 26.9 461.4 27.4 M464.7 29.7 464.2 30 465.4 31.2 464.6 31.6 464.4 32.7 461.3 32.8 461.8 33.9 463.5 35 464 35.9 464.1 37.1 463.5 37.2 463.7 38.4 460.4 35.5 459.3 34.2 459.9 33.9 459.1 32.4 459.4 31.5 457 31.7 457.2 33.2 455.6 33 452.9 33.1 451.7 33.3 451.3 34.9 451.5 36.1 452.8 36.7 454.4 36.9 455.4 37.7 456.8 40.3 456.5 41 456.3 42.6 455.4 43.7 454.5 43.6 454.2 43.9 454.2 44.9 453.8 45.7 455.5 47.6 455.9 48.6 455.6 48.9 454.5 49.2 453.9 47.2 453.1 46.9 452.3 45.9 451.7 45.7 451 45.9 450.5 46.3 450.3 45.2 449.7 45 449.3 45.7 448.7 46.2 448.7 46.6 450.1 47.4 450.6 47 451.7 47.4 451.1 47.9 450.6 49 452.5 50.9 453 51.7 453.3 53.3 452.2 55.7 451.6 56.6 448.1 58.2 448 58.8 447.5 58 446.7 58 445.7 59.3 445.7 60 447.8 62.3 448.2 63.6 448.3 64.6 447 65.5 446 66.5 445.6 65.3 444.7 65 444.4 64.2 443.4 63.8 442.8 63.3 442.5 65 442.8 66 443.7 67.7 444.5 68.2 445.2 69.3 445.3 70.5 445.7 71.4 445.3 71.5 444.4 70.8 443.8 70 443.4 68.7 443.3 67.7 442.2 66.9 442.1 66 442.2 65 441.8 63.3 440.9 61 440 61.6 439.3 61.4 439.3 60.3 437.8 58.3 437.3 57.3 436.6 57.6 434.7 58 434.5 59 433.7 59.4 432.4 61 431.3 61.8 431.4 63.6 431.3 65 430.1 66.9 429.4 66.3 429 64.9 427.7 62.3 426.8 59.6 426.6 58.3 426.4 57.8 425.3 58.4 424.4 57.4 424.9 57.1 424 56.6 422.7 55.3 421.6 55.5 419.9 55.5 417.6 55.1 417.2 54.3 416.6 54.2 415.5 54.5 414.3 53.7 413.3 52.6 412.5 52.3 411.9 52.4 412.3 53.6 413.6 55.1 414 54.9 414.3 55.6 414.3 56.1 416 56.1 416.8 55.3 416.9 54.7 417.1 55.9 418.3 56.5 419.1 57.3 418 59.6 416.7 61 415.3 61.5 412.5 63.3 411.1 63.8 410.2 63.8 409.2 60.6 407.3 58 406.6 56.3 404.7 53.6 404.4 52.6 404.3 53.7 403.3 52.3 403.6 53.5 406 57.6 406.4 59.6 407.2 60.4 407.7 61.8 410.1 64 410.6 65.3 414.7 64.4 414.6 65.3 414.4 66.7 412.7 69.7 408.6 74 408 75.4 407.7 76.7 408.5 80.7 408.5 82.4 407.8 83.6 406.3 84.4 405.4 85.7 405.2 88.4 403.7 89.4 403.3 91.4 401.7 93.4 400.5 94.4 399.1 95.1 397.7 95.1 396 95.7 395.2 95.3 395.1 94.1 394.8 92.8 393.7 90.4 393.3 88.4 393.3 87.1 391.9 84.4 391.8 83.4 392.3 81.4 393 80.1 392 76 391.5 74.7 390.6 73.4 390.5 72 390.8 69.7 390 69.3 388.4 69.5 387.7 68.1 385.6 68.3 384.2 69 382.1 68.9 380.7 69.4 379.8 69 377.5 67 377.2 66 375.5 64.2 375 62.5 375.5 61.6 375.8 60.3 375.3 58.3 376.7 55.3 377.6 53.9 378.6 53.4 379.4 52.6 379.6 51.6 380.3 50.3 381.3 49.6 381.8 48.4 383.7 48.8 386.1 47.9 390.6 47.4 391 47.7 390.8 48.6 390.8 49.6 391.4 50.1 393.4 50.7 394 51.5 395.4 52.1 396.2 51.6 396.2 50.8 397 50.3 401.2 51.7 402.3 51.2 404.1 51.4 404.6 49.6 404.8 47.8 403.9 47.7 403.1 48.2 401.9 47.7 401.2 48.1 400.3 47.8 399.4 46.6 399.1 45.2 398.9 45 397.9 45.1 397.2 45.6 397.5 46.2 398 46.8 397.5 47.2 397.3 47.9 396.9 47.6 396.4 46.6 395.5 45.2 395.4 44.4 392.1 41.8 391.5 42 391.5 42.6 392.2 43.3 392.7 44.1 394.7 45.2 395 45.5 394.2 45.3 393.9 45.9 394.3 46.2 393.7 46.9 393.5 46.8 393.6 45.9 393.1 45.4 390.9 43.9 390.3 42.9 389.5 42.7 388.7 43.2 386.9 43.4 386.6 44 386.8 44.4 385.6 44.9 385.1 45.7 384.9 46.2 385.2 46.4 384.7 47.2 384 47.8 382.6 47.8 382 48.2 M308.7 27.4 310.6 29.1 308.1 30 306.7 29.4 305.4 29.7 M400 44.8 400.2 42.4 400.8 41.3 401.5 41.2 402.4 41.6 402 42 402.6 42.6 404.1 42.1 404.7 41.1 404.9 42.3 404.7 42.5 405.9 43.3 407.2 44.6 406.4 44.9 405.3 44.9 404.2 44.4 403.1 44.2 402.1 44.4 401.1 44.8 400 44.8 M409.7 42.6 409.8 41.9 410.4 41.3 411.6 41 412.5 41.3 412.7 42.1 411.9 42.6 411.9 43.4 413 44.2 413.6 45.9 414.4 47.4 413.1 47.7 412.2 47.3 411.6 46.6 411.6 45.4 410.1 43.6 409.7 42.6 M382.2 39 385.8 38.2 385.9 37.3 385.2 37 384.1 35.3 383.6 35.2 384.1 34.2 383.4 34.1 383.6 33.5 382.7 33.5 382.2 34.9 382.6 35.9 383.3 35.9 383.6 36.7 382.8 36.9 383 37.4 382.5 37.8 383.3 38.1 382.5 38.4 382.2 39 M382.1 37.7 382 36.7 382.4 36.1 381.7 35.6 380.1 36.4 380.4 37.1 380 37.8 380.8 38 382.1 37.7 M375.2 30.3 374.5 29.4 375.2 28.9 378.5 28.9 379 29.6 378.6 30 377 30.6 375.2 30.3 M389.1 22.3 390.8 23.1 393.2 22.3 394.8 21.6 392.2 21.4 389.4 21.7 389.1 22.3 M406.4 26 407.9 26.5 408.9 26.4 407.8 25.4 408.4 24.4 411.4 23.2 410.1 23.1 407.8 23.6 406.8 24.4 406.4 26 M421 22.6 423.7 22.1 422.4 21.4 419.6 21.2 418.3 21.6 421 22.6 M438.4 23.8 440.7 24.4 443.4 23.8 440.6 23.3 438.4 23.6 438.4 23.8 M459.6 44.6 460.3 44.6 461.2 44.2 461.8 43.4 461.2 42.7 459 41.9 459.6 43.3 459 43.4 459.6 44.6 M460.5 44.7 461.5 45.9 461.5 46.9 462.1 48.4 461.8 49 461.4 49.2 460.4 49.2 460.2 49.9 459.5 49.7 459.4 49.2 457.3 49.6 457.1 49.2 457.7 48.6 459.2 48.4 459.8 47.2 460.4 46.9 460.4 45.9 459.9 45 460.5 44.7 M456.8 49.7 457.3 49.7 458.1 50.3 458.1 51.3 457.7 51.6 456.6 50.1 456.8 49.7 M458.3 50.1 459.1 50.1 459.3 49.6 458.3 49.4 458.3 50.1 M458.7 41.6 459.3 41.3 456.7 38 454.8 36.2 458.7 41.6 M453.4 56.9 453.9 57.6 454.2 56.9 454.1 55.6 453.6 55.6 453.4 56.9 M447.3 59.5 448.2 60.1 448.6 59.2 448.3 58.9 447.7 59 447.3 59.5 M431.4 68 431.9 68.3 432.6 67.5 432.1 66.5 431.4 65.8 431.4 68 M454.1 61.3 454.2 60 455.1 60 455.5 61 455.1 62 455.5 63 456.7 63.6 455.2 63.1 454.7 62.7 454.2 62 454.1 61.3 M455.9 67.7 457.3 66.7 457.8 65.8 458.5 67.3 458.3 68.1 457.7 68.5 457.1 68 455.9 67.7 M457.1 64 457.9 64.6 457.5 65.7 456.6 65.3 456 64.6 457.1 64 M453.1 66.8 454.3 65.3 454 65 453 66.7 453.1 66.8 M448.5 71.3 449.1 73.6 450 74.4 450.8 74.5 451.7 74.9 452.6 74.7 453.5 72.3 454.2 71.7 453.8 71 454 69.3 454.4 68.8 453.5 68.3 453 67.7 451.9 69 451.4 69.3 450.8 70.2 448.5 71.3 M440.5 68.6 441.8 68.9 443.6 71 445 72 445.6 72.7 445.9 73.4 446.6 74 446.7 75 446.6 76.2 445.8 76.2 444.1 74.4 443.5 73 441.2 70 440.5 68.6 M446.2 76.9 447 76.4 449.3 76.9 450.4 77 451.6 77.5 451.4 78.2 447.8 77.6 446.2 76.9 M451.9 77.8 455.9 77.9 456.4 78.1 452.4 78.3 451.9 77.8 M456.7 79.2 457.7 78.4 458.9 78 457.8 78.8 456.7 79.2 M454.5 76 455.1 76 455.2 74.4 455.5 74 456.3 75.4 456.7 73.7 455.8 73 456.7 73 456.7 72 457.8 71.3 457.3 71.8 455.5 71.7 454.9 72 454.9 73 454.4 73 454.6 74.7 454.5 76 M459.3 71.1 459.9 71.7 459.6 72.7 459.3 72 459.3 71.1 M459.6 74.5 461 74.6 460.7 74.9 459.5 74.8 459.6 74.5 M461.3 73.2 462.2 72.7 463.1 73 463.9 74.4 465.1 73.4 469.1 74.9 470 76 471 76.4 470.7 77.6 472 79.2 470.8 79.2 469.8 77.7 467.7 78.6 466.9 78.4 465.8 77.8 465.2 78 465.2 76.4 463.6 75.4 462.4 75 461.3 73.2 M471.4 76 473.5 75.2 473.2 76 472 76.5 471.4 76 M449.8 87.1 454.3 85.4 456.1 83.7 457.1 82.4 458.4 81.7 459.7 82.3 460.2 81.1 461.8 80.1 462.6 80.4 463.7 80.5 464.2 81.4 463.2 82.4 465.2 84.1 465.9 84.1 466.7 82.4 466.9 80.7 467.6 79.5 468.1 80.7 468.1 81.9 468.8 82.4 468.9 84.1 471.8 89.1 471.4 91.2 470.3 93.1 466.7 97.1 465.3 97.7 464 98.5 463.3 97.9 462.3 98.3 461.5 97.8 461.1 97.1 460.9 95.5 461.1 94.4 459.8 95.7 459.3 94.3 458.4 93.8 456.8 93.6 455 94 452.3 95 450.9 95.3 449.5 95.9 448.4 95.3 449.3 93.8 449.2 89.8 449.8 87.1 M462.4 99.6 463.2 99.9 464.3 99.7 463.5 100.8 462.4 101.5 462 101 462.4 99.6 M480.1 95.5 480.6 96.3 480.6 97.1 481.9 97.6 479.6 99.5 478.3 100.2 478.2 99.9 479 99.1 478.7 98.6 479.7 97.8 480 96.8 480.1 95.5 M477.5 99.5 478 100 475.8 101.6 474.7 102.1 473.6 103 472.4 103.5 471.4 103.1 472.3 102.3 475.2 101 477.5 99.5 M413.6 80.4 414.1 82.9 413.5 84.1 411.7 89.1 410.5 89.4 410 88.8 409.7 87.1 410.5 85.4 410.3 83.7 411.5 82.9 413.6 80.4 M336.6 57.7 337.8 57 339 56.9 340 57.4 341.1 58.3 342.6 58.8 340.7 59 340.5 58.5 339.4 57.8 338.3 57.4 336.6 57.7 M342.4 60 343.6 59 345 59.2 345.8 59.9 344 60.5 342.9 60.3 342.4 60 M340.1 60 341.3 60.2 341 60.4 340.1 60 M346.5 60 347.4 60 347.3 60.3 346.5 60.3 346.5 60 M317.9 122.2 326 122.5 325.4 121.9 327.2 121.6 328.6 120.9 331.7 120.3 337.3 120.1 341.6 120.3 345 119.8 348.8 119.5 353 119.8 354.2 118.7 356.6 119.3 356.4 116.8 356.6 115.6 357.5 114.7 359.4 114 359.2 114.7 358.5 115.9 358.8 117.3 361 120.3 361.7 120.9 366.3 122 370.1 122.1 380.1 118.7 383 118.2 385.1 117.9 393.4 117.9 402 117.3 406.8 115.9 409.1 115.6 411 116.2 415.2 116.5 415.4 117.6 417.5 117.6 419.5 116.5 424.2 115.9 428.8 115.6 433.2 115.6 437.3 115.9 442 115.6 445.9 116 452 117.9 452.9 118.7 454.7 118.9 453.1 119.8 449.8 120.6 446.5 121.9 447.5 122.1 452.2 122.2" fill="none" stroke="#000" stroke-width="1.2" stroke-linejoin="round"/>
<g fill="none" stroke="#ffff00" stroke-width="1.4" stroke-linejoin="round">
<path d="M365.8 17 365.3 18 364 18.5 360 18.9 357 19.4 356 19 355.9 17"/>
</g>
<ellipse cx="317.6" cy="48.2" rx="1.5" ry="1.2" fill="#ffff00"/>
<ellipse cx="324" cy="45.4" rx="1.5" ry="1.2" fill="#ffff00"/>
<ellipse cx="322.6" cy="47.5" rx="1.5" ry="1.2" fill="#ffff00"/>
<ellipse cx="322.5" cy="80" rx="1.5" ry="1.2" fill="#ffff00"/>
<ellipse cx="332.5" cy="77.5" rx="1.5" ry="1.2" fill="#ffff00"/>
<ellipse cx="335" cy="77.8" rx="1.5" ry="1.2" fill="#ffff00"/>
<ellipse cx="342.5" cy="72.5" rx="1.5" ry="1.2" fill="#ffff00"/>
<ellipse cx="294" cy="87.5" rx="1.5" ry="1.2" fill="#ffff00"/>
<ellipse cx="300" cy="89" rx="1.5" ry="1.2" fill="#ffff00"/>
<ellipse cx="292.5" cy="100" rx="1.5" ry="1.2" fill="#ffff00"/>
<ellipse cx="297.5" cy="102.5" rx="1.5" ry="1.2" fill="#ffff00"/>
<ellipse cx="305" cy="107.5" rx="1.5" ry="1.2" fill="#ffff00"/>
<ellipse cx="364.5" cy="44.7" rx="1.5" ry="1.2" fill="#ffff00"/>
<ellipse cx="388.5" cy="64.2" rx="1.5" ry="1.2" fill="#ffff00"/>
<ellipse cx="393" cy="63.5" rx="1.5" ry="1.2" fill="#ffff00"/>
<ellipse cx="386.2" cy="62.7" rx="1.5" ry="1.2" fill="#ffff00"/>
<ellipse cx="398.2" cy="51.5" rx="1.5" ry="1.2" fill="#ffff00"/>
<ellipse cx="435" cy="49.7" rx="1.5" ry="1.2" fill="#ffff00"/>
<ellipse cx="442" cy="50.6" rx="1.5" ry="1.2" fill="#ffff00"/>
<ellipse cx="455" cy="45.5" rx="1.5" ry="1.2" fill="#ffff00"/>
<ellipse cx="433.6" cy="62.5" rx="1.5" ry="1.2" fill="#ffff00"/>
<ellipse cx="433.6" cy="96.7" rx="1.5" ry="1.2" fill="#ffff00"/>
<ellipse cx="452" cy="98" rx="1.5" ry="1.2" fill="#ffff00"/>
<ellipse cx="423.7" cy="106.6" rx="1.5" ry="1.2" fill="#ffff00"/>
<ellipse cx="422.3" cy="116.6" rx="1.5" ry="1.2" fill="#ffff00"/>
<ellipse cx="425" cy="116" rx="1.5" ry="1.2" fill="#ffff00"/>
<ellipse cx="444.8" cy="31.2" rx="1.5" ry="1.2" fill="#ffff00"/>
<ellipse cx="426" cy="110" rx="1.5" ry="1.2" fill="#ffff00"/>
<ellipse cx="327" cy="77.8" rx="1.5" ry="1.2" fill="#ffff00"/>
<ellipse cx="330" cy="77.6" rx="1.5" ry="1.2" fill="#ffff00"/>
<ellipse cx="295" cy="88.5" rx="1.5" ry="1.2" fill="#ffff00"/>
<ellipse cx="290.5" cy="99" rx="1.5" ry="1.2" fill="#ffff00"/>
<ellipse cx="294.5" cy="101.5" rx="1.5" ry="1.2" fill="#ffff00"/>
<ellipse cx="343.5" cy="71.5" rx="1.5" ry="1.2" fill="#ffff00"/>
</g>
<path d="M440.9 126.3 446 124.7 451.3 122.6 455.6 120.6 459.5 118.5 464.7 115 469.6 111.4 474 107.6 477.3 104.4 480.7 100.5 482.6 97.8 485 93.8 486.6 90.4 487.9 86.4 489.1 81.1 489.6 77 489.9 72.3 489.6 67.7 489.1 63.6 487.9 58.3 486.6 54.3 485 50.9 482.6 46.9 480.7 44.2 477.3 40.3 474 37.1 469.6 33.3 464.7 29.7 459.5 26.2 455.6 24.1 451.3 22.1 446 20 440.9 18.3 329.2 18.3 325.1 19.6 319.9 21.6 315.5 23.6 311.5 25.7 307.1 28.5 302.1 32.1 298.2 35.2 294.7 38.4 292.2 41 288.9 44.9 285.4 50.3 284.1 52.9 283 55.6 281.2 62.3 280.7 65.7 280.3 69.7 280.2 72.3 280.4 76.4 280.8 79.7 281.4 83.1 282.6 87.8 283.5 90.4 284.7 93.1 286.2 95.8 287.9 98.5 290 101.1 294.7 106.3 300.5 111.4 307.1 116.2 313.5 120.1 317.7 122.1 322 123.9 329.2 126.3Z" fill="none" stroke="#222" stroke-width="1.0"/>
</svg></body></html>
